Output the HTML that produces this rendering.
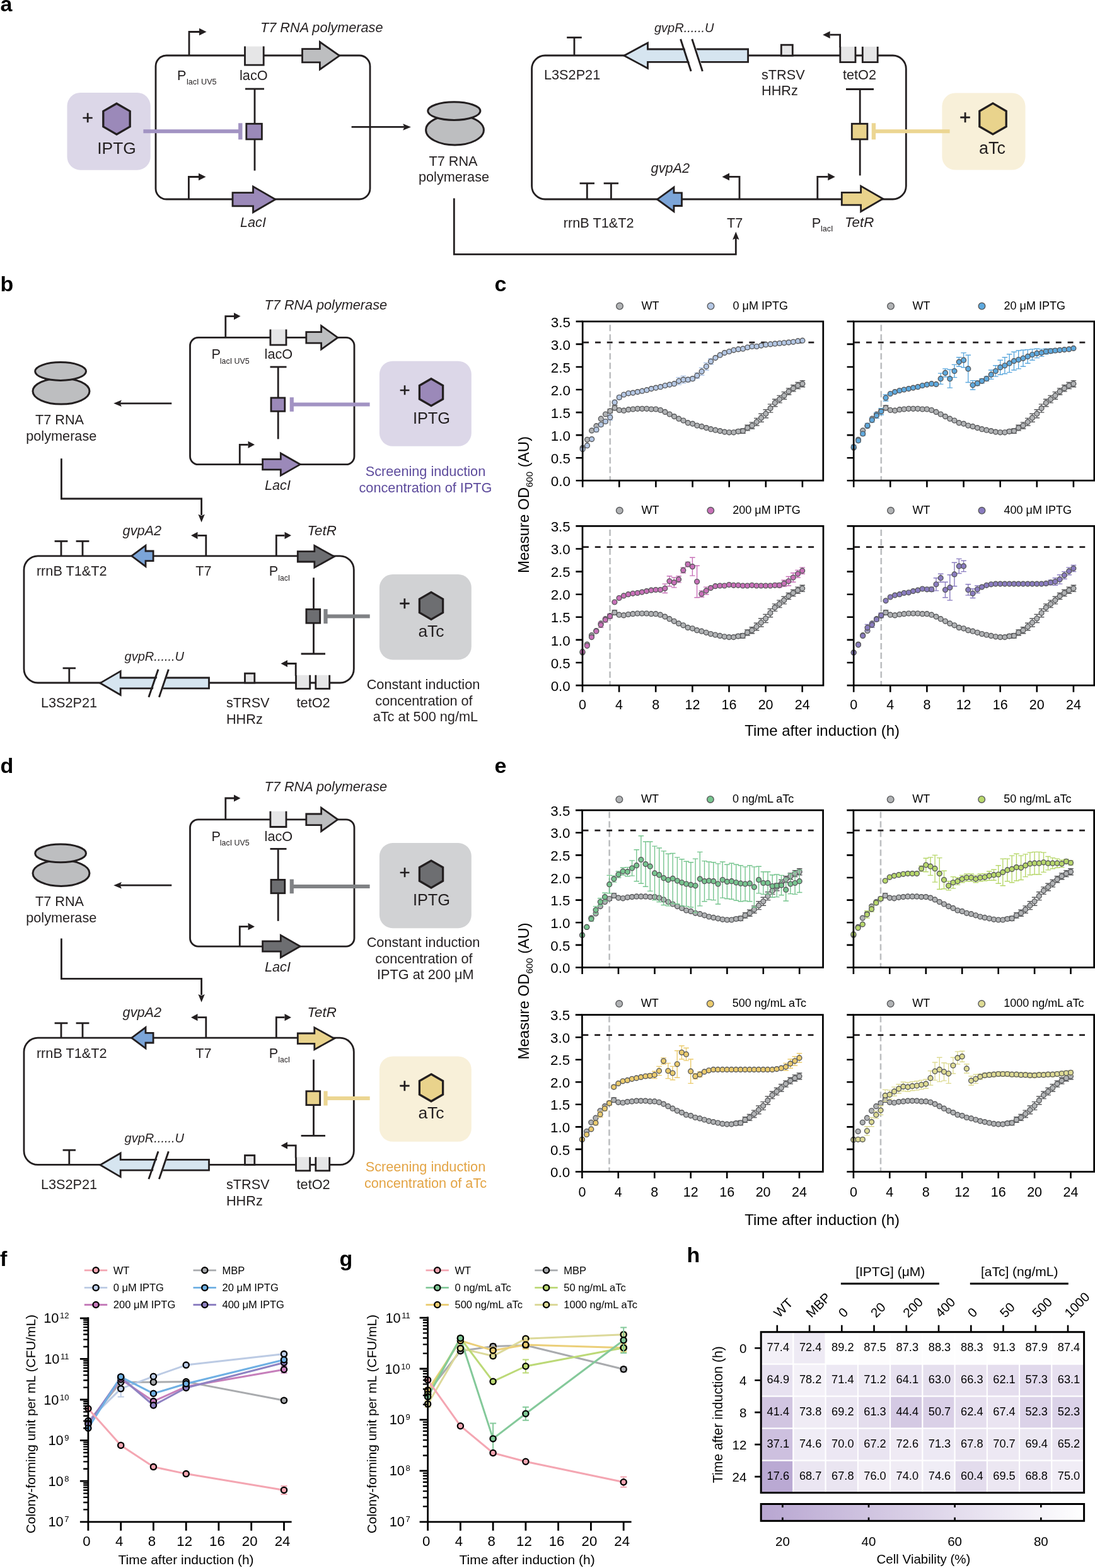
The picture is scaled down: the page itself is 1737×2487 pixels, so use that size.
<!DOCTYPE html>
<html><head><meta charset="utf-8"><title>Figure</title>
<style>
html,body{margin:0;padding:0;background:#fff;}
svg{display:block;}
text{font-family:'Liberation Sans',Arial,Helvetica,sans-serif;fill:#000;}
</style></head>
<body>
<svg width="1737" height="2487" viewBox="0 0 1737 2487">
<rect width="1737" height="2487" fill="#fff"/>
<text x="0.5" y="18.3" style="font-size:34px;font-weight:bold">a</text>
<text x="0.5" y="462" style="font-size:34px;font-weight:bold">b</text>
<text x="784.5" y="462" style="font-size:34px;font-weight:bold">c</text>
<text x="0.5" y="1226.4" style="font-size:34px;font-weight:bold">d</text>
<text x="784.5" y="1225.5" style="font-size:34px;font-weight:bold">e</text>
<text x="0.0" y="2008" style="font-size:34px;font-weight:bold">f</text>
<text x="538.5" y="2008" style="font-size:34px;font-weight:bold">g</text>
<text x="1089.5" y="2002" style="font-size:34px;font-weight:bold">h</text>
<rect x="247.0" y="88.0" width="340.0" height="228.0" rx="17" ry="17" fill="none" stroke="#231f20" stroke-width="2.8"/>
<polyline points="300.0,88.0 300.0,50.5 316.0,50.5" fill="none" stroke="#231f20" stroke-width="2.8" stroke-linejoin="miter"/>
<polygon points="316.0,44.7 327.5,50.5 316.0,56.3" fill="#231f20"/>
<rect x="388.5" y="73.6" width="29.7" height="29.5" fill="#e6e6e7"/>
<polyline points="388.5,73.6 388.5,103.1 418.2,103.1 418.2,73.6" fill="none" stroke="#231f20" stroke-width="2.8" stroke-linejoin="miter"/>
<polygon points="479.5,77.7 507.4,77.7 507.4,66.5 538.5,88.3 507.4,110.1 507.4,98.9 479.5,98.9" fill="#bdbec0" stroke="#231f20" stroke-width="2.8" stroke-linejoin="miter"/>
<text x="413.0" y="50.8" text-anchor="start" style="font-size:21.70px;fill:#231f20;font-style:italic">T7 RNA polymerase</text>
<text x="281.0" y="127.0" text-anchor="start" style="font-size:21.70px;fill:#231f20">P</text>
<text x="296.0" y="134.0" text-anchor="start" style="font-size:12.60px;fill:#231f20">lacI UV5</text>
<text x="380.0" y="127.0" text-anchor="start" style="font-size:21.70px;fill:#231f20">lacO</text>
<line x1="389.0" y1="141.0" x2="419.0" y2="141.0" stroke="#231f20" stroke-width="2.8"/>
<line x1="404.0" y1="141.0" x2="404.0" y2="270.6" stroke="#231f20" stroke-width="2.8"/>
<rect x="390.8" y="196.3" width="24.6" height="24.6" fill="#9b89b9" stroke="#231f20" stroke-width="2.8"/>
<polyline points="299.4,316.0 299.4,280.5 315.0,280.5" fill="none" stroke="#231f20" stroke-width="2.8" stroke-linejoin="miter"/>
<polygon points="315.0,274.7 326.5,280.5 315.0,286.3" fill="#231f20"/>
<polygon points="369.0,305.7 401.5,305.7 401.5,295.9 436.8,316.3 401.5,336.7 401.5,326.9 369.0,326.9" fill="#9b89b9" stroke="#231f20" stroke-width="2.8" stroke-linejoin="miter"/>
<text x="381.0" y="360.4" text-anchor="start" style="font-size:21.70px;fill:#231f20;font-style:italic">LacI</text>
<rect x="106.5" y="147.0" width="132.2" height="122.7" rx="21" ry="21" fill="#dcd7e8"/>
<polygon points="185.0,164.2 206.2,176.4 206.2,200.9 185.0,213.2 163.8,200.9 163.8,176.4" fill="#9b89b9" stroke="#231f20" stroke-width="3.3" stroke-linejoin="miter"/>
<text x="139.0" y="197.0" text-anchor="middle" style="font-size:30.36px;fill:#231f20" stroke="#231f20" stroke-width="0.45">+</text>
<text x="185.0" y="244.4" text-anchor="middle" style="font-size:26.40px;fill:#231f20">IPTG</text>
<line x1="227.4" y1="208.3" x2="381.3" y2="208.3" stroke="#a293c3" stroke-width="6"/>
<rect x="378.1" y="195.3" width="6.4" height="26.0" fill="#a293c3"/>
<line x1="557.6" y1="201.4" x2="641.4" y2="201.4" stroke="#231f20" stroke-width="2.8"/>
<polygon points="651.9,201.4 639.2,206.7 641.4,201.4 639.2,196.2" fill="#231f20"/>
<ellipse cx="721.5" cy="206.2" rx="45.9" ry="23.7" fill="#bdbec0" stroke="#231f20" stroke-width="3"/>
<ellipse cx="720.3" cy="176.1" rx="41.6" ry="14.3" fill="#bdbec0" stroke="#231f20" stroke-width="3"/>
<text x="719.0" y="263.0" text-anchor="middle" style="font-size:21.70px;fill:#231f20">T7 RNA</text>
<text x="720.0" y="288.4" text-anchor="middle" style="font-size:21.70px;fill:#231f20">polymerase</text>
<polyline points="720.3,314.6 720.3,403.3 1167.3,403.3 1167.3,376" fill="none" stroke="#231f20" stroke-width="2.8"/>
<polygon points="1167.3,367.5 1162.1,380.2 1167.3,378 1172.5,380.2" fill="#231f20"/>
<rect x="843.6" y="88.0" width="593.7" height="228.0" rx="21" ry="21" fill="none" stroke="#231f20" stroke-width="2.8"/>
<line x1="911.0" y1="88.0" x2="911.0" y2="59.5" stroke="#231f20" stroke-width="2.8"/>
<line x1="899.2" y1="59.5" x2="922.8" y2="59.5" stroke="#231f20" stroke-width="2.8"/>
<text x="863.0" y="126.0" text-anchor="start" style="font-size:21.70px;fill:#231f20">L3S2P21</text>
<polygon points="1186.6,78.0 1027.5,78.0 1027.5,68.0 990.0,88.2 1027.5,108.4 1027.5,98.4 1186.6,98.4" fill="#d6e5f0" stroke="#231f20" stroke-width="2.8" stroke-linejoin="miter"/>
<polygon points="1081.5,62 1099.9,62 1116.5,113 1098.1,113" fill="#ffffff"/>
<line x1="1079.6" y1="62.0" x2="1096.2" y2="113.0" stroke="#231f20" stroke-width="2.9"/>
<line x1="1097.8" y1="62.0" x2="1114.4" y2="113.0" stroke="#231f20" stroke-width="2.9"/>
<text x="1038.0" y="50.8" text-anchor="start" style="font-size:20.00px;fill:#231f20;font-style:italic">gvpR......U</text>
<rect x="1239.3" y="71.2" width="18" height="17" fill="#e6e6e7" stroke="#231f20" stroke-width="2.8"/>
<text x="1208.0" y="126.0" text-anchor="start" style="font-size:21.70px;fill:#231f20">sTRSV</text>
<text x="1208.0" y="151.3" text-anchor="start" style="font-size:21.70px;fill:#231f20">HHRz</text>
<rect x="1332.8" y="74.0" width="24.2" height="24.6" fill="#e6e6e7"/>
<polyline points="1332.8,74.0 1332.8,98.6 1357.0,98.6 1357.0,74.0" fill="none" stroke="#231f20" stroke-width="2.8" stroke-linejoin="miter"/>
<rect x="1368.3" y="74.0" width="23.9" height="24.6" fill="#e6e6e7"/>
<polyline points="1368.3,74.0 1368.3,98.6 1392.2,98.6 1392.2,74.0" fill="none" stroke="#231f20" stroke-width="2.8" stroke-linejoin="miter"/>
<polyline points="1332.6,75.0 1332.6,55.2 1316.7,55.2" fill="none" stroke="#231f20" stroke-width="2.8" stroke-linejoin="miter"/>
<polygon points="1316.7,49.4 1305.2,55.2 1316.7,61.0" fill="#231f20"/>
<text x="1337.0" y="125.7" text-anchor="start" style="font-size:21.70px;fill:#231f20">tetO2</text>
<line x1="1342.0" y1="141.5" x2="1386.0" y2="141.5" stroke="#231f20" stroke-width="2.8"/>
<line x1="1364.2" y1="141.5" x2="1364.2" y2="278.4" stroke="#231f20" stroke-width="2.8"/>
<rect x="1351.3" y="196.3" width="24.6" height="24.6" fill="#e9d38c" stroke="#231f20" stroke-width="2.8"/>
<rect x="1494.4" y="147.5" width="132.1" height="122.1" rx="21" ry="21" fill="#f8f0d9"/>
<polygon points="1575.0,163.9 1596.2,176.2 1596.2,200.7 1575.0,212.9 1553.8,200.7 1553.8,176.2" fill="#e9d38c" stroke="#231f20" stroke-width="3.3" stroke-linejoin="miter"/>
<text x="1531.0" y="197.0" text-anchor="middle" style="font-size:31.05px;fill:#231f20" stroke="#231f20" stroke-width="0.45">+</text>
<text x="1574.0" y="243.8" text-anchor="middle" style="font-size:27.00px;fill:#231f20">aTc</text>
<line x1="1506.6" y1="208.3" x2="1385.9" y2="208.3" stroke="#ecd692" stroke-width="6"/>
<rect x="1382.7" y="195.3" width="6.4" height="26.0" fill="#ecd692"/>
<line x1="931.3" y1="316.0" x2="931.3" y2="290.8" stroke="#231f20" stroke-width="2.8"/>
<line x1="919.6" y1="290.8" x2="943.0" y2="290.8" stroke="#231f20" stroke-width="2.8"/>
<line x1="969.4" y1="316.0" x2="969.4" y2="290.8" stroke="#231f20" stroke-width="2.8"/>
<line x1="957.7" y1="290.8" x2="981.1" y2="290.8" stroke="#231f20" stroke-width="2.8"/>
<polygon points="1081.5,305.9 1069.0,305.9 1069.0,297.0 1042.6,316.2 1069.0,335.4 1069.0,326.5 1081.5,326.5" fill="#7ca5d8" stroke="#231f20" stroke-width="2.8" stroke-linejoin="miter"/>
<text x="1032.6" y="273.5" text-anchor="start" style="font-size:21.70px;fill:#231f20;font-style:italic">gvpA2</text>
<polyline points="1173.0,316.0 1173.0,280.4 1157.0,280.4" fill="none" stroke="#231f20" stroke-width="2.8" stroke-linejoin="miter"/>
<polygon points="1157.0,274.6 1145.5,280.4 1157.0,286.2" fill="#231f20"/>
<polyline points="1296.8,316.0 1296.8,280.4 1313.3,280.4" fill="none" stroke="#231f20" stroke-width="2.8" stroke-linejoin="miter"/>
<polygon points="1313.3,274.6 1324.8,280.4 1313.3,286.2" fill="#231f20"/>
<polygon points="1335.3,305.4 1365.6,305.4 1365.6,295.1 1400.5,315.3 1365.6,335.5 1365.6,325.2 1335.3,325.2" fill="#e9d38c" stroke="#231f20" stroke-width="2.8" stroke-linejoin="miter"/>
<text x="1340.0" y="360.0" text-anchor="start" style="font-size:22.30px;fill:#231f20;font-style:italic">TetR</text>
<text x="893.8" y="360.5" text-anchor="start" style="font-size:21.70px;fill:#231f20">rrnB T1&amp;T2</text>
<text x="1153.0" y="360.5" text-anchor="start" style="font-size:21.70px;fill:#231f20">T7</text>
<text x="1287.7" y="360.5" text-anchor="start" style="font-size:21.70px;fill:#231f20">P</text>
<text x="1302.0" y="367.0" text-anchor="start" style="font-size:12.60px;fill:#231f20">lacI</text>
<rect x="301.5" y="535.4" width="260.5" height="201.3" rx="13" ry="13" fill="none" stroke="#231f20" stroke-width="2.8"/>
<polyline points="357.8,535.4 357.8,501.6 371.0,501.6" fill="none" stroke="#231f20" stroke-width="2.8" stroke-linejoin="miter"/>
<polygon points="371.0,496.0 381.5,501.6 371.0,507.2" fill="#231f20"/>
<rect x="428.9" y="522.4" width="25.1" height="24.7" fill="#e6e6e7"/>
<polyline points="428.9,522.4 428.9,547.1 454.0,547.1 454.0,522.4" fill="none" stroke="#231f20" stroke-width="2.8" stroke-linejoin="miter"/>
<polygon points="485.8,526.6 509.6,526.6 509.6,516.7 535.8,535.4 509.6,554.1 509.6,544.2 485.8,544.2" fill="#bdbec0" stroke="#231f20" stroke-width="2.8" stroke-linejoin="miter"/>
<text x="419.6" y="491.0" text-anchor="start" style="font-size:21.70px;fill:#231f20;font-style:italic">T7 RNA polymerase</text>
<text x="335.5" y="569.3" text-anchor="start" style="font-size:21.70px;fill:#231f20">P</text>
<text x="348.8" y="576.7" text-anchor="start" style="font-size:12.40px;fill:#231f20">lacI UV5</text>
<text x="419.6" y="569.3" text-anchor="start" style="font-size:21.70px;fill:#231f20">lacO</text>
<line x1="428.5" y1="582.0" x2="454.5" y2="582.0" stroke="#231f20" stroke-width="2.8"/>
<line x1="441.2" y1="582.0" x2="441.2" y2="696.4" stroke="#231f20" stroke-width="2.8"/>
<rect x="430.0" y="631.0" width="21.8" height="21.3" fill="#9b89b9" stroke="#231f20" stroke-width="2.8"/>
<line x1="586.6" y1="641.5" x2="462.8" y2="641.5" stroke="#a293c3" stroke-width="6"/>
<rect x="459.7" y="630.2" width="6.2" height="22.6" fill="#a293c3"/>
<polyline points="380.3,736.7 380.3,705.3 393.5,705.3" fill="none" stroke="#231f20" stroke-width="2.8" stroke-linejoin="miter"/>
<polygon points="393.5,699.7 404.0,705.3 393.5,710.9" fill="#231f20"/>
<polygon points="416.6,728.4 445.3,728.4 445.3,719.0 476.2,736.6 445.3,754.2 445.3,744.8 416.6,744.8" fill="#9b89b9" stroke="#231f20" stroke-width="2.8" stroke-linejoin="miter"/>
<text x="420.0" y="776.6" text-anchor="start" style="font-size:21.70px;fill:#231f20;font-style:italic">LacI</text>
<rect x="601.9" y="572.7" width="145.9" height="135.1" rx="21" ry="21" fill="#dcd7e8"/>
<polygon points="684.0,600.7 702.6,611.5 702.6,633.0 684.0,643.7 665.4,633.0 665.4,611.5" fill="#9b89b9" stroke="#231f20" stroke-width="3.3" stroke-linejoin="miter"/>
<text x="642.0" y="629.2" text-anchor="middle" style="font-size:29.21px;fill:#231f20" stroke="#231f20" stroke-width="0.45">+</text>
<text x="684.5" y="671.5" text-anchor="middle" style="font-size:25.40px;fill:#231f20">IPTG</text>
<line x1="272.3" y1="639.8" x2="190.7" y2="639.8" stroke="#231f20" stroke-width="2.8"/>
<polygon points="180.2,639.8 192.9,634.5 190.7,639.8 192.9,645.0" fill="#231f20"/>
<ellipse cx="97.0" cy="620.5" rx="45.0" ry="20.6" fill="#bdbec0" stroke="#231f20" stroke-width="3"/>
<ellipse cx="96.1" cy="589.0" rx="40.4" ry="14.4" fill="#bdbec0" stroke="#231f20" stroke-width="3"/>
<text x="94.5" y="672.8" text-anchor="middle" style="font-size:21.70px;fill:#231f20">T7 RNA</text>
<text x="97.3" y="699.0" text-anchor="middle" style="font-size:21.70px;fill:#231f20">polymerase</text>
<polyline points="97.4,727.2 97.4,791.0 319.6,791.0 319.6,817.0" fill="none" stroke="#231f20" stroke-width="2.8"/>
<polygon points="319.6,828.5 314.4,815.8 319.6,818.0 324.8,815.8" fill="#231f20"/>
<rect x="38.0" y="881.8" width="523.3" height="201.2" rx="22" ry="22" fill="none" stroke="#231f20" stroke-width="2.8"/>
<line x1="97.0" y1="881.8" x2="97.0" y2="858.4" stroke="#231f20" stroke-width="2.8"/>
<line x1="86.6" y1="858.4" x2="107.4" y2="858.4" stroke="#231f20" stroke-width="2.8"/>
<line x1="131.0" y1="881.8" x2="131.0" y2="858.4" stroke="#231f20" stroke-width="2.8"/>
<line x1="120.6" y1="858.4" x2="141.4" y2="858.4" stroke="#231f20" stroke-width="2.8"/>
<polygon points="243.1,874.0 231.0,874.0 231.0,865.2 208.8,881.8 231.0,898.4 231.0,889.6 243.1,889.6" fill="#7ca5d8" stroke="#231f20" stroke-width="2.8" stroke-linejoin="miter"/>
<text x="194.6" y="849.0" text-anchor="start" style="font-size:21.70px;fill:#231f20;font-style:italic">gvpA2</text>
<polyline points="326.8,881.8 326.8,849.3 313.5,849.3" fill="none" stroke="#231f20" stroke-width="2.8" stroke-linejoin="miter"/>
<polygon points="313.5,843.7 303.0,849.3 313.5,854.9" fill="#231f20"/>
<text x="57.9" y="913.4" text-anchor="start" style="font-size:21.70px;fill:#231f20">rrnB T1&amp;T2</text>
<text x="310.3" y="913.4" text-anchor="start" style="font-size:21.70px;fill:#231f20">T7</text>
<polyline points="438.3,881.8 438.3,849.3 451.5,849.3" fill="none" stroke="#231f20" stroke-width="2.8" stroke-linejoin="miter"/>
<polygon points="451.5,843.7 462.0,849.3 451.5,854.9" fill="#231f20"/>
<polygon points="472.3,874.6 498.8,874.6 498.8,865.4 530.2,882.8 498.8,900.2 498.8,891.0 472.3,891.0" fill="#6d6e71" stroke="#231f20" stroke-width="2.8" stroke-linejoin="miter"/>
<text x="487.5" y="849.0" text-anchor="start" style="font-size:22.30px;fill:#231f20;font-style:italic">TetR</text>
<text x="426.7" y="913.4" text-anchor="start" style="font-size:21.70px;fill:#231f20">P</text>
<text x="441.2" y="920.7" text-anchor="start" style="font-size:12.20px;fill:#231f20">lacI</text>
<line x1="497.5" y1="916.2" x2="497.5" y2="1037.0" stroke="#231f20" stroke-width="2.8"/>
<line x1="477.6" y1="1037.0" x2="516.0" y2="1037.0" stroke="#231f20" stroke-width="2.8"/>
<rect x="485.9" y="966.4" width="21.8" height="21.8" fill="#6d6e71" stroke="#231f20" stroke-width="2.8"/>
<line x1="586.7" y1="977.6" x2="516.5" y2="977.6" stroke="#808285" stroke-width="6"/>
<rect x="513.4" y="966.1" width="6.2" height="23.0" fill="#808285"/>
<rect x="601.9" y="911.0" width="145.9" height="135.4" rx="21" ry="21" fill="#d1d2d4"/>
<polygon points="684.0,939.4 702.6,950.1 702.6,971.6 684.0,982.4 665.4,971.6 665.4,950.1" fill="#6d6e71" stroke="#231f20" stroke-width="3.3" stroke-linejoin="miter"/>
<text x="642.0" y="968.2" text-anchor="middle" style="font-size:30.47px;fill:#231f20" stroke="#231f20" stroke-width="0.45">+</text>
<text x="684.0" y="1009.7" text-anchor="middle" style="font-size:26.50px;fill:#231f20">aTc</text>
<line x1="109.8" y1="1083.0" x2="109.8" y2="1059.8" stroke="#231f20" stroke-width="2.8"/>
<line x1="99.6" y1="1059.8" x2="120.0" y2="1059.8" stroke="#231f20" stroke-width="2.8"/>
<polygon points="331.5,1075.0 191.2,1075.0 191.2,1064.6 159.0,1083.4 191.2,1102.2 191.2,1091.8 331.5,1091.8" fill="#d6e5f0" stroke="#231f20" stroke-width="2.8" stroke-linejoin="miter"/>
<polygon points="253.4,1061.8 268.8,1061.8 253.7,1105.7 238.3,1105.7" fill="#ffffff"/>
<line x1="251.0" y1="1061.8" x2="235.9" y2="1105.7" stroke="#231f20" stroke-width="2.9"/>
<line x1="267.4" y1="1061.8" x2="252.4" y2="1105.7" stroke="#231f20" stroke-width="2.9"/>
<text x="197.6" y="1047.9" text-anchor="start" style="font-size:20.00px;fill:#231f20;font-style:italic">gvpR......U</text>
<text x="64.9" y="1121.7" text-anchor="start" style="font-size:21.70px;fill:#231f20">L3S2P21</text>
<rect x="388.5" y="1068.1" width="15.3" height="14.9" fill="#e6e6e7" stroke="#231f20" stroke-width="2.8"/>
<polyline points="469.2,1072.0 469.2,1052.5 456.0,1052.5" fill="none" stroke="#231f20" stroke-width="2.8" stroke-linejoin="miter"/>
<polygon points="456.0,1046.9 445.5,1052.5 456.0,1058.1" fill="#231f20"/>
<rect x="469.5" y="1070.8" width="22.2" height="21.6" fill="#e6e6e7"/>
<polyline points="469.5,1070.8 469.5,1092.4 491.7,1092.4 491.7,1070.8" fill="none" stroke="#231f20" stroke-width="2.8" stroke-linejoin="miter"/>
<rect x="500.8" y="1070.8" width="21.9" height="21.6" fill="#e6e6e7"/>
<polyline points="500.8,1070.8 500.8,1092.4 522.7,1092.4 522.7,1070.8" fill="none" stroke="#231f20" stroke-width="2.8" stroke-linejoin="miter"/>
<text x="358.9" y="1121.7" text-anchor="start" style="font-size:21.70px;fill:#231f20">sTRSV</text>
<text x="358.9" y="1147.6" text-anchor="start" style="font-size:21.70px;fill:#231f20">HHRz</text>
<text x="470.6" y="1121.7" text-anchor="start" style="font-size:21.70px;fill:#231f20">tetO2</text>
<text x="675.0" y="754.5" text-anchor="middle" style="font-size:21.70px;fill:#5d4b9c">Screening induction</text>
<text x="675.0" y="780.7" text-anchor="middle" style="font-size:21.70px;fill:#5d4b9c">concentration of IPTG</text>
<text x="671.5" y="1092.8" text-anchor="middle" style="font-size:21.70px;fill:#231f20">Constant induction</text>
<text x="672.5" y="1119.0" text-anchor="middle" style="font-size:21.70px;fill:#231f20">concentration of</text>
<text x="674.9" y="1144.4" text-anchor="middle" style="font-size:21.70px;fill:#231f20">aTc at 500 ng/mL</text>
<rect x="301.5" y="1299.8" width="260.5" height="201.3" rx="13" ry="13" fill="none" stroke="#231f20" stroke-width="2.8"/>
<polyline points="357.8,1299.8 357.8,1266.0 371.0,1266.0" fill="none" stroke="#231f20" stroke-width="2.8" stroke-linejoin="miter"/>
<polygon points="371.0,1260.4 381.5,1266.0 371.0,1271.6" fill="#231f20"/>
<rect x="428.9" y="1286.8" width="25.1" height="24.7" fill="#e6e6e7"/>
<polyline points="428.9,1286.8 428.9,1311.5 454.0,1311.5 454.0,1286.8" fill="none" stroke="#231f20" stroke-width="2.8" stroke-linejoin="miter"/>
<polygon points="485.8,1291.0 509.6,1291.0 509.6,1281.1 535.8,1299.8 509.6,1318.5 509.6,1308.6 485.8,1308.6" fill="#bdbec0" stroke="#231f20" stroke-width="2.8" stroke-linejoin="miter"/>
<text x="419.6" y="1255.4" text-anchor="start" style="font-size:21.70px;fill:#231f20;font-style:italic">T7 RNA polymerase</text>
<text x="335.5" y="1333.7" text-anchor="start" style="font-size:21.70px;fill:#231f20">P</text>
<text x="348.8" y="1341.1" text-anchor="start" style="font-size:12.40px;fill:#231f20">lacI UV5</text>
<text x="419.6" y="1333.7" text-anchor="start" style="font-size:21.70px;fill:#231f20">lacO</text>
<line x1="428.5" y1="1346.4" x2="454.5" y2="1346.4" stroke="#231f20" stroke-width="2.8"/>
<line x1="441.2" y1="1346.4" x2="441.2" y2="1460.8" stroke="#231f20" stroke-width="2.8"/>
<rect x="430.0" y="1395.4" width="21.8" height="21.3" fill="#6d6e71" stroke="#231f20" stroke-width="2.8"/>
<line x1="586.6" y1="1405.9" x2="462.8" y2="1405.9" stroke="#808285" stroke-width="6"/>
<rect x="459.7" y="1394.6" width="6.2" height="22.6" fill="#808285"/>
<polyline points="380.3,1501.1 380.3,1469.7 393.5,1469.7" fill="none" stroke="#231f20" stroke-width="2.8" stroke-linejoin="miter"/>
<polygon points="393.5,1464.1 404.0,1469.7 393.5,1475.3" fill="#231f20"/>
<polygon points="416.6,1492.8 445.3,1492.8 445.3,1483.4 476.2,1501.0 445.3,1518.6 445.3,1509.2 416.6,1509.2" fill="#6d6e71" stroke="#231f20" stroke-width="2.8" stroke-linejoin="miter"/>
<text x="420.0" y="1541.0" text-anchor="start" style="font-size:21.70px;fill:#231f20;font-style:italic">LacI</text>
<rect x="601.9" y="1337.1" width="145.9" height="135.1" rx="21" ry="21" fill="#d1d2d4"/>
<polygon points="684.0,1365.1 702.6,1375.8 702.6,1397.3 684.0,1408.1 665.4,1397.3 665.4,1375.8" fill="#6d6e71" stroke="#231f20" stroke-width="3.3" stroke-linejoin="miter"/>
<text x="642.0" y="1393.6" text-anchor="middle" style="font-size:29.21px;fill:#231f20" stroke="#231f20" stroke-width="0.45">+</text>
<text x="684.5" y="1435.9" text-anchor="middle" style="font-size:25.40px;fill:#231f20">IPTG</text>
<line x1="272.3" y1="1404.2" x2="190.7" y2="1404.2" stroke="#231f20" stroke-width="2.8"/>
<polygon points="180.2,1404.2 192.9,1398.9 190.7,1404.2 192.9,1409.4" fill="#231f20"/>
<ellipse cx="97.0" cy="1384.9" rx="45.0" ry="20.6" fill="#bdbec0" stroke="#231f20" stroke-width="3"/>
<ellipse cx="96.1" cy="1353.4" rx="40.4" ry="14.4" fill="#bdbec0" stroke="#231f20" stroke-width="3"/>
<text x="94.5" y="1437.2" text-anchor="middle" style="font-size:21.70px;fill:#231f20">T7 RNA</text>
<text x="97.3" y="1463.4" text-anchor="middle" style="font-size:21.70px;fill:#231f20">polymerase</text>
<polyline points="97.4,1488.5 97.4,1552.3 319.6,1552.3 319.6,1578.3" fill="none" stroke="#231f20" stroke-width="2.8"/>
<polygon points="319.6,1589.8 314.4,1577.1 319.6,1579.3 324.8,1577.1" fill="#231f20"/>
<rect x="38.0" y="1646.2" width="523.3" height="201.2" rx="22" ry="22" fill="none" stroke="#231f20" stroke-width="2.8"/>
<line x1="97.0" y1="1646.2" x2="97.0" y2="1622.8" stroke="#231f20" stroke-width="2.8"/>
<line x1="86.6" y1="1622.8" x2="107.4" y2="1622.8" stroke="#231f20" stroke-width="2.8"/>
<line x1="131.0" y1="1646.2" x2="131.0" y2="1622.8" stroke="#231f20" stroke-width="2.8"/>
<line x1="120.6" y1="1622.8" x2="141.4" y2="1622.8" stroke="#231f20" stroke-width="2.8"/>
<polygon points="243.1,1638.4 231.0,1638.4 231.0,1629.6 208.8,1646.2 231.0,1662.8 231.0,1654.0 243.1,1654.0" fill="#7ca5d8" stroke="#231f20" stroke-width="2.8" stroke-linejoin="miter"/>
<text x="194.6" y="1613.4" text-anchor="start" style="font-size:21.70px;fill:#231f20;font-style:italic">gvpA2</text>
<polyline points="326.8,1646.2 326.8,1613.7 313.5,1613.7" fill="none" stroke="#231f20" stroke-width="2.8" stroke-linejoin="miter"/>
<polygon points="313.5,1608.1 303.0,1613.7 313.5,1619.3" fill="#231f20"/>
<text x="57.9" y="1677.8" text-anchor="start" style="font-size:21.70px;fill:#231f20">rrnB T1&amp;T2</text>
<text x="310.3" y="1677.8" text-anchor="start" style="font-size:21.70px;fill:#231f20">T7</text>
<polyline points="438.3,1646.2 438.3,1613.7 451.5,1613.7" fill="none" stroke="#231f20" stroke-width="2.8" stroke-linejoin="miter"/>
<polygon points="451.5,1608.1 462.0,1613.7 451.5,1619.3" fill="#231f20"/>
<polygon points="472.3,1639.0 498.8,1639.0 498.8,1629.8 530.2,1647.2 498.8,1664.6 498.8,1655.4 472.3,1655.4" fill="#e9d38c" stroke="#231f20" stroke-width="2.8" stroke-linejoin="miter"/>
<text x="487.5" y="1613.4" text-anchor="start" style="font-size:22.30px;fill:#231f20;font-style:italic">TetR</text>
<text x="426.7" y="1677.8" text-anchor="start" style="font-size:21.70px;fill:#231f20">P</text>
<text x="441.2" y="1685.1" text-anchor="start" style="font-size:12.20px;fill:#231f20">lacI</text>
<line x1="497.5" y1="1680.6" x2="497.5" y2="1801.4" stroke="#231f20" stroke-width="2.8"/>
<line x1="477.6" y1="1801.4" x2="516.0" y2="1801.4" stroke="#231f20" stroke-width="2.8"/>
<rect x="485.9" y="1730.8" width="21.8" height="21.8" fill="#e9d38c" stroke="#231f20" stroke-width="2.8"/>
<line x1="586.7" y1="1742.0" x2="516.5" y2="1742.0" stroke="#ecd692" stroke-width="6"/>
<rect x="513.4" y="1730.5" width="6.2" height="23.0" fill="#ecd692"/>
<rect x="601.9" y="1675.4" width="145.9" height="135.4" rx="21" ry="21" fill="#f8f0d9"/>
<polygon points="684.0,1703.8 702.6,1714.5 702.6,1736.0 684.0,1746.8 665.4,1736.0 665.4,1714.5" fill="#e9d38c" stroke="#231f20" stroke-width="3.3" stroke-linejoin="miter"/>
<text x="642.0" y="1732.6" text-anchor="middle" style="font-size:30.47px;fill:#231f20" stroke="#231f20" stroke-width="0.45">+</text>
<text x="684.0" y="1774.1" text-anchor="middle" style="font-size:26.50px;fill:#231f20">aTc</text>
<line x1="109.8" y1="1847.4" x2="109.8" y2="1824.2" stroke="#231f20" stroke-width="2.8"/>
<line x1="99.6" y1="1824.2" x2="120.0" y2="1824.2" stroke="#231f20" stroke-width="2.8"/>
<polygon points="331.5,1839.4 191.2,1839.4 191.2,1829.0 159.0,1847.8 191.2,1866.6 191.2,1856.2 331.5,1856.2" fill="#d6e5f0" stroke="#231f20" stroke-width="2.8" stroke-linejoin="miter"/>
<polygon points="253.4,1826.2 268.8,1826.2 253.7,1870.1 238.3,1870.1" fill="#ffffff"/>
<line x1="251.0" y1="1826.2" x2="235.9" y2="1870.1" stroke="#231f20" stroke-width="2.9"/>
<line x1="267.4" y1="1826.2" x2="252.4" y2="1870.1" stroke="#231f20" stroke-width="2.9"/>
<text x="197.6" y="1812.3" text-anchor="start" style="font-size:20.00px;fill:#231f20;font-style:italic">gvpR......U</text>
<text x="64.9" y="1886.1" text-anchor="start" style="font-size:21.70px;fill:#231f20">L3S2P21</text>
<rect x="388.5" y="1832.5" width="15.3" height="14.9" fill="#e6e6e7" stroke="#231f20" stroke-width="2.8"/>
<polyline points="469.2,1836.4 469.2,1816.9 456.0,1816.9" fill="none" stroke="#231f20" stroke-width="2.8" stroke-linejoin="miter"/>
<polygon points="456.0,1811.3 445.5,1816.9 456.0,1822.5" fill="#231f20"/>
<rect x="469.5" y="1835.2" width="22.2" height="21.6" fill="#e6e6e7"/>
<polyline points="469.5,1835.2 469.5,1856.8 491.7,1856.8 491.7,1835.2" fill="none" stroke="#231f20" stroke-width="2.8" stroke-linejoin="miter"/>
<rect x="500.8" y="1835.2" width="21.9" height="21.6" fill="#e6e6e7"/>
<polyline points="500.8,1835.2 500.8,1856.8 522.7,1856.8 522.7,1835.2" fill="none" stroke="#231f20" stroke-width="2.8" stroke-linejoin="miter"/>
<text x="358.9" y="1886.1" text-anchor="start" style="font-size:21.70px;fill:#231f20">sTRSV</text>
<text x="358.9" y="1912.0" text-anchor="start" style="font-size:21.70px;fill:#231f20">HHRz</text>
<text x="470.6" y="1886.1" text-anchor="start" style="font-size:21.70px;fill:#231f20">tetO2</text>
<text x="671.5" y="1501.8" text-anchor="middle" style="font-size:21.70px;fill:#231f20">Constant induction</text>
<text x="672.5" y="1528.0" text-anchor="middle" style="font-size:21.70px;fill:#231f20">concentration of</text>
<text x="674.8" y="1553.4" text-anchor="middle" style="font-size:21.70px;fill:#231f20">IPTG at 200 μM</text>
<text x="675.0" y="1857.5" text-anchor="middle" style="font-size:21.70px;fill:#e3a445">Screening induction</text>
<text x="675.0" y="1883.7" text-anchor="middle" style="font-size:21.70px;fill:#e3a445">concentration of aTc</text>
<line x1="967.8" y1="762.2" x2="967.8" y2="509.9" stroke="#bcbec0" stroke-width="2.6" stroke-dasharray="10 5" stroke-dashoffset="3"/>
<line x1="925.2" y1="543.1" x2="1294.2" y2="543.1" stroke="#231f20" stroke-width="2.7" stroke-dasharray="8.9 9.9"/>
<path d="M967.8,654.8V649.0M963.5,654.8h8.6M963.5,649.0h8.6" stroke="#58595b" stroke-width="1.4" fill="none"/>
<path d="M975.1,650.5V643.3M970.8,650.5h8.6M970.8,643.3h8.6" stroke="#58595b" stroke-width="1.4" fill="none"/>
<path d="M1171.2,687.2V681.5M1166.9,687.2h8.6M1166.9,681.5h8.6" stroke="#58595b" stroke-width="1.4" fill="none"/>
<path d="M1178.5,687.2V680.0M1174.2,687.2h8.6M1174.2,680.0h8.6" stroke="#58595b" stroke-width="1.4" fill="none"/>
<path d="M1185.7,682.9V674.3M1181.4,682.9h8.6M1181.4,674.3h8.6" stroke="#58595b" stroke-width="1.4" fill="none"/>
<path d="M1193.0,680.0V669.9M1188.7,680.0h8.6M1188.7,669.9h8.6" stroke="#58595b" stroke-width="1.4" fill="none"/>
<path d="M1200.3,675.0V663.4M1196.0,675.0h8.6M1196.0,663.4h8.6" stroke="#58595b" stroke-width="1.4" fill="none"/>
<path d="M1207.5,669.2V656.2M1203.2,669.2h8.6M1203.2,656.2h8.6" stroke="#58595b" stroke-width="1.4" fill="none"/>
<path d="M1214.8,662.7V649.7M1210.5,662.7h8.6M1210.5,649.7h8.6" stroke="#58595b" stroke-width="1.4" fill="none"/>
<path d="M1222.1,654.1V641.1M1217.8,654.1h8.6M1217.8,641.1h8.6" stroke="#58595b" stroke-width="1.4" fill="none"/>
<path d="M1229.3,644.7V633.2M1225.0,644.7h8.6M1225.0,633.2h8.6" stroke="#58595b" stroke-width="1.4" fill="none"/>
<path d="M1236.6,638.9V627.4M1232.3,638.9h8.6M1232.3,627.4h8.6" stroke="#58595b" stroke-width="1.4" fill="none"/>
<path d="M1243.9,633.2V621.6M1239.6,633.2h8.6M1239.6,621.6h8.6" stroke="#58595b" stroke-width="1.4" fill="none"/>
<path d="M1251.1,626.0V615.9M1246.8,626.0h8.6M1246.8,615.9h8.6" stroke="#58595b" stroke-width="1.4" fill="none"/>
<path d="M1258.4,620.9V610.8M1254.1,620.9h8.6M1254.1,610.8h8.6" stroke="#58595b" stroke-width="1.4" fill="none"/>
<path d="M1265.7,616.6V606.5M1261.4,616.6h8.6M1261.4,606.5h8.6" stroke="#58595b" stroke-width="1.4" fill="none"/>
<path d="M1272.9,613.7V603.6M1268.6,613.7h8.6M1268.6,603.6h8.6" stroke="#58595b" stroke-width="1.4" fill="none"/>
<circle cx="924.2" cy="710.3" r="3.9" fill="#b1b3b5" stroke="#58595b" stroke-width="1.4"/>
<circle cx="931.5" cy="697.3" r="3.9" fill="#b1b3b5" stroke="#58595b" stroke-width="1.4"/>
<circle cx="938.7" cy="682.9" r="3.9" fill="#b1b3b5" stroke="#58595b" stroke-width="1.4"/>
<circle cx="946.0" cy="675.7" r="3.9" fill="#b1b3b5" stroke="#58595b" stroke-width="1.4"/>
<circle cx="953.3" cy="664.2" r="3.9" fill="#b1b3b5" stroke="#58595b" stroke-width="1.4"/>
<circle cx="960.5" cy="657.0" r="3.9" fill="#b1b3b5" stroke="#58595b" stroke-width="1.4"/>
<circle cx="967.8" cy="651.9" r="3.9" fill="#b1b3b5" stroke="#58595b" stroke-width="1.4"/>
<circle cx="975.1" cy="646.9" r="3.9" fill="#b1b3b5" stroke="#58595b" stroke-width="1.4"/>
<circle cx="982.3" cy="650.5" r="3.9" fill="#b1b3b5" stroke="#58595b" stroke-width="1.4"/>
<circle cx="989.6" cy="651.2" r="3.9" fill="#b1b3b5" stroke="#58595b" stroke-width="1.4"/>
<circle cx="996.9" cy="649.7" r="3.9" fill="#b1b3b5" stroke="#58595b" stroke-width="1.4"/>
<circle cx="1004.1" cy="649.0" r="3.9" fill="#b1b3b5" stroke="#58595b" stroke-width="1.4"/>
<circle cx="1011.4" cy="648.3" r="3.9" fill="#b1b3b5" stroke="#58595b" stroke-width="1.4"/>
<circle cx="1018.6" cy="648.3" r="3.9" fill="#b1b3b5" stroke="#58595b" stroke-width="1.4"/>
<circle cx="1025.9" cy="648.3" r="3.9" fill="#b1b3b5" stroke="#58595b" stroke-width="1.4"/>
<circle cx="1033.2" cy="649.0" r="3.9" fill="#b1b3b5" stroke="#58595b" stroke-width="1.4"/>
<circle cx="1040.4" cy="649.0" r="3.9" fill="#b1b3b5" stroke="#58595b" stroke-width="1.4"/>
<circle cx="1047.7" cy="650.5" r="3.9" fill="#b1b3b5" stroke="#58595b" stroke-width="1.4"/>
<circle cx="1055.0" cy="653.4" r="3.9" fill="#b1b3b5" stroke="#58595b" stroke-width="1.4"/>
<circle cx="1062.2" cy="657.0" r="3.9" fill="#b1b3b5" stroke="#58595b" stroke-width="1.4"/>
<circle cx="1069.5" cy="660.6" r="3.9" fill="#b1b3b5" stroke="#58595b" stroke-width="1.4"/>
<circle cx="1076.8" cy="664.2" r="3.9" fill="#b1b3b5" stroke="#58595b" stroke-width="1.4"/>
<circle cx="1084.0" cy="667.0" r="3.9" fill="#b1b3b5" stroke="#58595b" stroke-width="1.4"/>
<circle cx="1091.3" cy="670.7" r="3.9" fill="#b1b3b5" stroke="#58595b" stroke-width="1.4"/>
<circle cx="1098.6" cy="672.1" r="3.9" fill="#b1b3b5" stroke="#58595b" stroke-width="1.4"/>
<circle cx="1105.8" cy="675.0" r="3.9" fill="#b1b3b5" stroke="#58595b" stroke-width="1.4"/>
<circle cx="1113.1" cy="676.4" r="3.9" fill="#b1b3b5" stroke="#58595b" stroke-width="1.4"/>
<circle cx="1120.4" cy="678.6" r="3.9" fill="#b1b3b5" stroke="#58595b" stroke-width="1.4"/>
<circle cx="1127.6" cy="680.7" r="3.9" fill="#b1b3b5" stroke="#58595b" stroke-width="1.4"/>
<circle cx="1134.9" cy="682.2" r="3.9" fill="#b1b3b5" stroke="#58595b" stroke-width="1.4"/>
<circle cx="1142.2" cy="683.6" r="3.9" fill="#b1b3b5" stroke="#58595b" stroke-width="1.4"/>
<circle cx="1149.4" cy="685.1" r="3.9" fill="#b1b3b5" stroke="#58595b" stroke-width="1.4"/>
<circle cx="1156.7" cy="685.8" r="3.9" fill="#b1b3b5" stroke="#58595b" stroke-width="1.4"/>
<circle cx="1163.9" cy="685.8" r="3.9" fill="#b1b3b5" stroke="#58595b" stroke-width="1.4"/>
<circle cx="1171.2" cy="684.3" r="3.9" fill="#b1b3b5" stroke="#58595b" stroke-width="1.4"/>
<circle cx="1178.5" cy="683.6" r="3.9" fill="#b1b3b5" stroke="#58595b" stroke-width="1.4"/>
<circle cx="1185.7" cy="678.6" r="3.9" fill="#b1b3b5" stroke="#58595b" stroke-width="1.4"/>
<circle cx="1193.0" cy="675.0" r="3.9" fill="#b1b3b5" stroke="#58595b" stroke-width="1.4"/>
<circle cx="1200.3" cy="669.2" r="3.9" fill="#b1b3b5" stroke="#58595b" stroke-width="1.4"/>
<circle cx="1207.5" cy="662.7" r="3.9" fill="#b1b3b5" stroke="#58595b" stroke-width="1.4"/>
<circle cx="1214.8" cy="656.2" r="3.9" fill="#b1b3b5" stroke="#58595b" stroke-width="1.4"/>
<circle cx="1222.1" cy="647.6" r="3.9" fill="#b1b3b5" stroke="#58595b" stroke-width="1.4"/>
<circle cx="1229.3" cy="638.9" r="3.9" fill="#b1b3b5" stroke="#58595b" stroke-width="1.4"/>
<circle cx="1236.6" cy="633.2" r="3.9" fill="#b1b3b5" stroke="#58595b" stroke-width="1.4"/>
<circle cx="1243.9" cy="627.4" r="3.9" fill="#b1b3b5" stroke="#58595b" stroke-width="1.4"/>
<circle cx="1251.1" cy="620.9" r="3.9" fill="#b1b3b5" stroke="#58595b" stroke-width="1.4"/>
<circle cx="1258.4" cy="615.9" r="3.9" fill="#b1b3b5" stroke="#58595b" stroke-width="1.4"/>
<circle cx="1265.7" cy="611.5" r="3.9" fill="#b1b3b5" stroke="#58595b" stroke-width="1.4"/>
<circle cx="1272.9" cy="608.7" r="3.9" fill="#b1b3b5" stroke="#58595b" stroke-width="1.4"/>
<path d="M946.0,685.1V677.9M941.7,685.1h8.6M941.7,677.9h8.6" stroke="#a9c0e3" stroke-width="1.4" fill="none"/>
<path d="M953.3,676.4V670.7M949.0,676.4h8.6M949.0,670.7h8.6" stroke="#a9c0e3" stroke-width="1.4" fill="none"/>
<path d="M960.5,671.4V665.6M956.2,671.4h8.6M956.2,665.6h8.6" stroke="#a9c0e3" stroke-width="1.4" fill="none"/>
<path d="M967.8,666.3V657.7M963.5,666.3h8.6M963.5,657.7h8.6" stroke="#a9c0e3" stroke-width="1.4" fill="none"/>
<path d="M975.1,641.1V635.3M970.8,641.1h8.6M970.8,635.3h8.6" stroke="#a9c0e3" stroke-width="1.4" fill="none"/>
<path d="M982.3,633.2V627.4M978.0,633.2h8.6M978.0,627.4h8.6" stroke="#a9c0e3" stroke-width="1.4" fill="none"/>
<path d="M1076.8,610.1V598.6M1072.5,610.1h8.6M1072.5,598.6h8.6" stroke="#a9c0e3" stroke-width="1.4" fill="none"/>
<path d="M1084.0,607.9V596.4M1079.7,607.9h8.6M1079.7,596.4h8.6" stroke="#a9c0e3" stroke-width="1.4" fill="none"/>
<path d="M1091.3,605.8V598.6M1087.0,605.8h8.6M1087.0,598.6h8.6" stroke="#a9c0e3" stroke-width="1.4" fill="none"/>
<path d="M1098.6,603.6V597.8M1094.3,603.6h8.6M1094.3,597.8h8.6" stroke="#a9c0e3" stroke-width="1.4" fill="none"/>
<path d="M1105.8,600.0V591.4M1101.5,600.0h8.6M1101.5,591.4h8.6" stroke="#a9c0e3" stroke-width="1.4" fill="none"/>
<path d="M1113.1,595.0V583.4M1108.8,595.0h8.6M1108.8,583.4h8.6" stroke="#a9c0e3" stroke-width="1.4" fill="none"/>
<path d="M1120.4,587.0V575.5M1116.1,587.0h8.6M1116.1,575.5h8.6" stroke="#a9c0e3" stroke-width="1.4" fill="none"/>
<path d="M1127.6,577.7V569.0M1123.3,577.7h8.6M1123.3,569.0h8.6" stroke="#a9c0e3" stroke-width="1.4" fill="none"/>
<circle cx="924.2" cy="712.5" r="3.9" fill="#b5c8e5" stroke="#58595b" stroke-width="1.4"/>
<circle cx="931.5" cy="706.7" r="3.9" fill="#b5c8e5" stroke="#58595b" stroke-width="1.4"/>
<circle cx="938.7" cy="696.6" r="3.9" fill="#b5c8e5" stroke="#58595b" stroke-width="1.4"/>
<circle cx="946.0" cy="681.5" r="3.9" fill="#b5c8e5" stroke="#58595b" stroke-width="1.4"/>
<circle cx="953.3" cy="673.5" r="3.9" fill="#b5c8e5" stroke="#58595b" stroke-width="1.4"/>
<circle cx="960.5" cy="668.5" r="3.9" fill="#b5c8e5" stroke="#58595b" stroke-width="1.4"/>
<circle cx="967.8" cy="662.0" r="3.9" fill="#b5c8e5" stroke="#58595b" stroke-width="1.4"/>
<circle cx="975.1" cy="638.2" r="3.9" fill="#b5c8e5" stroke="#58595b" stroke-width="1.4"/>
<circle cx="982.3" cy="630.3" r="3.9" fill="#b5c8e5" stroke="#58595b" stroke-width="1.4"/>
<circle cx="989.6" cy="626.0" r="3.9" fill="#b5c8e5" stroke="#58595b" stroke-width="1.4"/>
<circle cx="996.9" cy="623.8" r="3.9" fill="#b5c8e5" stroke="#58595b" stroke-width="1.4"/>
<circle cx="1004.1" cy="623.1" r="3.9" fill="#b5c8e5" stroke="#58595b" stroke-width="1.4"/>
<circle cx="1011.4" cy="621.6" r="3.9" fill="#b5c8e5" stroke="#58595b" stroke-width="1.4"/>
<circle cx="1018.6" cy="620.2" r="3.9" fill="#b5c8e5" stroke="#58595b" stroke-width="1.4"/>
<circle cx="1025.9" cy="618.7" r="3.9" fill="#b5c8e5" stroke="#58595b" stroke-width="1.4"/>
<circle cx="1033.2" cy="616.6" r="3.9" fill="#b5c8e5" stroke="#58595b" stroke-width="1.4"/>
<circle cx="1040.4" cy="615.1" r="3.9" fill="#b5c8e5" stroke="#58595b" stroke-width="1.4"/>
<circle cx="1047.7" cy="613.7" r="3.9" fill="#b5c8e5" stroke="#58595b" stroke-width="1.4"/>
<circle cx="1055.0" cy="611.5" r="3.9" fill="#b5c8e5" stroke="#58595b" stroke-width="1.4"/>
<circle cx="1062.2" cy="610.1" r="3.9" fill="#b5c8e5" stroke="#58595b" stroke-width="1.4"/>
<circle cx="1069.5" cy="608.7" r="3.9" fill="#b5c8e5" stroke="#58595b" stroke-width="1.4"/>
<circle cx="1076.8" cy="604.3" r="3.9" fill="#b5c8e5" stroke="#58595b" stroke-width="1.4"/>
<circle cx="1084.0" cy="602.2" r="3.9" fill="#b5c8e5" stroke="#58595b" stroke-width="1.4"/>
<circle cx="1091.3" cy="602.2" r="3.9" fill="#b5c8e5" stroke="#58595b" stroke-width="1.4"/>
<circle cx="1098.6" cy="600.7" r="3.9" fill="#b5c8e5" stroke="#58595b" stroke-width="1.4"/>
<circle cx="1105.8" cy="595.7" r="3.9" fill="#b5c8e5" stroke="#58595b" stroke-width="1.4"/>
<circle cx="1113.1" cy="589.2" r="3.9" fill="#b5c8e5" stroke="#58595b" stroke-width="1.4"/>
<circle cx="1120.4" cy="581.3" r="3.9" fill="#b5c8e5" stroke="#58595b" stroke-width="1.4"/>
<circle cx="1127.6" cy="573.3" r="3.9" fill="#b5c8e5" stroke="#58595b" stroke-width="1.4"/>
<circle cx="1134.9" cy="567.6" r="3.9" fill="#b5c8e5" stroke="#58595b" stroke-width="1.4"/>
<circle cx="1142.2" cy="563.2" r="3.9" fill="#b5c8e5" stroke="#58595b" stroke-width="1.4"/>
<circle cx="1149.4" cy="559.6" r="3.9" fill="#b5c8e5" stroke="#58595b" stroke-width="1.4"/>
<circle cx="1156.7" cy="557.5" r="3.9" fill="#b5c8e5" stroke="#58595b" stroke-width="1.4"/>
<circle cx="1163.9" cy="555.3" r="3.9" fill="#b5c8e5" stroke="#58595b" stroke-width="1.4"/>
<circle cx="1171.2" cy="553.9" r="3.9" fill="#b5c8e5" stroke="#58595b" stroke-width="1.4"/>
<circle cx="1178.5" cy="553.2" r="3.9" fill="#b5c8e5" stroke="#58595b" stroke-width="1.4"/>
<circle cx="1185.7" cy="551.0" r="3.9" fill="#b5c8e5" stroke="#58595b" stroke-width="1.4"/>
<circle cx="1193.0" cy="549.5" r="3.9" fill="#b5c8e5" stroke="#58595b" stroke-width="1.4"/>
<circle cx="1200.3" cy="549.5" r="3.9" fill="#b5c8e5" stroke="#58595b" stroke-width="1.4"/>
<circle cx="1207.5" cy="548.1" r="3.9" fill="#b5c8e5" stroke="#58595b" stroke-width="1.4"/>
<circle cx="1214.8" cy="546.7" r="3.9" fill="#b5c8e5" stroke="#58595b" stroke-width="1.4"/>
<circle cx="1222.1" cy="545.9" r="3.9" fill="#b5c8e5" stroke="#58595b" stroke-width="1.4"/>
<circle cx="1229.3" cy="545.2" r="3.9" fill="#b5c8e5" stroke="#58595b" stroke-width="1.4"/>
<circle cx="1236.6" cy="544.5" r="3.9" fill="#b5c8e5" stroke="#58595b" stroke-width="1.4"/>
<circle cx="1243.9" cy="543.8" r="3.9" fill="#b5c8e5" stroke="#58595b" stroke-width="1.4"/>
<circle cx="1251.1" cy="543.1" r="3.9" fill="#b5c8e5" stroke="#58595b" stroke-width="1.4"/>
<circle cx="1258.4" cy="542.3" r="3.9" fill="#b5c8e5" stroke="#58595b" stroke-width="1.4"/>
<circle cx="1265.7" cy="540.9" r="3.9" fill="#b5c8e5" stroke="#58595b" stroke-width="1.4"/>
<circle cx="1272.9" cy="540.2" r="3.9" fill="#b5c8e5" stroke="#58595b" stroke-width="1.4"/>
<rect x="924.2" y="509.9" width="381.6" height="252.3" fill="none" stroke="#000" stroke-width="2.7"/>
<path d="M913.6,762.2H924.2M913.6,726.2H924.2M913.6,690.1H924.2M913.6,654.1H924.2M913.6,618.0H924.2M913.6,582.0H924.2M913.6,545.9H924.2M913.6,509.9H924.2M924.2,762.2V772.8M982.3,762.2V772.8M1040.4,762.2V772.8M1098.6,762.2V772.8M1156.7,762.2V772.8M1214.8,762.2V772.8M1272.9,762.2V772.8" stroke="#000" stroke-width="2.6" fill="none"/>
<text x="905.0" y="770.8" text-anchor="end" style="font-size:22.4px;fill:#000">0.0</text>
<text x="905.0" y="734.8" text-anchor="end" style="font-size:22.4px;fill:#000">0.5</text>
<text x="905.0" y="698.7" text-anchor="end" style="font-size:22.4px;fill:#000">1.0</text>
<text x="905.0" y="662.7" text-anchor="end" style="font-size:22.4px;fill:#000">1.5</text>
<text x="905.0" y="626.6" text-anchor="end" style="font-size:22.4px;fill:#000">2.0</text>
<text x="905.0" y="590.6" text-anchor="end" style="font-size:22.4px;fill:#000">2.5</text>
<text x="905.0" y="554.5" text-anchor="end" style="font-size:22.4px;fill:#000">3.0</text>
<text x="905.0" y="518.5" text-anchor="end" style="font-size:22.4px;fill:#000">3.5</text>
<circle cx="983.0" cy="485.6" r="5.3" fill="#b1b3b5" stroke="#58595b" stroke-width="1.4"/>
<text x="1017.6" y="490.6" text-anchor="start" style="font-size:18px;fill:#000">WT</text>
<circle cx="1127.5" cy="485.6" r="5.3" fill="#b5c8e5" stroke="#58595b" stroke-width="1.4"/>
<text x="1162.5" y="490.6" text-anchor="start" style="font-size:18px;fill:#000">0 μM IPTG</text>
<line x1="1397.8" y1="762.2" x2="1397.8" y2="509.9" stroke="#bcbec0" stroke-width="2.6" stroke-dasharray="10 5" stroke-dashoffset="3"/>
<line x1="1355.2" y1="543.1" x2="1724.2" y2="543.1" stroke="#231f20" stroke-width="2.7" stroke-dasharray="8.9 9.9"/>
<path d="M1397.8,654.8V649.0M1393.5,654.8h8.6M1393.5,649.0h8.6" stroke="#58595b" stroke-width="1.4" fill="none"/>
<path d="M1405.1,650.5V643.3M1400.8,650.5h8.6M1400.8,643.3h8.6" stroke="#58595b" stroke-width="1.4" fill="none"/>
<path d="M1601.2,687.2V681.5M1596.9,687.2h8.6M1596.9,681.5h8.6" stroke="#58595b" stroke-width="1.4" fill="none"/>
<path d="M1608.5,687.2V680.0M1604.2,687.2h8.6M1604.2,680.0h8.6" stroke="#58595b" stroke-width="1.4" fill="none"/>
<path d="M1615.7,682.9V674.3M1611.4,682.9h8.6M1611.4,674.3h8.6" stroke="#58595b" stroke-width="1.4" fill="none"/>
<path d="M1623.0,680.0V669.9M1618.7,680.0h8.6M1618.7,669.9h8.6" stroke="#58595b" stroke-width="1.4" fill="none"/>
<path d="M1630.3,675.0V663.4M1626.0,675.0h8.6M1626.0,663.4h8.6" stroke="#58595b" stroke-width="1.4" fill="none"/>
<path d="M1637.5,669.2V656.2M1633.2,669.2h8.6M1633.2,656.2h8.6" stroke="#58595b" stroke-width="1.4" fill="none"/>
<path d="M1644.8,662.7V649.7M1640.5,662.7h8.6M1640.5,649.7h8.6" stroke="#58595b" stroke-width="1.4" fill="none"/>
<path d="M1652.1,654.1V641.1M1647.8,654.1h8.6M1647.8,641.1h8.6" stroke="#58595b" stroke-width="1.4" fill="none"/>
<path d="M1659.3,644.7V633.2M1655.0,644.7h8.6M1655.0,633.2h8.6" stroke="#58595b" stroke-width="1.4" fill="none"/>
<path d="M1666.6,638.9V627.4M1662.3,638.9h8.6M1662.3,627.4h8.6" stroke="#58595b" stroke-width="1.4" fill="none"/>
<path d="M1673.9,633.2V621.6M1669.6,633.2h8.6M1669.6,621.6h8.6" stroke="#58595b" stroke-width="1.4" fill="none"/>
<path d="M1681.1,626.0V615.9M1676.8,626.0h8.6M1676.8,615.9h8.6" stroke="#58595b" stroke-width="1.4" fill="none"/>
<path d="M1688.4,620.9V610.8M1684.1,620.9h8.6M1684.1,610.8h8.6" stroke="#58595b" stroke-width="1.4" fill="none"/>
<path d="M1695.7,616.6V606.5M1691.4,616.6h8.6M1691.4,606.5h8.6" stroke="#58595b" stroke-width="1.4" fill="none"/>
<path d="M1702.9,613.7V603.6M1698.6,613.7h8.6M1698.6,603.6h8.6" stroke="#58595b" stroke-width="1.4" fill="none"/>
<circle cx="1354.2" cy="710.3" r="3.9" fill="#b1b3b5" stroke="#58595b" stroke-width="1.4"/>
<circle cx="1361.5" cy="697.3" r="3.9" fill="#b1b3b5" stroke="#58595b" stroke-width="1.4"/>
<circle cx="1368.7" cy="682.9" r="3.9" fill="#b1b3b5" stroke="#58595b" stroke-width="1.4"/>
<circle cx="1376.0" cy="675.7" r="3.9" fill="#b1b3b5" stroke="#58595b" stroke-width="1.4"/>
<circle cx="1383.3" cy="664.2" r="3.9" fill="#b1b3b5" stroke="#58595b" stroke-width="1.4"/>
<circle cx="1390.5" cy="657.0" r="3.9" fill="#b1b3b5" stroke="#58595b" stroke-width="1.4"/>
<circle cx="1397.8" cy="651.9" r="3.9" fill="#b1b3b5" stroke="#58595b" stroke-width="1.4"/>
<circle cx="1405.1" cy="646.9" r="3.9" fill="#b1b3b5" stroke="#58595b" stroke-width="1.4"/>
<circle cx="1412.3" cy="650.5" r="3.9" fill="#b1b3b5" stroke="#58595b" stroke-width="1.4"/>
<circle cx="1419.6" cy="651.2" r="3.9" fill="#b1b3b5" stroke="#58595b" stroke-width="1.4"/>
<circle cx="1426.9" cy="649.7" r="3.9" fill="#b1b3b5" stroke="#58595b" stroke-width="1.4"/>
<circle cx="1434.1" cy="649.0" r="3.9" fill="#b1b3b5" stroke="#58595b" stroke-width="1.4"/>
<circle cx="1441.4" cy="648.3" r="3.9" fill="#b1b3b5" stroke="#58595b" stroke-width="1.4"/>
<circle cx="1448.6" cy="648.3" r="3.9" fill="#b1b3b5" stroke="#58595b" stroke-width="1.4"/>
<circle cx="1455.9" cy="648.3" r="3.9" fill="#b1b3b5" stroke="#58595b" stroke-width="1.4"/>
<circle cx="1463.2" cy="649.0" r="3.9" fill="#b1b3b5" stroke="#58595b" stroke-width="1.4"/>
<circle cx="1470.4" cy="649.0" r="3.9" fill="#b1b3b5" stroke="#58595b" stroke-width="1.4"/>
<circle cx="1477.7" cy="650.5" r="3.9" fill="#b1b3b5" stroke="#58595b" stroke-width="1.4"/>
<circle cx="1485.0" cy="653.4" r="3.9" fill="#b1b3b5" stroke="#58595b" stroke-width="1.4"/>
<circle cx="1492.2" cy="657.0" r="3.9" fill="#b1b3b5" stroke="#58595b" stroke-width="1.4"/>
<circle cx="1499.5" cy="660.6" r="3.9" fill="#b1b3b5" stroke="#58595b" stroke-width="1.4"/>
<circle cx="1506.8" cy="664.2" r="3.9" fill="#b1b3b5" stroke="#58595b" stroke-width="1.4"/>
<circle cx="1514.0" cy="667.0" r="3.9" fill="#b1b3b5" stroke="#58595b" stroke-width="1.4"/>
<circle cx="1521.3" cy="670.7" r="3.9" fill="#b1b3b5" stroke="#58595b" stroke-width="1.4"/>
<circle cx="1528.6" cy="672.1" r="3.9" fill="#b1b3b5" stroke="#58595b" stroke-width="1.4"/>
<circle cx="1535.8" cy="675.0" r="3.9" fill="#b1b3b5" stroke="#58595b" stroke-width="1.4"/>
<circle cx="1543.1" cy="676.4" r="3.9" fill="#b1b3b5" stroke="#58595b" stroke-width="1.4"/>
<circle cx="1550.4" cy="678.6" r="3.9" fill="#b1b3b5" stroke="#58595b" stroke-width="1.4"/>
<circle cx="1557.6" cy="680.7" r="3.9" fill="#b1b3b5" stroke="#58595b" stroke-width="1.4"/>
<circle cx="1564.9" cy="682.2" r="3.9" fill="#b1b3b5" stroke="#58595b" stroke-width="1.4"/>
<circle cx="1572.2" cy="683.6" r="3.9" fill="#b1b3b5" stroke="#58595b" stroke-width="1.4"/>
<circle cx="1579.4" cy="685.1" r="3.9" fill="#b1b3b5" stroke="#58595b" stroke-width="1.4"/>
<circle cx="1586.7" cy="685.8" r="3.9" fill="#b1b3b5" stroke="#58595b" stroke-width="1.4"/>
<circle cx="1593.9" cy="685.8" r="3.9" fill="#b1b3b5" stroke="#58595b" stroke-width="1.4"/>
<circle cx="1601.2" cy="684.3" r="3.9" fill="#b1b3b5" stroke="#58595b" stroke-width="1.4"/>
<circle cx="1608.5" cy="683.6" r="3.9" fill="#b1b3b5" stroke="#58595b" stroke-width="1.4"/>
<circle cx="1615.7" cy="678.6" r="3.9" fill="#b1b3b5" stroke="#58595b" stroke-width="1.4"/>
<circle cx="1623.0" cy="675.0" r="3.9" fill="#b1b3b5" stroke="#58595b" stroke-width="1.4"/>
<circle cx="1630.3" cy="669.2" r="3.9" fill="#b1b3b5" stroke="#58595b" stroke-width="1.4"/>
<circle cx="1637.5" cy="662.7" r="3.9" fill="#b1b3b5" stroke="#58595b" stroke-width="1.4"/>
<circle cx="1644.8" cy="656.2" r="3.9" fill="#b1b3b5" stroke="#58595b" stroke-width="1.4"/>
<circle cx="1652.1" cy="647.6" r="3.9" fill="#b1b3b5" stroke="#58595b" stroke-width="1.4"/>
<circle cx="1659.3" cy="638.9" r="3.9" fill="#b1b3b5" stroke="#58595b" stroke-width="1.4"/>
<circle cx="1666.6" cy="633.2" r="3.9" fill="#b1b3b5" stroke="#58595b" stroke-width="1.4"/>
<circle cx="1673.9" cy="627.4" r="3.9" fill="#b1b3b5" stroke="#58595b" stroke-width="1.4"/>
<circle cx="1681.1" cy="620.9" r="3.9" fill="#b1b3b5" stroke="#58595b" stroke-width="1.4"/>
<circle cx="1688.4" cy="615.9" r="3.9" fill="#b1b3b5" stroke="#58595b" stroke-width="1.4"/>
<circle cx="1695.7" cy="611.5" r="3.9" fill="#b1b3b5" stroke="#58595b" stroke-width="1.4"/>
<circle cx="1702.9" cy="608.7" r="3.9" fill="#b1b3b5" stroke="#58595b" stroke-width="1.4"/>
<path d="M1354.2,711.7V706.0M1349.9,711.7h8.6M1349.9,706.0h8.6" stroke="#5ea9de" stroke-width="1.4" fill="none"/>
<path d="M1361.5,701.6V695.9M1357.2,701.6h8.6M1357.2,695.9h8.6" stroke="#5ea9de" stroke-width="1.4" fill="none"/>
<path d="M1368.7,690.8V685.1M1364.4,690.8h8.6M1364.4,685.1h8.6" stroke="#5ea9de" stroke-width="1.4" fill="none"/>
<path d="M1376.0,678.6V671.4M1371.7,678.6h8.6M1371.7,671.4h8.6" stroke="#5ea9de" stroke-width="1.4" fill="none"/>
<path d="M1383.3,669.9V662.7M1379.0,669.9h8.6M1379.0,662.7h8.6" stroke="#5ea9de" stroke-width="1.4" fill="none"/>
<path d="M1390.5,663.4V654.8M1386.2,663.4h8.6M1386.2,654.8h8.6" stroke="#5ea9de" stroke-width="1.4" fill="none"/>
<path d="M1397.8,657.7V647.6M1393.5,657.7h8.6M1393.5,647.6h8.6" stroke="#5ea9de" stroke-width="1.4" fill="none"/>
<path d="M1405.1,636.0V626.0M1400.8,636.0h8.6M1400.8,626.0h8.6" stroke="#5ea9de" stroke-width="1.4" fill="none"/>
<path d="M1492.2,609.4V592.1M1487.9,609.4h8.6M1487.9,592.1h8.6" stroke="#5ea9de" stroke-width="1.4" fill="none"/>
<path d="M1499.5,597.8V584.9M1495.2,597.8h8.6M1495.2,584.9h8.6" stroke="#5ea9de" stroke-width="1.4" fill="none"/>
<path d="M1506.8,615.1V586.3M1502.5,615.1h8.6M1502.5,586.3h8.6" stroke="#5ea9de" stroke-width="1.4" fill="none"/>
<path d="M1514.0,598.6V578.4M1509.7,598.6h8.6M1509.7,578.4h8.6" stroke="#5ea9de" stroke-width="1.4" fill="none"/>
<path d="M1521.3,581.3V566.8M1517.0,581.3h8.6M1517.0,566.8h8.6" stroke="#5ea9de" stroke-width="1.4" fill="none"/>
<path d="M1528.6,582.7V559.6M1524.3,582.7h8.6M1524.3,559.6h8.6" stroke="#5ea9de" stroke-width="1.4" fill="none"/>
<path d="M1535.8,606.5V563.2M1531.5,606.5h8.6M1531.5,563.2h8.6" stroke="#5ea9de" stroke-width="1.4" fill="none"/>
<path d="M1543.1,618.0V603.6M1538.8,618.0h8.6M1538.8,603.6h8.6" stroke="#5ea9de" stroke-width="1.4" fill="none"/>
<path d="M1550.4,611.5V604.3M1546.1,611.5h8.6M1546.1,604.3h8.6" stroke="#5ea9de" stroke-width="1.4" fill="none"/>
<path d="M1557.6,607.9V600.7M1553.3,607.9h8.6M1553.3,600.7h8.6" stroke="#5ea9de" stroke-width="1.4" fill="none"/>
<path d="M1564.9,604.3V597.1M1560.6,604.3h8.6M1560.6,597.1h8.6" stroke="#5ea9de" stroke-width="1.4" fill="none"/>
<path d="M1572.2,601.4V587.0M1567.9,601.4h8.6M1567.9,587.0h8.6" stroke="#5ea9de" stroke-width="1.4" fill="none"/>
<path d="M1579.4,597.1V579.8M1575.1,597.1h8.6M1575.1,579.8h8.6" stroke="#5ea9de" stroke-width="1.4" fill="none"/>
<path d="M1586.7,594.2V571.2M1582.4,594.2h8.6M1582.4,571.2h8.6" stroke="#5ea9de" stroke-width="1.4" fill="none"/>
<path d="M1593.9,592.8V566.8M1589.6,592.8h8.6M1589.6,566.8h8.6" stroke="#5ea9de" stroke-width="1.4" fill="none"/>
<path d="M1601.2,590.6V561.8M1596.9,590.6h8.6M1596.9,561.8h8.6" stroke="#5ea9de" stroke-width="1.4" fill="none"/>
<path d="M1608.5,587.0V558.2M1604.2,587.0h8.6M1604.2,558.2h8.6" stroke="#5ea9de" stroke-width="1.4" fill="none"/>
<path d="M1615.7,584.9V556.0M1611.4,584.9h8.6M1611.4,556.0h8.6" stroke="#5ea9de" stroke-width="1.4" fill="none"/>
<path d="M1623.0,581.3V555.3M1618.7,581.3h8.6M1618.7,555.3h8.6" stroke="#5ea9de" stroke-width="1.4" fill="none"/>
<path d="M1630.3,576.2V554.6M1626.0,576.2h8.6M1626.0,554.6h8.6" stroke="#5ea9de" stroke-width="1.4" fill="none"/>
<path d="M1637.5,571.2V553.9M1633.2,571.2h8.6M1633.2,553.9h8.6" stroke="#5ea9de" stroke-width="1.4" fill="none"/>
<path d="M1644.8,567.6V553.2M1640.5,567.6h8.6M1640.5,553.2h8.6" stroke="#5ea9de" stroke-width="1.4" fill="none"/>
<path d="M1652.1,565.4V553.9M1647.8,565.4h8.6M1647.8,553.9h8.6" stroke="#5ea9de" stroke-width="1.4" fill="none"/>
<path d="M1659.3,561.8V553.2M1655.0,561.8h8.6M1655.0,553.2h8.6" stroke="#5ea9de" stroke-width="1.4" fill="none"/>
<path d="M1666.6,560.4V553.2M1662.3,560.4h8.6M1662.3,553.2h8.6" stroke="#5ea9de" stroke-width="1.4" fill="none"/>
<path d="M1673.9,558.9V553.2M1669.6,558.9h8.6M1669.6,553.2h8.6" stroke="#5ea9de" stroke-width="1.4" fill="none"/>
<circle cx="1354.2" cy="708.9" r="3.9" fill="#5ea9de" stroke="#58595b" stroke-width="1.4"/>
<circle cx="1361.5" cy="698.8" r="3.9" fill="#5ea9de" stroke="#58595b" stroke-width="1.4"/>
<circle cx="1368.7" cy="688.0" r="3.9" fill="#5ea9de" stroke="#58595b" stroke-width="1.4"/>
<circle cx="1376.0" cy="675.0" r="3.9" fill="#5ea9de" stroke="#58595b" stroke-width="1.4"/>
<circle cx="1383.3" cy="666.3" r="3.9" fill="#5ea9de" stroke="#58595b" stroke-width="1.4"/>
<circle cx="1390.5" cy="659.1" r="3.9" fill="#5ea9de" stroke="#58595b" stroke-width="1.4"/>
<circle cx="1397.8" cy="652.6" r="3.9" fill="#5ea9de" stroke="#58595b" stroke-width="1.4"/>
<circle cx="1405.1" cy="631.0" r="3.9" fill="#5ea9de" stroke="#58595b" stroke-width="1.4"/>
<circle cx="1412.3" cy="624.5" r="3.9" fill="#5ea9de" stroke="#58595b" stroke-width="1.4"/>
<circle cx="1419.6" cy="621.6" r="3.9" fill="#5ea9de" stroke="#58595b" stroke-width="1.4"/>
<circle cx="1426.9" cy="619.5" r="3.9" fill="#5ea9de" stroke="#58595b" stroke-width="1.4"/>
<circle cx="1434.1" cy="618.0" r="3.9" fill="#5ea9de" stroke="#58595b" stroke-width="1.4"/>
<circle cx="1441.4" cy="616.6" r="3.9" fill="#5ea9de" stroke="#58595b" stroke-width="1.4"/>
<circle cx="1448.6" cy="615.1" r="3.9" fill="#5ea9de" stroke="#58595b" stroke-width="1.4"/>
<circle cx="1455.9" cy="613.7" r="3.9" fill="#5ea9de" stroke="#58595b" stroke-width="1.4"/>
<circle cx="1463.2" cy="611.5" r="3.9" fill="#5ea9de" stroke="#58595b" stroke-width="1.4"/>
<circle cx="1470.4" cy="610.1" r="3.9" fill="#5ea9de" stroke="#58595b" stroke-width="1.4"/>
<circle cx="1477.7" cy="608.7" r="3.9" fill="#5ea9de" stroke="#58595b" stroke-width="1.4"/>
<circle cx="1485.0" cy="609.4" r="3.9" fill="#5ea9de" stroke="#58595b" stroke-width="1.4"/>
<circle cx="1492.2" cy="600.7" r="3.9" fill="#5ea9de" stroke="#58595b" stroke-width="1.4"/>
<circle cx="1499.5" cy="591.4" r="3.9" fill="#5ea9de" stroke="#58595b" stroke-width="1.4"/>
<circle cx="1506.8" cy="600.7" r="3.9" fill="#5ea9de" stroke="#58595b" stroke-width="1.4"/>
<circle cx="1514.0" cy="588.5" r="3.9" fill="#5ea9de" stroke="#58595b" stroke-width="1.4"/>
<circle cx="1521.3" cy="574.1" r="3.9" fill="#5ea9de" stroke="#58595b" stroke-width="1.4"/>
<circle cx="1528.6" cy="571.2" r="3.9" fill="#5ea9de" stroke="#58595b" stroke-width="1.4"/>
<circle cx="1535.8" cy="584.9" r="3.9" fill="#5ea9de" stroke="#58595b" stroke-width="1.4"/>
<circle cx="1543.1" cy="610.8" r="3.9" fill="#5ea9de" stroke="#58595b" stroke-width="1.4"/>
<circle cx="1550.4" cy="607.9" r="3.9" fill="#5ea9de" stroke="#58595b" stroke-width="1.4"/>
<circle cx="1557.6" cy="604.3" r="3.9" fill="#5ea9de" stroke="#58595b" stroke-width="1.4"/>
<circle cx="1564.9" cy="600.7" r="3.9" fill="#5ea9de" stroke="#58595b" stroke-width="1.4"/>
<circle cx="1572.2" cy="594.2" r="3.9" fill="#5ea9de" stroke="#58595b" stroke-width="1.4"/>
<circle cx="1579.4" cy="588.5" r="3.9" fill="#5ea9de" stroke="#58595b" stroke-width="1.4"/>
<circle cx="1586.7" cy="582.7" r="3.9" fill="#5ea9de" stroke="#58595b" stroke-width="1.4"/>
<circle cx="1593.9" cy="579.8" r="3.9" fill="#5ea9de" stroke="#58595b" stroke-width="1.4"/>
<circle cx="1601.2" cy="576.2" r="3.9" fill="#5ea9de" stroke="#58595b" stroke-width="1.4"/>
<circle cx="1608.5" cy="572.6" r="3.9" fill="#5ea9de" stroke="#58595b" stroke-width="1.4"/>
<circle cx="1615.7" cy="570.5" r="3.9" fill="#5ea9de" stroke="#58595b" stroke-width="1.4"/>
<circle cx="1623.0" cy="568.3" r="3.9" fill="#5ea9de" stroke="#58595b" stroke-width="1.4"/>
<circle cx="1630.3" cy="565.4" r="3.9" fill="#5ea9de" stroke="#58595b" stroke-width="1.4"/>
<circle cx="1637.5" cy="562.5" r="3.9" fill="#5ea9de" stroke="#58595b" stroke-width="1.4"/>
<circle cx="1644.8" cy="560.4" r="3.9" fill="#5ea9de" stroke="#58595b" stroke-width="1.4"/>
<circle cx="1652.1" cy="559.6" r="3.9" fill="#5ea9de" stroke="#58595b" stroke-width="1.4"/>
<circle cx="1659.3" cy="557.5" r="3.9" fill="#5ea9de" stroke="#58595b" stroke-width="1.4"/>
<circle cx="1666.6" cy="556.8" r="3.9" fill="#5ea9de" stroke="#58595b" stroke-width="1.4"/>
<circle cx="1673.9" cy="556.0" r="3.9" fill="#5ea9de" stroke="#58595b" stroke-width="1.4"/>
<circle cx="1681.1" cy="555.3" r="3.9" fill="#5ea9de" stroke="#58595b" stroke-width="1.4"/>
<circle cx="1688.4" cy="554.6" r="3.9" fill="#5ea9de" stroke="#58595b" stroke-width="1.4"/>
<circle cx="1695.7" cy="553.9" r="3.9" fill="#5ea9de" stroke="#58595b" stroke-width="1.4"/>
<circle cx="1702.9" cy="552.4" r="3.9" fill="#5ea9de" stroke="#58595b" stroke-width="1.4"/>
<rect x="1354.2" y="509.9" width="381.6" height="252.3" fill="none" stroke="#000" stroke-width="2.7"/>
<path d="M1343.6,762.2H1354.2M1343.6,726.2H1354.2M1343.6,690.1H1354.2M1343.6,654.1H1354.2M1343.6,618.0H1354.2M1343.6,582.0H1354.2M1343.6,545.9H1354.2M1343.6,509.9H1354.2M1354.2,762.2V772.8M1412.3,762.2V772.8M1470.4,762.2V772.8M1528.6,762.2V772.8M1586.7,762.2V772.8M1644.8,762.2V772.8M1702.9,762.2V772.8" stroke="#000" stroke-width="2.6" fill="none"/>
<circle cx="1413.0" cy="485.6" r="5.3" fill="#b1b3b5" stroke="#58595b" stroke-width="1.4"/>
<text x="1447.6" y="490.6" text-anchor="start" style="font-size:18px;fill:#000">WT</text>
<circle cx="1557.5" cy="485.6" r="5.3" fill="#5ea9de" stroke="#58595b" stroke-width="1.4"/>
<text x="1592.5" y="490.6" text-anchor="start" style="font-size:18px;fill:#000">20 μM IPTG</text>
<line x1="967.6" y1="1087.1" x2="967.6" y2="834.4" stroke="#bcbec0" stroke-width="2.6" stroke-dasharray="10 5" stroke-dashoffset="3"/>
<line x1="925.0" y1="867.6" x2="1294.0" y2="867.6" stroke="#231f20" stroke-width="2.7" stroke-dasharray="8.9 9.9"/>
<path d="M967.6,979.5V973.7M963.3,979.5h8.6M963.3,973.7h8.6" stroke="#58595b" stroke-width="1.4" fill="none"/>
<path d="M974.9,975.2V968.0M970.6,975.2h8.6M970.6,968.0h8.6" stroke="#58595b" stroke-width="1.4" fill="none"/>
<path d="M1171.0,1012.0V1006.2M1166.7,1012.0h8.6M1166.7,1006.2h8.6" stroke="#58595b" stroke-width="1.4" fill="none"/>
<path d="M1178.3,1012.0V1004.8M1174.0,1012.0h8.6M1174.0,1004.8h8.6" stroke="#58595b" stroke-width="1.4" fill="none"/>
<path d="M1185.5,1007.7V999.0M1181.2,1007.7h8.6M1181.2,999.0h8.6" stroke="#58595b" stroke-width="1.4" fill="none"/>
<path d="M1192.8,1004.8V994.7M1188.5,1004.8h8.6M1188.5,994.7h8.6" stroke="#58595b" stroke-width="1.4" fill="none"/>
<path d="M1200.1,999.7V988.2M1195.8,999.7h8.6M1195.8,988.2h8.6" stroke="#58595b" stroke-width="1.4" fill="none"/>
<path d="M1207.3,994.0V981.0M1203.0,994.0h8.6M1203.0,981.0h8.6" stroke="#58595b" stroke-width="1.4" fill="none"/>
<path d="M1214.6,987.5V974.5M1210.3,987.5h8.6M1210.3,974.5h8.6" stroke="#58595b" stroke-width="1.4" fill="none"/>
<path d="M1221.9,978.8V965.8M1217.6,978.8h8.6M1217.6,965.8h8.6" stroke="#58595b" stroke-width="1.4" fill="none"/>
<path d="M1229.1,969.4V957.9M1224.8,969.4h8.6M1224.8,957.9h8.6" stroke="#58595b" stroke-width="1.4" fill="none"/>
<path d="M1236.4,963.6V952.1M1232.1,963.6h8.6M1232.1,952.1h8.6" stroke="#58595b" stroke-width="1.4" fill="none"/>
<path d="M1243.7,957.9V946.3M1239.4,957.9h8.6M1239.4,946.3h8.6" stroke="#58595b" stroke-width="1.4" fill="none"/>
<path d="M1250.9,950.6V940.5M1246.6,950.6h8.6M1246.6,940.5h8.6" stroke="#58595b" stroke-width="1.4" fill="none"/>
<path d="M1258.2,945.6V935.5M1253.9,945.6h8.6M1253.9,935.5h8.6" stroke="#58595b" stroke-width="1.4" fill="none"/>
<path d="M1265.5,941.3V931.1M1261.2,941.3h8.6M1261.2,931.1h8.6" stroke="#58595b" stroke-width="1.4" fill="none"/>
<path d="M1272.7,938.4V928.3M1268.4,938.4h8.6M1268.4,928.3h8.6" stroke="#58595b" stroke-width="1.4" fill="none"/>
<circle cx="924.0" cy="1035.1" r="3.9" fill="#b1b3b5" stroke="#58595b" stroke-width="1.4"/>
<circle cx="931.3" cy="1022.1" r="3.9" fill="#b1b3b5" stroke="#58595b" stroke-width="1.4"/>
<circle cx="938.5" cy="1007.7" r="3.9" fill="#b1b3b5" stroke="#58595b" stroke-width="1.4"/>
<circle cx="945.8" cy="1000.5" r="3.9" fill="#b1b3b5" stroke="#58595b" stroke-width="1.4"/>
<circle cx="953.1" cy="988.9" r="3.9" fill="#b1b3b5" stroke="#58595b" stroke-width="1.4"/>
<circle cx="960.3" cy="981.7" r="3.9" fill="#b1b3b5" stroke="#58595b" stroke-width="1.4"/>
<circle cx="967.6" cy="976.6" r="3.9" fill="#b1b3b5" stroke="#58595b" stroke-width="1.4"/>
<circle cx="974.9" cy="971.6" r="3.9" fill="#b1b3b5" stroke="#58595b" stroke-width="1.4"/>
<circle cx="982.1" cy="975.2" r="3.9" fill="#b1b3b5" stroke="#58595b" stroke-width="1.4"/>
<circle cx="989.4" cy="975.9" r="3.9" fill="#b1b3b5" stroke="#58595b" stroke-width="1.4"/>
<circle cx="996.6" cy="974.5" r="3.9" fill="#b1b3b5" stroke="#58595b" stroke-width="1.4"/>
<circle cx="1003.9" cy="973.7" r="3.9" fill="#b1b3b5" stroke="#58595b" stroke-width="1.4"/>
<circle cx="1011.2" cy="973.0" r="3.9" fill="#b1b3b5" stroke="#58595b" stroke-width="1.4"/>
<circle cx="1018.4" cy="973.0" r="3.9" fill="#b1b3b5" stroke="#58595b" stroke-width="1.4"/>
<circle cx="1025.7" cy="973.0" r="3.9" fill="#b1b3b5" stroke="#58595b" stroke-width="1.4"/>
<circle cx="1033.0" cy="973.7" r="3.9" fill="#b1b3b5" stroke="#58595b" stroke-width="1.4"/>
<circle cx="1040.2" cy="973.7" r="3.9" fill="#b1b3b5" stroke="#58595b" stroke-width="1.4"/>
<circle cx="1047.5" cy="975.2" r="3.9" fill="#b1b3b5" stroke="#58595b" stroke-width="1.4"/>
<circle cx="1054.8" cy="978.1" r="3.9" fill="#b1b3b5" stroke="#58595b" stroke-width="1.4"/>
<circle cx="1062.0" cy="981.7" r="3.9" fill="#b1b3b5" stroke="#58595b" stroke-width="1.4"/>
<circle cx="1069.3" cy="985.3" r="3.9" fill="#b1b3b5" stroke="#58595b" stroke-width="1.4"/>
<circle cx="1076.6" cy="988.9" r="3.9" fill="#b1b3b5" stroke="#58595b" stroke-width="1.4"/>
<circle cx="1083.8" cy="991.8" r="3.9" fill="#b1b3b5" stroke="#58595b" stroke-width="1.4"/>
<circle cx="1091.1" cy="995.4" r="3.9" fill="#b1b3b5" stroke="#58595b" stroke-width="1.4"/>
<circle cx="1098.4" cy="996.8" r="3.9" fill="#b1b3b5" stroke="#58595b" stroke-width="1.4"/>
<circle cx="1105.6" cy="999.7" r="3.9" fill="#b1b3b5" stroke="#58595b" stroke-width="1.4"/>
<circle cx="1112.9" cy="1001.2" r="3.9" fill="#b1b3b5" stroke="#58595b" stroke-width="1.4"/>
<circle cx="1120.2" cy="1003.3" r="3.9" fill="#b1b3b5" stroke="#58595b" stroke-width="1.4"/>
<circle cx="1127.4" cy="1005.5" r="3.9" fill="#b1b3b5" stroke="#58595b" stroke-width="1.4"/>
<circle cx="1134.7" cy="1007.0" r="3.9" fill="#b1b3b5" stroke="#58595b" stroke-width="1.4"/>
<circle cx="1142.0" cy="1008.4" r="3.9" fill="#b1b3b5" stroke="#58595b" stroke-width="1.4"/>
<circle cx="1149.2" cy="1009.8" r="3.9" fill="#b1b3b5" stroke="#58595b" stroke-width="1.4"/>
<circle cx="1156.5" cy="1010.6" r="3.9" fill="#b1b3b5" stroke="#58595b" stroke-width="1.4"/>
<circle cx="1163.7" cy="1010.6" r="3.9" fill="#b1b3b5" stroke="#58595b" stroke-width="1.4"/>
<circle cx="1171.0" cy="1009.1" r="3.9" fill="#b1b3b5" stroke="#58595b" stroke-width="1.4"/>
<circle cx="1178.3" cy="1008.4" r="3.9" fill="#b1b3b5" stroke="#58595b" stroke-width="1.4"/>
<circle cx="1185.5" cy="1003.3" r="3.9" fill="#b1b3b5" stroke="#58595b" stroke-width="1.4"/>
<circle cx="1192.8" cy="999.7" r="3.9" fill="#b1b3b5" stroke="#58595b" stroke-width="1.4"/>
<circle cx="1200.1" cy="994.0" r="3.9" fill="#b1b3b5" stroke="#58595b" stroke-width="1.4"/>
<circle cx="1207.3" cy="987.5" r="3.9" fill="#b1b3b5" stroke="#58595b" stroke-width="1.4"/>
<circle cx="1214.6" cy="981.0" r="3.9" fill="#b1b3b5" stroke="#58595b" stroke-width="1.4"/>
<circle cx="1221.9" cy="972.3" r="3.9" fill="#b1b3b5" stroke="#58595b" stroke-width="1.4"/>
<circle cx="1229.1" cy="963.6" r="3.9" fill="#b1b3b5" stroke="#58595b" stroke-width="1.4"/>
<circle cx="1236.4" cy="957.9" r="3.9" fill="#b1b3b5" stroke="#58595b" stroke-width="1.4"/>
<circle cx="1243.7" cy="952.1" r="3.9" fill="#b1b3b5" stroke="#58595b" stroke-width="1.4"/>
<circle cx="1250.9" cy="945.6" r="3.9" fill="#b1b3b5" stroke="#58595b" stroke-width="1.4"/>
<circle cx="1258.2" cy="940.5" r="3.9" fill="#b1b3b5" stroke="#58595b" stroke-width="1.4"/>
<circle cx="1265.5" cy="936.2" r="3.9" fill="#b1b3b5" stroke="#58595b" stroke-width="1.4"/>
<circle cx="1272.7" cy="933.3" r="3.9" fill="#b1b3b5" stroke="#58595b" stroke-width="1.4"/>
<path d="M953.1,995.4V986.7M948.8,995.4h8.6M948.8,986.7h8.6" stroke="#c870b8" stroke-width="1.4" fill="none"/>
<path d="M960.3,986.7V979.5M956.0,986.7h8.6M956.0,979.5h8.6" stroke="#c870b8" stroke-width="1.4" fill="none"/>
<path d="M967.6,981.0V973.7M963.3,981.0h8.6M963.3,973.7h8.6" stroke="#c870b8" stroke-width="1.4" fill="none"/>
<path d="M1054.8,940.5V926.1M1050.5,940.5h8.6M1050.5,926.1h8.6" stroke="#c870b8" stroke-width="1.4" fill="none"/>
<path d="M1062.0,929.7V913.8M1057.7,929.7h8.6M1057.7,913.8h8.6" stroke="#c870b8" stroke-width="1.4" fill="none"/>
<path d="M1069.3,931.9V916.0M1065.0,931.9h8.6M1065.0,916.0h8.6" stroke="#c870b8" stroke-width="1.4" fill="none"/>
<path d="M1076.6,923.9V913.8M1072.3,923.9h8.6M1072.3,913.8h8.6" stroke="#c870b8" stroke-width="1.4" fill="none"/>
<path d="M1083.8,908.8V900.1M1079.5,908.8h8.6M1079.5,900.1h8.6" stroke="#c870b8" stroke-width="1.4" fill="none"/>
<path d="M1091.1,898.7V891.4M1086.8,898.7h8.6M1086.8,891.4h8.6" stroke="#c870b8" stroke-width="1.4" fill="none"/>
<path d="M1098.4,913.1V884.2M1094.1,913.1h8.6M1094.1,884.2h8.6" stroke="#c870b8" stroke-width="1.4" fill="none"/>
<path d="M1105.6,947.8V897.2M1101.3,947.8h8.6M1101.3,897.2h8.6" stroke="#c870b8" stroke-width="1.4" fill="none"/>
<path d="M1112.9,947.0V936.9M1108.6,947.0h8.6M1108.6,936.9h8.6" stroke="#c870b8" stroke-width="1.4" fill="none"/>
<path d="M1120.2,942.7V931.1M1115.9,942.7h8.6M1115.9,931.1h8.6" stroke="#c870b8" stroke-width="1.4" fill="none"/>
<path d="M1236.4,931.9V924.6M1232.1,931.9h8.6M1232.1,924.6h8.6" stroke="#c870b8" stroke-width="1.4" fill="none"/>
<path d="M1243.7,930.4V920.3M1239.4,930.4h8.6M1239.4,920.3h8.6" stroke="#c870b8" stroke-width="1.4" fill="none"/>
<path d="M1250.9,929.0V914.5M1246.6,929.0h8.6M1246.6,914.5h8.6" stroke="#c870b8" stroke-width="1.4" fill="none"/>
<path d="M1258.2,923.2V908.8M1253.9,923.2h8.6M1253.9,908.8h8.6" stroke="#c870b8" stroke-width="1.4" fill="none"/>
<path d="M1265.5,916.0V904.4M1261.2,916.0h8.6M1261.2,904.4h8.6" stroke="#c870b8" stroke-width="1.4" fill="none"/>
<path d="M1272.7,910.2V900.1M1268.4,910.2h8.6M1268.4,900.1h8.6" stroke="#c870b8" stroke-width="1.4" fill="none"/>
<circle cx="924.0" cy="1033.7" r="3.9" fill="#c870b8" stroke="#58595b" stroke-width="1.4"/>
<circle cx="931.3" cy="1024.3" r="3.9" fill="#c870b8" stroke="#58595b" stroke-width="1.4"/>
<circle cx="938.5" cy="1010.6" r="3.9" fill="#c870b8" stroke="#58595b" stroke-width="1.4"/>
<circle cx="945.8" cy="1001.2" r="3.9" fill="#c870b8" stroke="#58595b" stroke-width="1.4"/>
<circle cx="953.1" cy="991.1" r="3.9" fill="#c870b8" stroke="#58595b" stroke-width="1.4"/>
<circle cx="960.3" cy="983.1" r="3.9" fill="#c870b8" stroke="#58595b" stroke-width="1.4"/>
<circle cx="967.6" cy="977.4" r="3.9" fill="#c870b8" stroke="#58595b" stroke-width="1.4"/>
<circle cx="974.9" cy="955.0" r="3.9" fill="#c870b8" stroke="#58595b" stroke-width="1.4"/>
<circle cx="982.1" cy="948.5" r="3.9" fill="#c870b8" stroke="#58595b" stroke-width="1.4"/>
<circle cx="989.4" cy="944.9" r="3.9" fill="#c870b8" stroke="#58595b" stroke-width="1.4"/>
<circle cx="996.6" cy="942.7" r="3.9" fill="#c870b8" stroke="#58595b" stroke-width="1.4"/>
<circle cx="1003.9" cy="941.3" r="3.9" fill="#c870b8" stroke="#58595b" stroke-width="1.4"/>
<circle cx="1011.2" cy="940.5" r="3.9" fill="#c870b8" stroke="#58595b" stroke-width="1.4"/>
<circle cx="1018.4" cy="939.1" r="3.9" fill="#c870b8" stroke="#58595b" stroke-width="1.4"/>
<circle cx="1025.7" cy="937.6" r="3.9" fill="#c870b8" stroke="#58595b" stroke-width="1.4"/>
<circle cx="1033.0" cy="936.2" r="3.9" fill="#c870b8" stroke="#58595b" stroke-width="1.4"/>
<circle cx="1040.2" cy="935.5" r="3.9" fill="#c870b8" stroke="#58595b" stroke-width="1.4"/>
<circle cx="1047.5" cy="935.5" r="3.9" fill="#c870b8" stroke="#58595b" stroke-width="1.4"/>
<circle cx="1054.8" cy="933.3" r="3.9" fill="#c870b8" stroke="#58595b" stroke-width="1.4"/>
<circle cx="1062.0" cy="921.8" r="3.9" fill="#c870b8" stroke="#58595b" stroke-width="1.4"/>
<circle cx="1069.3" cy="923.9" r="3.9" fill="#c870b8" stroke="#58595b" stroke-width="1.4"/>
<circle cx="1076.6" cy="918.9" r="3.9" fill="#c870b8" stroke="#58595b" stroke-width="1.4"/>
<circle cx="1083.8" cy="904.4" r="3.9" fill="#c870b8" stroke="#58595b" stroke-width="1.4"/>
<circle cx="1091.1" cy="895.0" r="3.9" fill="#c870b8" stroke="#58595b" stroke-width="1.4"/>
<circle cx="1098.4" cy="898.7" r="3.9" fill="#c870b8" stroke="#58595b" stroke-width="1.4"/>
<circle cx="1105.6" cy="922.5" r="3.9" fill="#c870b8" stroke="#58595b" stroke-width="1.4"/>
<circle cx="1112.9" cy="942.0" r="3.9" fill="#c870b8" stroke="#58595b" stroke-width="1.4"/>
<circle cx="1120.2" cy="936.9" r="3.9" fill="#c870b8" stroke="#58595b" stroke-width="1.4"/>
<circle cx="1127.4" cy="932.6" r="3.9" fill="#c870b8" stroke="#58595b" stroke-width="1.4"/>
<circle cx="1134.7" cy="929.7" r="3.9" fill="#c870b8" stroke="#58595b" stroke-width="1.4"/>
<circle cx="1142.0" cy="929.0" r="3.9" fill="#c870b8" stroke="#58595b" stroke-width="1.4"/>
<circle cx="1149.2" cy="929.0" r="3.9" fill="#c870b8" stroke="#58595b" stroke-width="1.4"/>
<circle cx="1156.5" cy="927.5" r="3.9" fill="#c870b8" stroke="#58595b" stroke-width="1.4"/>
<circle cx="1163.7" cy="928.3" r="3.9" fill="#c870b8" stroke="#58595b" stroke-width="1.4"/>
<circle cx="1171.0" cy="928.3" r="3.9" fill="#c870b8" stroke="#58595b" stroke-width="1.4"/>
<circle cx="1178.3" cy="929.0" r="3.9" fill="#c870b8" stroke="#58595b" stroke-width="1.4"/>
<circle cx="1185.5" cy="929.0" r="3.9" fill="#c870b8" stroke="#58595b" stroke-width="1.4"/>
<circle cx="1192.8" cy="928.3" r="3.9" fill="#c870b8" stroke="#58595b" stroke-width="1.4"/>
<circle cx="1200.1" cy="929.0" r="3.9" fill="#c870b8" stroke="#58595b" stroke-width="1.4"/>
<circle cx="1207.3" cy="929.0" r="3.9" fill="#c870b8" stroke="#58595b" stroke-width="1.4"/>
<circle cx="1214.6" cy="929.0" r="3.9" fill="#c870b8" stroke="#58595b" stroke-width="1.4"/>
<circle cx="1221.9" cy="929.0" r="3.9" fill="#c870b8" stroke="#58595b" stroke-width="1.4"/>
<circle cx="1229.1" cy="928.3" r="3.9" fill="#c870b8" stroke="#58595b" stroke-width="1.4"/>
<circle cx="1236.4" cy="928.3" r="3.9" fill="#c870b8" stroke="#58595b" stroke-width="1.4"/>
<circle cx="1243.7" cy="925.4" r="3.9" fill="#c870b8" stroke="#58595b" stroke-width="1.4"/>
<circle cx="1250.9" cy="921.8" r="3.9" fill="#c870b8" stroke="#58595b" stroke-width="1.4"/>
<circle cx="1258.2" cy="916.0" r="3.9" fill="#c870b8" stroke="#58595b" stroke-width="1.4"/>
<circle cx="1265.5" cy="910.2" r="3.9" fill="#c870b8" stroke="#58595b" stroke-width="1.4"/>
<circle cx="1272.7" cy="905.2" r="3.9" fill="#c870b8" stroke="#58595b" stroke-width="1.4"/>
<rect x="924.0" y="834.4" width="382.0" height="252.7" fill="none" stroke="#000" stroke-width="2.7"/>
<path d="M913.4,1087.1H924.0M913.4,1051.0H924.0M913.4,1014.9H924.0M913.4,978.8H924.0M913.4,942.7H924.0M913.4,906.6H924.0M913.4,870.5H924.0M913.4,834.4H924.0M924.0,1087.1V1097.7M982.1,1087.1V1097.7M1040.2,1087.1V1097.7M1098.4,1087.1V1097.7M1156.5,1087.1V1097.7M1214.6,1087.1V1097.7M1272.7,1087.1V1097.7" stroke="#000" stroke-width="2.6" fill="none"/>
<text x="904.8" y="1095.7" text-anchor="end" style="font-size:22.4px;fill:#000">0.0</text>
<text x="904.8" y="1059.6" text-anchor="end" style="font-size:22.4px;fill:#000">0.5</text>
<text x="904.8" y="1023.5" text-anchor="end" style="font-size:22.4px;fill:#000">1.0</text>
<text x="904.8" y="987.4" text-anchor="end" style="font-size:22.4px;fill:#000">1.5</text>
<text x="904.8" y="951.3" text-anchor="end" style="font-size:22.4px;fill:#000">2.0</text>
<text x="904.8" y="915.2" text-anchor="end" style="font-size:22.4px;fill:#000">2.5</text>
<text x="904.8" y="879.1" text-anchor="end" style="font-size:22.4px;fill:#000">3.0</text>
<text x="904.8" y="843.0" text-anchor="end" style="font-size:22.4px;fill:#000">3.5</text>
<text x="924.0" y="1125.4" text-anchor="middle" style="font-size:21.5px;fill:#000">0</text>
<text x="982.1" y="1125.4" text-anchor="middle" style="font-size:21.5px;fill:#000">4</text>
<text x="1040.2" y="1125.4" text-anchor="middle" style="font-size:21.5px;fill:#000">8</text>
<text x="1098.4" y="1125.4" text-anchor="middle" style="font-size:21.5px;fill:#000">12</text>
<text x="1156.5" y="1125.4" text-anchor="middle" style="font-size:21.5px;fill:#000">16</text>
<text x="1214.6" y="1125.4" text-anchor="middle" style="font-size:21.5px;fill:#000">20</text>
<text x="1272.7" y="1125.4" text-anchor="middle" style="font-size:21.5px;fill:#000">24</text>
<circle cx="982.8" cy="809.8" r="5.3" fill="#b1b3b5" stroke="#58595b" stroke-width="1.4"/>
<text x="1017.4" y="814.8" text-anchor="start" style="font-size:18px;fill:#000">WT</text>
<circle cx="1127.3" cy="809.8" r="5.3" fill="#c870b8" stroke="#58595b" stroke-width="1.4"/>
<text x="1162.3" y="814.8" text-anchor="start" style="font-size:18px;fill:#000">200 μM IPTG</text>
<line x1="1397.8" y1="1087.1" x2="1397.8" y2="834.4" stroke="#bcbec0" stroke-width="2.6" stroke-dasharray="10 5" stroke-dashoffset="3"/>
<line x1="1355.2" y1="867.6" x2="1724.2" y2="867.6" stroke="#231f20" stroke-width="2.7" stroke-dasharray="8.9 9.9"/>
<path d="M1397.8,979.5V973.7M1393.5,979.5h8.6M1393.5,973.7h8.6" stroke="#58595b" stroke-width="1.4" fill="none"/>
<path d="M1405.1,975.2V968.0M1400.8,975.2h8.6M1400.8,968.0h8.6" stroke="#58595b" stroke-width="1.4" fill="none"/>
<path d="M1601.2,1012.0V1006.2M1596.9,1012.0h8.6M1596.9,1006.2h8.6" stroke="#58595b" stroke-width="1.4" fill="none"/>
<path d="M1608.5,1012.0V1004.8M1604.2,1012.0h8.6M1604.2,1004.8h8.6" stroke="#58595b" stroke-width="1.4" fill="none"/>
<path d="M1615.7,1007.7V999.0M1611.4,1007.7h8.6M1611.4,999.0h8.6" stroke="#58595b" stroke-width="1.4" fill="none"/>
<path d="M1623.0,1004.8V994.7M1618.7,1004.8h8.6M1618.7,994.7h8.6" stroke="#58595b" stroke-width="1.4" fill="none"/>
<path d="M1630.3,999.7V988.2M1626.0,999.7h8.6M1626.0,988.2h8.6" stroke="#58595b" stroke-width="1.4" fill="none"/>
<path d="M1637.5,994.0V981.0M1633.2,994.0h8.6M1633.2,981.0h8.6" stroke="#58595b" stroke-width="1.4" fill="none"/>
<path d="M1644.8,987.5V974.5M1640.5,987.5h8.6M1640.5,974.5h8.6" stroke="#58595b" stroke-width="1.4" fill="none"/>
<path d="M1652.1,978.8V965.8M1647.8,978.8h8.6M1647.8,965.8h8.6" stroke="#58595b" stroke-width="1.4" fill="none"/>
<path d="M1659.3,969.4V957.9M1655.0,969.4h8.6M1655.0,957.9h8.6" stroke="#58595b" stroke-width="1.4" fill="none"/>
<path d="M1666.6,963.6V952.1M1662.3,963.6h8.6M1662.3,952.1h8.6" stroke="#58595b" stroke-width="1.4" fill="none"/>
<path d="M1673.9,957.9V946.3M1669.6,957.9h8.6M1669.6,946.3h8.6" stroke="#58595b" stroke-width="1.4" fill="none"/>
<path d="M1681.1,950.6V940.5M1676.8,950.6h8.6M1676.8,940.5h8.6" stroke="#58595b" stroke-width="1.4" fill="none"/>
<path d="M1688.4,945.6V935.5M1684.1,945.6h8.6M1684.1,935.5h8.6" stroke="#58595b" stroke-width="1.4" fill="none"/>
<path d="M1695.7,941.3V931.1M1691.4,941.3h8.6M1691.4,931.1h8.6" stroke="#58595b" stroke-width="1.4" fill="none"/>
<path d="M1702.9,938.4V928.3M1698.6,938.4h8.6M1698.6,928.3h8.6" stroke="#58595b" stroke-width="1.4" fill="none"/>
<circle cx="1354.2" cy="1035.1" r="3.9" fill="#b1b3b5" stroke="#58595b" stroke-width="1.4"/>
<circle cx="1361.5" cy="1022.1" r="3.9" fill="#b1b3b5" stroke="#58595b" stroke-width="1.4"/>
<circle cx="1368.7" cy="1007.7" r="3.9" fill="#b1b3b5" stroke="#58595b" stroke-width="1.4"/>
<circle cx="1376.0" cy="1000.5" r="3.9" fill="#b1b3b5" stroke="#58595b" stroke-width="1.4"/>
<circle cx="1383.3" cy="988.9" r="3.9" fill="#b1b3b5" stroke="#58595b" stroke-width="1.4"/>
<circle cx="1390.5" cy="981.7" r="3.9" fill="#b1b3b5" stroke="#58595b" stroke-width="1.4"/>
<circle cx="1397.8" cy="976.6" r="3.9" fill="#b1b3b5" stroke="#58595b" stroke-width="1.4"/>
<circle cx="1405.1" cy="971.6" r="3.9" fill="#b1b3b5" stroke="#58595b" stroke-width="1.4"/>
<circle cx="1412.3" cy="975.2" r="3.9" fill="#b1b3b5" stroke="#58595b" stroke-width="1.4"/>
<circle cx="1419.6" cy="975.9" r="3.9" fill="#b1b3b5" stroke="#58595b" stroke-width="1.4"/>
<circle cx="1426.9" cy="974.5" r="3.9" fill="#b1b3b5" stroke="#58595b" stroke-width="1.4"/>
<circle cx="1434.1" cy="973.7" r="3.9" fill="#b1b3b5" stroke="#58595b" stroke-width="1.4"/>
<circle cx="1441.4" cy="973.0" r="3.9" fill="#b1b3b5" stroke="#58595b" stroke-width="1.4"/>
<circle cx="1448.6" cy="973.0" r="3.9" fill="#b1b3b5" stroke="#58595b" stroke-width="1.4"/>
<circle cx="1455.9" cy="973.0" r="3.9" fill="#b1b3b5" stroke="#58595b" stroke-width="1.4"/>
<circle cx="1463.2" cy="973.7" r="3.9" fill="#b1b3b5" stroke="#58595b" stroke-width="1.4"/>
<circle cx="1470.4" cy="973.7" r="3.9" fill="#b1b3b5" stroke="#58595b" stroke-width="1.4"/>
<circle cx="1477.7" cy="975.2" r="3.9" fill="#b1b3b5" stroke="#58595b" stroke-width="1.4"/>
<circle cx="1485.0" cy="978.1" r="3.9" fill="#b1b3b5" stroke="#58595b" stroke-width="1.4"/>
<circle cx="1492.2" cy="981.7" r="3.9" fill="#b1b3b5" stroke="#58595b" stroke-width="1.4"/>
<circle cx="1499.5" cy="985.3" r="3.9" fill="#b1b3b5" stroke="#58595b" stroke-width="1.4"/>
<circle cx="1506.8" cy="988.9" r="3.9" fill="#b1b3b5" stroke="#58595b" stroke-width="1.4"/>
<circle cx="1514.0" cy="991.8" r="3.9" fill="#b1b3b5" stroke="#58595b" stroke-width="1.4"/>
<circle cx="1521.3" cy="995.4" r="3.9" fill="#b1b3b5" stroke="#58595b" stroke-width="1.4"/>
<circle cx="1528.6" cy="996.8" r="3.9" fill="#b1b3b5" stroke="#58595b" stroke-width="1.4"/>
<circle cx="1535.8" cy="999.7" r="3.9" fill="#b1b3b5" stroke="#58595b" stroke-width="1.4"/>
<circle cx="1543.1" cy="1001.2" r="3.9" fill="#b1b3b5" stroke="#58595b" stroke-width="1.4"/>
<circle cx="1550.4" cy="1003.3" r="3.9" fill="#b1b3b5" stroke="#58595b" stroke-width="1.4"/>
<circle cx="1557.6" cy="1005.5" r="3.9" fill="#b1b3b5" stroke="#58595b" stroke-width="1.4"/>
<circle cx="1564.9" cy="1007.0" r="3.9" fill="#b1b3b5" stroke="#58595b" stroke-width="1.4"/>
<circle cx="1572.2" cy="1008.4" r="3.9" fill="#b1b3b5" stroke="#58595b" stroke-width="1.4"/>
<circle cx="1579.4" cy="1009.8" r="3.9" fill="#b1b3b5" stroke="#58595b" stroke-width="1.4"/>
<circle cx="1586.7" cy="1010.6" r="3.9" fill="#b1b3b5" stroke="#58595b" stroke-width="1.4"/>
<circle cx="1593.9" cy="1010.6" r="3.9" fill="#b1b3b5" stroke="#58595b" stroke-width="1.4"/>
<circle cx="1601.2" cy="1009.1" r="3.9" fill="#b1b3b5" stroke="#58595b" stroke-width="1.4"/>
<circle cx="1608.5" cy="1008.4" r="3.9" fill="#b1b3b5" stroke="#58595b" stroke-width="1.4"/>
<circle cx="1615.7" cy="1003.3" r="3.9" fill="#b1b3b5" stroke="#58595b" stroke-width="1.4"/>
<circle cx="1623.0" cy="999.7" r="3.9" fill="#b1b3b5" stroke="#58595b" stroke-width="1.4"/>
<circle cx="1630.3" cy="994.0" r="3.9" fill="#b1b3b5" stroke="#58595b" stroke-width="1.4"/>
<circle cx="1637.5" cy="987.5" r="3.9" fill="#b1b3b5" stroke="#58595b" stroke-width="1.4"/>
<circle cx="1644.8" cy="981.0" r="3.9" fill="#b1b3b5" stroke="#58595b" stroke-width="1.4"/>
<circle cx="1652.1" cy="972.3" r="3.9" fill="#b1b3b5" stroke="#58595b" stroke-width="1.4"/>
<circle cx="1659.3" cy="963.6" r="3.9" fill="#b1b3b5" stroke="#58595b" stroke-width="1.4"/>
<circle cx="1666.6" cy="957.9" r="3.9" fill="#b1b3b5" stroke="#58595b" stroke-width="1.4"/>
<circle cx="1673.9" cy="952.1" r="3.9" fill="#b1b3b5" stroke="#58595b" stroke-width="1.4"/>
<circle cx="1681.1" cy="945.6" r="3.9" fill="#b1b3b5" stroke="#58595b" stroke-width="1.4"/>
<circle cx="1688.4" cy="940.5" r="3.9" fill="#b1b3b5" stroke="#58595b" stroke-width="1.4"/>
<circle cx="1695.7" cy="936.2" r="3.9" fill="#b1b3b5" stroke="#58595b" stroke-width="1.4"/>
<circle cx="1702.9" cy="933.3" r="3.9" fill="#b1b3b5" stroke="#58595b" stroke-width="1.4"/>
<path d="M1376.0,1000.5V990.4M1371.7,1000.5h8.6M1371.7,990.4h8.6" stroke="#8a7cc0" stroke-width="1.4" fill="none"/>
<path d="M1383.3,995.4V986.7M1379.0,995.4h8.6M1379.0,986.7h8.6" stroke="#8a7cc0" stroke-width="1.4" fill="none"/>
<path d="M1390.5,985.3V979.5M1386.2,985.3h8.6M1386.2,979.5h8.6" stroke="#8a7cc0" stroke-width="1.4" fill="none"/>
<path d="M1397.8,979.5V972.3M1393.5,979.5h8.6M1393.5,972.3h8.6" stroke="#8a7cc0" stroke-width="1.4" fill="none"/>
<path d="M1477.7,938.4V931.1M1473.4,938.4h8.6M1473.4,931.1h8.6" stroke="#8a7cc0" stroke-width="1.4" fill="none"/>
<path d="M1485.0,936.9V916.7M1480.7,936.9h8.6M1480.7,916.7h8.6" stroke="#8a7cc0" stroke-width="1.4" fill="none"/>
<path d="M1492.2,923.2V910.2M1487.9,923.2h8.6M1487.9,910.2h8.6" stroke="#8a7cc0" stroke-width="1.4" fill="none"/>
<path d="M1499.5,947.8V923.2M1495.2,947.8h8.6M1495.2,923.2h8.6" stroke="#8a7cc0" stroke-width="1.4" fill="none"/>
<path d="M1506.8,952.1V911.7M1502.5,952.1h8.6M1502.5,911.7h8.6" stroke="#8a7cc0" stroke-width="1.4" fill="none"/>
<path d="M1514.0,929.7V892.2M1509.7,929.7h8.6M1509.7,892.2h8.6" stroke="#8a7cc0" stroke-width="1.4" fill="none"/>
<path d="M1521.3,909.5V886.4M1517.0,909.5h8.6M1517.0,886.4h8.6" stroke="#8a7cc0" stroke-width="1.4" fill="none"/>
<path d="M1528.6,906.6V889.3M1524.3,906.6h8.6M1524.3,889.3h8.6" stroke="#8a7cc0" stroke-width="1.4" fill="none"/>
<path d="M1535.8,944.1V926.8M1531.5,944.1h8.6M1531.5,926.8h8.6" stroke="#8a7cc0" stroke-width="1.4" fill="none"/>
<path d="M1543.1,948.5V934.0M1538.8,948.5h8.6M1538.8,934.0h8.6" stroke="#8a7cc0" stroke-width="1.4" fill="none"/>
<path d="M1550.4,940.5V929.0M1546.1,940.5h8.6M1546.1,929.0h8.6" stroke="#8a7cc0" stroke-width="1.4" fill="none"/>
<path d="M1666.6,927.5V920.3M1662.3,927.5h8.6M1662.3,920.3h8.6" stroke="#8a7cc0" stroke-width="1.4" fill="none"/>
<path d="M1673.9,928.3V916.7M1669.6,928.3h8.6M1669.6,916.7h8.6" stroke="#8a7cc0" stroke-width="1.4" fill="none"/>
<path d="M1681.1,926.1V911.7M1676.8,926.1h8.6M1676.8,911.7h8.6" stroke="#8a7cc0" stroke-width="1.4" fill="none"/>
<path d="M1688.4,918.2V906.6M1684.1,918.2h8.6M1684.1,906.6h8.6" stroke="#8a7cc0" stroke-width="1.4" fill="none"/>
<path d="M1695.7,911.7V900.1M1691.4,911.7h8.6M1691.4,900.1h8.6" stroke="#8a7cc0" stroke-width="1.4" fill="none"/>
<path d="M1702.9,906.6V896.5M1698.6,906.6h8.6M1698.6,896.5h8.6" stroke="#8a7cc0" stroke-width="1.4" fill="none"/>
<circle cx="1354.2" cy="1035.1" r="3.9" fill="#8a7cc0" stroke="#58595b" stroke-width="1.4"/>
<circle cx="1361.5" cy="1022.8" r="3.9" fill="#8a7cc0" stroke="#58595b" stroke-width="1.4"/>
<circle cx="1368.7" cy="1008.4" r="3.9" fill="#8a7cc0" stroke="#58595b" stroke-width="1.4"/>
<circle cx="1376.0" cy="995.4" r="3.9" fill="#8a7cc0" stroke="#58595b" stroke-width="1.4"/>
<circle cx="1383.3" cy="991.1" r="3.9" fill="#8a7cc0" stroke="#58595b" stroke-width="1.4"/>
<circle cx="1390.5" cy="982.4" r="3.9" fill="#8a7cc0" stroke="#58595b" stroke-width="1.4"/>
<circle cx="1397.8" cy="975.9" r="3.9" fill="#8a7cc0" stroke="#58595b" stroke-width="1.4"/>
<circle cx="1405.1" cy="952.8" r="3.9" fill="#8a7cc0" stroke="#58595b" stroke-width="1.4"/>
<circle cx="1412.3" cy="947.0" r="3.9" fill="#8a7cc0" stroke="#58595b" stroke-width="1.4"/>
<circle cx="1419.6" cy="944.1" r="3.9" fill="#8a7cc0" stroke="#58595b" stroke-width="1.4"/>
<circle cx="1426.9" cy="942.7" r="3.9" fill="#8a7cc0" stroke="#58595b" stroke-width="1.4"/>
<circle cx="1434.1" cy="940.5" r="3.9" fill="#8a7cc0" stroke="#58595b" stroke-width="1.4"/>
<circle cx="1441.4" cy="939.8" r="3.9" fill="#8a7cc0" stroke="#58595b" stroke-width="1.4"/>
<circle cx="1448.6" cy="937.6" r="3.9" fill="#8a7cc0" stroke="#58595b" stroke-width="1.4"/>
<circle cx="1455.9" cy="936.2" r="3.9" fill="#8a7cc0" stroke="#58595b" stroke-width="1.4"/>
<circle cx="1463.2" cy="934.0" r="3.9" fill="#8a7cc0" stroke="#58595b" stroke-width="1.4"/>
<circle cx="1470.4" cy="934.8" r="3.9" fill="#8a7cc0" stroke="#58595b" stroke-width="1.4"/>
<circle cx="1477.7" cy="934.8" r="3.9" fill="#8a7cc0" stroke="#58595b" stroke-width="1.4"/>
<circle cx="1485.0" cy="926.8" r="3.9" fill="#8a7cc0" stroke="#58595b" stroke-width="1.4"/>
<circle cx="1492.2" cy="916.7" r="3.9" fill="#8a7cc0" stroke="#58595b" stroke-width="1.4"/>
<circle cx="1499.5" cy="935.5" r="3.9" fill="#8a7cc0" stroke="#58595b" stroke-width="1.4"/>
<circle cx="1506.8" cy="931.9" r="3.9" fill="#8a7cc0" stroke="#58595b" stroke-width="1.4"/>
<circle cx="1514.0" cy="910.9" r="3.9" fill="#8a7cc0" stroke="#58595b" stroke-width="1.4"/>
<circle cx="1521.3" cy="897.9" r="3.9" fill="#8a7cc0" stroke="#58595b" stroke-width="1.4"/>
<circle cx="1528.6" cy="897.9" r="3.9" fill="#8a7cc0" stroke="#58595b" stroke-width="1.4"/>
<circle cx="1535.8" cy="935.5" r="3.9" fill="#8a7cc0" stroke="#58595b" stroke-width="1.4"/>
<circle cx="1543.1" cy="941.3" r="3.9" fill="#8a7cc0" stroke="#58595b" stroke-width="1.4"/>
<circle cx="1550.4" cy="934.8" r="3.9" fill="#8a7cc0" stroke="#58595b" stroke-width="1.4"/>
<circle cx="1557.6" cy="931.1" r="3.9" fill="#8a7cc0" stroke="#58595b" stroke-width="1.4"/>
<circle cx="1564.9" cy="928.3" r="3.9" fill="#8a7cc0" stroke="#58595b" stroke-width="1.4"/>
<circle cx="1572.2" cy="926.8" r="3.9" fill="#8a7cc0" stroke="#58595b" stroke-width="1.4"/>
<circle cx="1579.4" cy="926.1" r="3.9" fill="#8a7cc0" stroke="#58595b" stroke-width="1.4"/>
<circle cx="1586.7" cy="926.1" r="3.9" fill="#8a7cc0" stroke="#58595b" stroke-width="1.4"/>
<circle cx="1593.9" cy="926.1" r="3.9" fill="#8a7cc0" stroke="#58595b" stroke-width="1.4"/>
<circle cx="1601.2" cy="926.1" r="3.9" fill="#8a7cc0" stroke="#58595b" stroke-width="1.4"/>
<circle cx="1608.5" cy="926.1" r="3.9" fill="#8a7cc0" stroke="#58595b" stroke-width="1.4"/>
<circle cx="1615.7" cy="926.1" r="3.9" fill="#8a7cc0" stroke="#58595b" stroke-width="1.4"/>
<circle cx="1623.0" cy="926.1" r="3.9" fill="#8a7cc0" stroke="#58595b" stroke-width="1.4"/>
<circle cx="1630.3" cy="926.1" r="3.9" fill="#8a7cc0" stroke="#58595b" stroke-width="1.4"/>
<circle cx="1637.5" cy="926.1" r="3.9" fill="#8a7cc0" stroke="#58595b" stroke-width="1.4"/>
<circle cx="1644.8" cy="926.1" r="3.9" fill="#8a7cc0" stroke="#58595b" stroke-width="1.4"/>
<circle cx="1652.1" cy="926.1" r="3.9" fill="#8a7cc0" stroke="#58595b" stroke-width="1.4"/>
<circle cx="1659.3" cy="925.4" r="3.9" fill="#8a7cc0" stroke="#58595b" stroke-width="1.4"/>
<circle cx="1666.6" cy="923.9" r="3.9" fill="#8a7cc0" stroke="#58595b" stroke-width="1.4"/>
<circle cx="1673.9" cy="922.5" r="3.9" fill="#8a7cc0" stroke="#58595b" stroke-width="1.4"/>
<circle cx="1681.1" cy="918.9" r="3.9" fill="#8a7cc0" stroke="#58595b" stroke-width="1.4"/>
<circle cx="1688.4" cy="912.4" r="3.9" fill="#8a7cc0" stroke="#58595b" stroke-width="1.4"/>
<circle cx="1695.7" cy="905.9" r="3.9" fill="#8a7cc0" stroke="#58595b" stroke-width="1.4"/>
<circle cx="1702.9" cy="901.5" r="3.9" fill="#8a7cc0" stroke="#58595b" stroke-width="1.4"/>
<rect x="1354.2" y="834.4" width="381.6" height="252.7" fill="none" stroke="#000" stroke-width="2.7"/>
<path d="M1343.6,1087.1H1354.2M1343.6,1051.0H1354.2M1343.6,1014.9H1354.2M1343.6,978.8H1354.2M1343.6,942.7H1354.2M1343.6,906.6H1354.2M1343.6,870.5H1354.2M1343.6,834.4H1354.2M1354.2,1087.1V1097.7M1412.3,1087.1V1097.7M1470.4,1087.1V1097.7M1528.6,1087.1V1097.7M1586.7,1087.1V1097.7M1644.8,1087.1V1097.7M1702.9,1087.1V1097.7" stroke="#000" stroke-width="2.6" fill="none"/>
<text x="1354.2" y="1125.4" text-anchor="middle" style="font-size:21.5px;fill:#000">0</text>
<text x="1412.3" y="1125.4" text-anchor="middle" style="font-size:21.5px;fill:#000">4</text>
<text x="1470.4" y="1125.4" text-anchor="middle" style="font-size:21.5px;fill:#000">8</text>
<text x="1528.6" y="1125.4" text-anchor="middle" style="font-size:21.5px;fill:#000">12</text>
<text x="1586.7" y="1125.4" text-anchor="middle" style="font-size:21.5px;fill:#000">16</text>
<text x="1644.8" y="1125.4" text-anchor="middle" style="font-size:21.5px;fill:#000">20</text>
<text x="1702.9" y="1125.4" text-anchor="middle" style="font-size:21.5px;fill:#000">24</text>
<circle cx="1413.0" cy="809.8" r="5.3" fill="#b1b3b5" stroke="#58595b" stroke-width="1.4"/>
<text x="1447.6" y="814.8" text-anchor="start" style="font-size:18px;fill:#000">WT</text>
<circle cx="1557.5" cy="809.8" r="5.3" fill="#8a7cc0" stroke="#58595b" stroke-width="1.4"/>
<text x="1592.5" y="814.8" text-anchor="start" style="font-size:18px;fill:#000">400 μM IPTG</text>
<text x="1304.1" y="1166.7" text-anchor="middle" style="font-size:24px;fill:#000">Time after induction (h)</text>
<text transform="translate(839.2,800.5) rotate(-90)" text-anchor="middle" style="font-size:24px">Measure OD<tspan dy="6" style="font-size:15px">600</tspan><tspan dy="-6"> (AU)</tspan></text>
<line x1="966.7" y1="1534.5" x2="966.7" y2="1285.1" stroke="#bcbec0" stroke-width="2.6" stroke-dasharray="10 5" stroke-dashoffset="3"/>
<line x1="924.6" y1="1317.2" x2="1293.6" y2="1317.2" stroke="#231f20" stroke-width="2.7" stroke-dasharray="8.9 9.9"/>
<path d="M966.7,1428.3V1422.6M962.4,1428.3h8.6M962.4,1422.6h8.6" stroke="#58595b" stroke-width="1.4" fill="none"/>
<path d="M973.9,1424.1V1416.9M969.6,1424.1h8.6M969.6,1416.9h8.6" stroke="#58595b" stroke-width="1.4" fill="none"/>
<path d="M1167.7,1460.4V1454.7M1163.4,1460.4h8.6M1163.4,1454.7h8.6" stroke="#58595b" stroke-width="1.4" fill="none"/>
<path d="M1174.9,1460.4V1453.3M1170.6,1460.4h8.6M1170.6,1453.3h8.6" stroke="#58595b" stroke-width="1.4" fill="none"/>
<path d="M1182.1,1456.1V1447.6M1177.8,1456.1h8.6M1177.8,1447.6h8.6" stroke="#58595b" stroke-width="1.4" fill="none"/>
<path d="M1189.3,1453.3V1443.3M1185.0,1453.3h8.6M1185.0,1443.3h8.6" stroke="#58595b" stroke-width="1.4" fill="none"/>
<path d="M1196.4,1448.3V1436.9M1192.1,1448.3h8.6M1192.1,1436.9h8.6" stroke="#58595b" stroke-width="1.4" fill="none"/>
<path d="M1203.6,1442.6V1429.8M1199.3,1442.6h8.6M1199.3,1429.8h8.6" stroke="#58595b" stroke-width="1.4" fill="none"/>
<path d="M1210.8,1436.2V1423.3M1206.5,1436.2h8.6M1206.5,1423.3h8.6" stroke="#58595b" stroke-width="1.4" fill="none"/>
<path d="M1218.0,1427.6V1414.8M1213.7,1427.6h8.6M1213.7,1414.8h8.6" stroke="#58595b" stroke-width="1.4" fill="none"/>
<path d="M1225.2,1418.4V1406.9M1220.9,1418.4h8.6M1220.9,1406.9h8.6" stroke="#58595b" stroke-width="1.4" fill="none"/>
<path d="M1232.3,1412.7V1401.2M1228.0,1412.7h8.6M1228.0,1401.2h8.6" stroke="#58595b" stroke-width="1.4" fill="none"/>
<path d="M1239.5,1406.9V1395.5M1235.2,1406.9h8.6M1235.2,1395.5h8.6" stroke="#58595b" stroke-width="1.4" fill="none"/>
<path d="M1246.7,1399.8V1389.8M1242.4,1399.8h8.6M1242.4,1389.8h8.6" stroke="#58595b" stroke-width="1.4" fill="none"/>
<path d="M1253.9,1394.8V1384.9M1249.6,1394.8h8.6M1249.6,1384.9h8.6" stroke="#58595b" stroke-width="1.4" fill="none"/>
<path d="M1261.1,1390.6V1380.6M1256.8,1390.6h8.6M1256.8,1380.6h8.6" stroke="#58595b" stroke-width="1.4" fill="none"/>
<path d="M1268.2,1387.7V1377.7M1263.9,1387.7h8.6M1263.9,1377.7h8.6" stroke="#58595b" stroke-width="1.4" fill="none"/>
<circle cx="923.6" cy="1483.2" r="3.9" fill="#b1b3b5" stroke="#58595b" stroke-width="1.4"/>
<circle cx="930.8" cy="1470.4" r="3.9" fill="#b1b3b5" stroke="#58595b" stroke-width="1.4"/>
<circle cx="938.0" cy="1456.1" r="3.9" fill="#b1b3b5" stroke="#58595b" stroke-width="1.4"/>
<circle cx="945.1" cy="1449.0" r="3.9" fill="#b1b3b5" stroke="#58595b" stroke-width="1.4"/>
<circle cx="952.3" cy="1437.6" r="3.9" fill="#b1b3b5" stroke="#58595b" stroke-width="1.4"/>
<circle cx="959.5" cy="1430.5" r="3.9" fill="#b1b3b5" stroke="#58595b" stroke-width="1.4"/>
<circle cx="966.7" cy="1425.5" r="3.9" fill="#b1b3b5" stroke="#58595b" stroke-width="1.4"/>
<circle cx="973.9" cy="1420.5" r="3.9" fill="#b1b3b5" stroke="#58595b" stroke-width="1.4"/>
<circle cx="981.0" cy="1424.1" r="3.9" fill="#b1b3b5" stroke="#58595b" stroke-width="1.4"/>
<circle cx="988.2" cy="1424.8" r="3.9" fill="#b1b3b5" stroke="#58595b" stroke-width="1.4"/>
<circle cx="995.4" cy="1423.3" r="3.9" fill="#b1b3b5" stroke="#58595b" stroke-width="1.4"/>
<circle cx="1002.6" cy="1422.6" r="3.9" fill="#b1b3b5" stroke="#58595b" stroke-width="1.4"/>
<circle cx="1009.8" cy="1421.9" r="3.9" fill="#b1b3b5" stroke="#58595b" stroke-width="1.4"/>
<circle cx="1016.9" cy="1421.9" r="3.9" fill="#b1b3b5" stroke="#58595b" stroke-width="1.4"/>
<circle cx="1024.1" cy="1421.9" r="3.9" fill="#b1b3b5" stroke="#58595b" stroke-width="1.4"/>
<circle cx="1031.3" cy="1422.6" r="3.9" fill="#b1b3b5" stroke="#58595b" stroke-width="1.4"/>
<circle cx="1038.5" cy="1422.6" r="3.9" fill="#b1b3b5" stroke="#58595b" stroke-width="1.4"/>
<circle cx="1045.7" cy="1424.1" r="3.9" fill="#b1b3b5" stroke="#58595b" stroke-width="1.4"/>
<circle cx="1052.8" cy="1426.9" r="3.9" fill="#b1b3b5" stroke="#58595b" stroke-width="1.4"/>
<circle cx="1060.0" cy="1430.5" r="3.9" fill="#b1b3b5" stroke="#58595b" stroke-width="1.4"/>
<circle cx="1067.2" cy="1434.0" r="3.9" fill="#b1b3b5" stroke="#58595b" stroke-width="1.4"/>
<circle cx="1074.4" cy="1437.6" r="3.9" fill="#b1b3b5" stroke="#58595b" stroke-width="1.4"/>
<circle cx="1081.6" cy="1440.4" r="3.9" fill="#b1b3b5" stroke="#58595b" stroke-width="1.4"/>
<circle cx="1088.7" cy="1444.0" r="3.9" fill="#b1b3b5" stroke="#58595b" stroke-width="1.4"/>
<circle cx="1095.9" cy="1445.4" r="3.9" fill="#b1b3b5" stroke="#58595b" stroke-width="1.4"/>
<circle cx="1103.1" cy="1448.3" r="3.9" fill="#b1b3b5" stroke="#58595b" stroke-width="1.4"/>
<circle cx="1110.3" cy="1449.7" r="3.9" fill="#b1b3b5" stroke="#58595b" stroke-width="1.4"/>
<circle cx="1117.5" cy="1451.8" r="3.9" fill="#b1b3b5" stroke="#58595b" stroke-width="1.4"/>
<circle cx="1124.6" cy="1454.0" r="3.9" fill="#b1b3b5" stroke="#58595b" stroke-width="1.4"/>
<circle cx="1131.8" cy="1455.4" r="3.9" fill="#b1b3b5" stroke="#58595b" stroke-width="1.4"/>
<circle cx="1139.0" cy="1456.8" r="3.9" fill="#b1b3b5" stroke="#58595b" stroke-width="1.4"/>
<circle cx="1146.2" cy="1458.3" r="3.9" fill="#b1b3b5" stroke="#58595b" stroke-width="1.4"/>
<circle cx="1153.4" cy="1459.0" r="3.9" fill="#b1b3b5" stroke="#58595b" stroke-width="1.4"/>
<circle cx="1160.5" cy="1459.0" r="3.9" fill="#b1b3b5" stroke="#58595b" stroke-width="1.4"/>
<circle cx="1167.7" cy="1457.5" r="3.9" fill="#b1b3b5" stroke="#58595b" stroke-width="1.4"/>
<circle cx="1174.9" cy="1456.8" r="3.9" fill="#b1b3b5" stroke="#58595b" stroke-width="1.4"/>
<circle cx="1182.1" cy="1451.8" r="3.9" fill="#b1b3b5" stroke="#58595b" stroke-width="1.4"/>
<circle cx="1189.3" cy="1448.3" r="3.9" fill="#b1b3b5" stroke="#58595b" stroke-width="1.4"/>
<circle cx="1196.4" cy="1442.6" r="3.9" fill="#b1b3b5" stroke="#58595b" stroke-width="1.4"/>
<circle cx="1203.6" cy="1436.2" r="3.9" fill="#b1b3b5" stroke="#58595b" stroke-width="1.4"/>
<circle cx="1210.8" cy="1429.8" r="3.9" fill="#b1b3b5" stroke="#58595b" stroke-width="1.4"/>
<circle cx="1218.0" cy="1421.2" r="3.9" fill="#b1b3b5" stroke="#58595b" stroke-width="1.4"/>
<circle cx="1225.2" cy="1412.7" r="3.9" fill="#b1b3b5" stroke="#58595b" stroke-width="1.4"/>
<circle cx="1232.3" cy="1406.9" r="3.9" fill="#b1b3b5" stroke="#58595b" stroke-width="1.4"/>
<circle cx="1239.5" cy="1401.2" r="3.9" fill="#b1b3b5" stroke="#58595b" stroke-width="1.4"/>
<circle cx="1246.7" cy="1394.8" r="3.9" fill="#b1b3b5" stroke="#58595b" stroke-width="1.4"/>
<circle cx="1253.9" cy="1389.8" r="3.9" fill="#b1b3b5" stroke="#58595b" stroke-width="1.4"/>
<circle cx="1261.1" cy="1385.6" r="3.9" fill="#b1b3b5" stroke="#58595b" stroke-width="1.4"/>
<circle cx="1268.2" cy="1382.7" r="3.9" fill="#b1b3b5" stroke="#58595b" stroke-width="1.4"/>
<path d="M938.0,1461.1V1454.0M933.7,1461.1h8.6M933.7,1454.0h8.6" stroke="#77c58f" stroke-width="1.4" fill="none"/>
<path d="M945.1,1449.0V1437.6M940.8,1449.0h8.6M940.8,1437.6h8.6" stroke="#77c58f" stroke-width="1.4" fill="none"/>
<path d="M952.3,1436.2V1424.8M948.0,1436.2h8.6M948.0,1424.8h8.6" stroke="#77c58f" stroke-width="1.4" fill="none"/>
<path d="M959.5,1429.0V1416.2M955.2,1429.0h8.6M955.2,1416.2h8.6" stroke="#77c58f" stroke-width="1.4" fill="none"/>
<path d="M966.7,1416.9V1388.4M962.4,1416.9h8.6M962.4,1388.4h8.6" stroke="#77c58f" stroke-width="1.4" fill="none"/>
<path d="M973.9,1399.1V1389.1M969.6,1399.1h8.6M969.6,1389.1h8.6" stroke="#77c58f" stroke-width="1.4" fill="none"/>
<path d="M981.0,1392.0V1382.0M976.7,1392.0h8.6M976.7,1382.0h8.6" stroke="#77c58f" stroke-width="1.4" fill="none"/>
<path d="M988.2,1387.7V1376.3M983.9,1387.7h8.6M983.9,1376.3h8.6" stroke="#77c58f" stroke-width="1.4" fill="none"/>
<path d="M995.4,1389.8V1375.6M991.1,1389.8h8.6M991.1,1375.6h8.6" stroke="#77c58f" stroke-width="1.4" fill="none"/>
<path d="M1002.6,1389.1V1364.9M998.3,1389.1h8.6M998.3,1364.9h8.6" stroke="#77c58f" stroke-width="1.4" fill="none"/>
<path d="M1009.8,1397.7V1347.8M1005.5,1397.7h8.6M1005.5,1347.8h8.6" stroke="#77c58f" stroke-width="1.4" fill="none"/>
<path d="M1016.9,1401.2V1325.7M1012.6,1401.2h8.6M1012.6,1325.7h8.6" stroke="#77c58f" stroke-width="1.4" fill="none"/>
<path d="M1024.1,1406.2V1335.0M1019.8,1406.2h8.6M1019.8,1335.0h8.6" stroke="#77c58f" stroke-width="1.4" fill="none"/>
<path d="M1031.3,1413.4V1335.0M1027.0,1413.4h8.6M1027.0,1335.0h8.6" stroke="#77c58f" stroke-width="1.4" fill="none"/>
<path d="M1038.5,1427.6V1342.1M1034.2,1427.6h8.6M1034.2,1342.1h8.6" stroke="#77c58f" stroke-width="1.4" fill="none"/>
<path d="M1045.7,1430.5V1345.0M1041.4,1430.5h8.6M1041.4,1345.0h8.6" stroke="#77c58f" stroke-width="1.4" fill="none"/>
<path d="M1052.8,1435.5V1349.9M1048.5,1435.5h8.6M1048.5,1349.9h8.6" stroke="#77c58f" stroke-width="1.4" fill="none"/>
<path d="M1060.0,1436.9V1354.2M1055.7,1436.9h8.6M1055.7,1354.2h8.6" stroke="#77c58f" stroke-width="1.4" fill="none"/>
<path d="M1067.2,1433.3V1353.5M1062.9,1433.3h8.6M1062.9,1353.5h8.6" stroke="#77c58f" stroke-width="1.4" fill="none"/>
<path d="M1074.4,1434.0V1359.9M1070.1,1434.0h8.6M1070.1,1359.9h8.6" stroke="#77c58f" stroke-width="1.4" fill="none"/>
<path d="M1081.6,1436.9V1362.8M1077.3,1436.9h8.6M1077.3,1362.8h8.6" stroke="#77c58f" stroke-width="1.4" fill="none"/>
<path d="M1088.7,1437.6V1366.3M1084.4,1437.6h8.6M1084.4,1366.3h8.6" stroke="#77c58f" stroke-width="1.4" fill="none"/>
<path d="M1095.9,1439.0V1367.8M1091.6,1439.0h8.6M1091.6,1367.8h8.6" stroke="#77c58f" stroke-width="1.4" fill="none"/>
<path d="M1103.1,1447.6V1362.1M1098.8,1447.6h8.6M1098.8,1362.1h8.6" stroke="#77c58f" stroke-width="1.4" fill="none"/>
<path d="M1110.3,1436.9V1351.4M1106.0,1436.9h8.6M1106.0,1351.4h8.6" stroke="#77c58f" stroke-width="1.4" fill="none"/>
<path d="M1117.5,1429.8V1365.6M1113.2,1429.8h8.6M1113.2,1365.6h8.6" stroke="#77c58f" stroke-width="1.4" fill="none"/>
<path d="M1124.6,1426.9V1367.0M1120.3,1426.9h8.6M1120.3,1367.0h8.6" stroke="#77c58f" stroke-width="1.4" fill="none"/>
<path d="M1131.8,1427.6V1367.8M1127.5,1427.6h8.6M1127.5,1367.8h8.6" stroke="#77c58f" stroke-width="1.4" fill="none"/>
<path d="M1139.0,1434.0V1369.9M1134.7,1434.0h8.6M1134.7,1369.9h8.6" stroke="#77c58f" stroke-width="1.4" fill="none"/>
<path d="M1146.2,1424.1V1367.0M1141.9,1424.1h8.6M1141.9,1367.0h8.6" stroke="#77c58f" stroke-width="1.4" fill="none"/>
<path d="M1153.4,1425.5V1371.3M1149.1,1425.5h8.6M1149.1,1371.3h8.6" stroke="#77c58f" stroke-width="1.4" fill="none"/>
<path d="M1160.5,1426.2V1369.2M1156.2,1426.2h8.6M1156.2,1369.2h8.6" stroke="#77c58f" stroke-width="1.4" fill="none"/>
<path d="M1167.7,1428.3V1371.3M1163.4,1428.3h8.6M1163.4,1371.3h8.6" stroke="#77c58f" stroke-width="1.4" fill="none"/>
<path d="M1174.9,1429.8V1372.7M1170.6,1429.8h8.6M1170.6,1372.7h8.6" stroke="#77c58f" stroke-width="1.4" fill="none"/>
<path d="M1182.1,1429.0V1374.9M1177.8,1429.0h8.6M1177.8,1374.9h8.6" stroke="#77c58f" stroke-width="1.4" fill="none"/>
<path d="M1189.3,1429.8V1372.7M1185.0,1429.8h8.6M1185.0,1372.7h8.6" stroke="#77c58f" stroke-width="1.4" fill="none"/>
<path d="M1196.4,1439.0V1374.9M1192.1,1439.0h8.6M1192.1,1374.9h8.6" stroke="#77c58f" stroke-width="1.4" fill="none"/>
<path d="M1203.6,1416.9V1374.2M1199.3,1416.9h8.6M1199.3,1374.2h8.6" stroke="#77c58f" stroke-width="1.4" fill="none"/>
<path d="M1210.8,1418.4V1382.7M1206.5,1418.4h8.6M1206.5,1382.7h8.6" stroke="#77c58f" stroke-width="1.4" fill="none"/>
<path d="M1218.0,1418.4V1382.7M1213.7,1418.4h8.6M1213.7,1382.7h8.6" stroke="#77c58f" stroke-width="1.4" fill="none"/>
<path d="M1225.2,1423.3V1387.7M1220.9,1423.3h8.6M1220.9,1387.7h8.6" stroke="#77c58f" stroke-width="1.4" fill="none"/>
<path d="M1232.3,1422.6V1387.0M1228.0,1422.6h8.6M1228.0,1387.0h8.6" stroke="#77c58f" stroke-width="1.4" fill="none"/>
<path d="M1239.5,1419.8V1388.4M1235.2,1419.8h8.6M1235.2,1388.4h8.6" stroke="#77c58f" stroke-width="1.4" fill="none"/>
<path d="M1246.7,1429.0V1393.4M1242.4,1429.0h8.6M1242.4,1393.4h8.6" stroke="#77c58f" stroke-width="1.4" fill="none"/>
<path d="M1253.9,1417.6V1386.3M1249.6,1417.6h8.6M1249.6,1386.3h8.6" stroke="#77c58f" stroke-width="1.4" fill="none"/>
<path d="M1261.1,1418.4V1382.7M1256.8,1418.4h8.6M1256.8,1382.7h8.6" stroke="#77c58f" stroke-width="1.4" fill="none"/>
<path d="M1268.2,1415.5V1379.9M1263.9,1415.5h8.6M1263.9,1379.9h8.6" stroke="#77c58f" stroke-width="1.4" fill="none"/>
<circle cx="923.6" cy="1483.2" r="3.9" fill="#77c58f" stroke="#58595b" stroke-width="1.4"/>
<circle cx="930.8" cy="1470.4" r="3.9" fill="#77c58f" stroke="#58595b" stroke-width="1.4"/>
<circle cx="938.0" cy="1457.5" r="3.9" fill="#77c58f" stroke="#58595b" stroke-width="1.4"/>
<circle cx="945.1" cy="1443.3" r="3.9" fill="#77c58f" stroke="#58595b" stroke-width="1.4"/>
<circle cx="952.3" cy="1430.5" r="3.9" fill="#77c58f" stroke="#58595b" stroke-width="1.4"/>
<circle cx="959.5" cy="1422.6" r="3.9" fill="#77c58f" stroke="#58595b" stroke-width="1.4"/>
<circle cx="966.7" cy="1402.7" r="3.9" fill="#77c58f" stroke="#58595b" stroke-width="1.4"/>
<circle cx="973.9" cy="1394.1" r="3.9" fill="#77c58f" stroke="#58595b" stroke-width="1.4"/>
<circle cx="981.0" cy="1387.0" r="3.9" fill="#77c58f" stroke="#58595b" stroke-width="1.4"/>
<circle cx="988.2" cy="1382.0" r="3.9" fill="#77c58f" stroke="#58595b" stroke-width="1.4"/>
<circle cx="995.4" cy="1382.7" r="3.9" fill="#77c58f" stroke="#58595b" stroke-width="1.4"/>
<circle cx="1002.6" cy="1377.0" r="3.9" fill="#77c58f" stroke="#58595b" stroke-width="1.4"/>
<circle cx="1009.8" cy="1372.7" r="3.9" fill="#77c58f" stroke="#58595b" stroke-width="1.4"/>
<circle cx="1016.9" cy="1363.5" r="3.9" fill="#77c58f" stroke="#58595b" stroke-width="1.4"/>
<circle cx="1024.1" cy="1370.6" r="3.9" fill="#77c58f" stroke="#58595b" stroke-width="1.4"/>
<circle cx="1031.3" cy="1374.2" r="3.9" fill="#77c58f" stroke="#58595b" stroke-width="1.4"/>
<circle cx="1038.5" cy="1384.9" r="3.9" fill="#77c58f" stroke="#58595b" stroke-width="1.4"/>
<circle cx="1045.7" cy="1387.7" r="3.9" fill="#77c58f" stroke="#58595b" stroke-width="1.4"/>
<circle cx="1052.8" cy="1392.7" r="3.9" fill="#77c58f" stroke="#58595b" stroke-width="1.4"/>
<circle cx="1060.0" cy="1395.5" r="3.9" fill="#77c58f" stroke="#58595b" stroke-width="1.4"/>
<circle cx="1067.2" cy="1393.4" r="3.9" fill="#77c58f" stroke="#58595b" stroke-width="1.4"/>
<circle cx="1074.4" cy="1397.0" r="3.9" fill="#77c58f" stroke="#58595b" stroke-width="1.4"/>
<circle cx="1081.6" cy="1399.8" r="3.9" fill="#77c58f" stroke="#58595b" stroke-width="1.4"/>
<circle cx="1088.7" cy="1402.0" r="3.9" fill="#77c58f" stroke="#58595b" stroke-width="1.4"/>
<circle cx="1095.9" cy="1403.4" r="3.9" fill="#77c58f" stroke="#58595b" stroke-width="1.4"/>
<circle cx="1103.1" cy="1404.8" r="3.9" fill="#77c58f" stroke="#58595b" stroke-width="1.4"/>
<circle cx="1110.3" cy="1394.1" r="3.9" fill="#77c58f" stroke="#58595b" stroke-width="1.4"/>
<circle cx="1117.5" cy="1397.7" r="3.9" fill="#77c58f" stroke="#58595b" stroke-width="1.4"/>
<circle cx="1124.6" cy="1397.0" r="3.9" fill="#77c58f" stroke="#58595b" stroke-width="1.4"/>
<circle cx="1131.8" cy="1397.7" r="3.9" fill="#77c58f" stroke="#58595b" stroke-width="1.4"/>
<circle cx="1139.0" cy="1402.0" r="3.9" fill="#77c58f" stroke="#58595b" stroke-width="1.4"/>
<circle cx="1146.2" cy="1395.5" r="3.9" fill="#77c58f" stroke="#58595b" stroke-width="1.4"/>
<circle cx="1153.4" cy="1398.4" r="3.9" fill="#77c58f" stroke="#58595b" stroke-width="1.4"/>
<circle cx="1160.5" cy="1397.7" r="3.9" fill="#77c58f" stroke="#58595b" stroke-width="1.4"/>
<circle cx="1167.7" cy="1399.8" r="3.9" fill="#77c58f" stroke="#58595b" stroke-width="1.4"/>
<circle cx="1174.9" cy="1401.2" r="3.9" fill="#77c58f" stroke="#58595b" stroke-width="1.4"/>
<circle cx="1182.1" cy="1402.0" r="3.9" fill="#77c58f" stroke="#58595b" stroke-width="1.4"/>
<circle cx="1189.3" cy="1401.2" r="3.9" fill="#77c58f" stroke="#58595b" stroke-width="1.4"/>
<circle cx="1196.4" cy="1406.9" r="3.9" fill="#77c58f" stroke="#58595b" stroke-width="1.4"/>
<circle cx="1203.6" cy="1395.5" r="3.9" fill="#77c58f" stroke="#58595b" stroke-width="1.4"/>
<circle cx="1210.8" cy="1400.5" r="3.9" fill="#77c58f" stroke="#58595b" stroke-width="1.4"/>
<circle cx="1218.0" cy="1400.5" r="3.9" fill="#77c58f" stroke="#58595b" stroke-width="1.4"/>
<circle cx="1225.2" cy="1405.5" r="3.9" fill="#77c58f" stroke="#58595b" stroke-width="1.4"/>
<circle cx="1232.3" cy="1404.8" r="3.9" fill="#77c58f" stroke="#58595b" stroke-width="1.4"/>
<circle cx="1239.5" cy="1404.1" r="3.9" fill="#77c58f" stroke="#58595b" stroke-width="1.4"/>
<circle cx="1246.7" cy="1411.2" r="3.9" fill="#77c58f" stroke="#58595b" stroke-width="1.4"/>
<circle cx="1253.9" cy="1402.0" r="3.9" fill="#77c58f" stroke="#58595b" stroke-width="1.4"/>
<circle cx="1261.1" cy="1400.5" r="3.9" fill="#77c58f" stroke="#58595b" stroke-width="1.4"/>
<circle cx="1268.2" cy="1397.7" r="3.9" fill="#77c58f" stroke="#58595b" stroke-width="1.4"/>
<rect x="923.6" y="1285.1" width="382.0" height="249.4" fill="none" stroke="#000" stroke-width="2.7"/>
<path d="M913.0,1534.5H923.6M913.0,1498.9H923.6M913.0,1463.2H923.6M913.0,1427.6H923.6M913.0,1392.0H923.6M913.0,1356.4H923.6M913.0,1320.7H923.6M913.0,1285.1H923.6M923.6,1534.5V1545.1M981.0,1534.5V1545.1M1038.5,1534.5V1545.1M1095.9,1534.5V1545.1M1153.4,1534.5V1545.1M1210.8,1534.5V1545.1M1268.2,1534.5V1545.1" stroke="#000" stroke-width="2.6" fill="none"/>
<text x="904.4" y="1543.1" text-anchor="end" style="font-size:22.4px;fill:#000">0.0</text>
<text x="904.4" y="1507.5" text-anchor="end" style="font-size:22.4px;fill:#000">0.5</text>
<text x="904.4" y="1471.8" text-anchor="end" style="font-size:22.4px;fill:#000">1.0</text>
<text x="904.4" y="1436.2" text-anchor="end" style="font-size:22.4px;fill:#000">1.5</text>
<text x="904.4" y="1400.6" text-anchor="end" style="font-size:22.4px;fill:#000">2.0</text>
<text x="904.4" y="1365.0" text-anchor="end" style="font-size:22.4px;fill:#000">2.5</text>
<text x="904.4" y="1329.3" text-anchor="end" style="font-size:22.4px;fill:#000">3.0</text>
<text x="904.4" y="1293.7" text-anchor="end" style="font-size:22.4px;fill:#000">3.5</text>
<circle cx="982.4" cy="1267.9" r="5.3" fill="#b1b3b5" stroke="#58595b" stroke-width="1.4"/>
<text x="1017.0" y="1272.9" text-anchor="start" style="font-size:18px;fill:#000">WT</text>
<circle cx="1126.9" cy="1267.9" r="5.3" fill="#77c58f" stroke="#58595b" stroke-width="1.4"/>
<text x="1161.9" y="1272.9" text-anchor="start" style="font-size:18px;fill:#000">0 ng/mL aTc</text>
<line x1="1397.0" y1="1534.5" x2="1397.0" y2="1285.1" stroke="#bcbec0" stroke-width="2.6" stroke-dasharray="10 5" stroke-dashoffset="3"/>
<line x1="1354.9" y1="1317.2" x2="1723.9" y2="1317.2" stroke="#231f20" stroke-width="2.7" stroke-dasharray="8.9 9.9"/>
<path d="M1397.0,1428.3V1422.6M1392.7,1428.3h8.6M1392.7,1422.6h8.6" stroke="#58595b" stroke-width="1.4" fill="none"/>
<path d="M1404.2,1424.1V1416.9M1399.9,1424.1h8.6M1399.9,1416.9h8.6" stroke="#58595b" stroke-width="1.4" fill="none"/>
<path d="M1598.0,1460.4V1454.7M1593.7,1460.4h8.6M1593.7,1454.7h8.6" stroke="#58595b" stroke-width="1.4" fill="none"/>
<path d="M1605.2,1460.4V1453.3M1600.9,1460.4h8.6M1600.9,1453.3h8.6" stroke="#58595b" stroke-width="1.4" fill="none"/>
<path d="M1612.4,1456.1V1447.6M1608.1,1456.1h8.6M1608.1,1447.6h8.6" stroke="#58595b" stroke-width="1.4" fill="none"/>
<path d="M1619.6,1453.3V1443.3M1615.3,1453.3h8.6M1615.3,1443.3h8.6" stroke="#58595b" stroke-width="1.4" fill="none"/>
<path d="M1626.7,1448.3V1436.9M1622.4,1448.3h8.6M1622.4,1436.9h8.6" stroke="#58595b" stroke-width="1.4" fill="none"/>
<path d="M1633.9,1442.6V1429.8M1629.6,1442.6h8.6M1629.6,1429.8h8.6" stroke="#58595b" stroke-width="1.4" fill="none"/>
<path d="M1641.1,1436.2V1423.3M1636.8,1436.2h8.6M1636.8,1423.3h8.6" stroke="#58595b" stroke-width="1.4" fill="none"/>
<path d="M1648.3,1427.6V1414.8M1644.0,1427.6h8.6M1644.0,1414.8h8.6" stroke="#58595b" stroke-width="1.4" fill="none"/>
<path d="M1655.5,1418.4V1406.9M1651.2,1418.4h8.6M1651.2,1406.9h8.6" stroke="#58595b" stroke-width="1.4" fill="none"/>
<path d="M1662.6,1412.7V1401.2M1658.3,1412.7h8.6M1658.3,1401.2h8.6" stroke="#58595b" stroke-width="1.4" fill="none"/>
<path d="M1669.8,1406.9V1395.5M1665.5,1406.9h8.6M1665.5,1395.5h8.6" stroke="#58595b" stroke-width="1.4" fill="none"/>
<path d="M1677.0,1399.8V1389.8M1672.7,1399.8h8.6M1672.7,1389.8h8.6" stroke="#58595b" stroke-width="1.4" fill="none"/>
<path d="M1684.2,1394.8V1384.9M1679.9,1394.8h8.6M1679.9,1384.9h8.6" stroke="#58595b" stroke-width="1.4" fill="none"/>
<path d="M1691.4,1390.6V1380.6M1687.1,1390.6h8.6M1687.1,1380.6h8.6" stroke="#58595b" stroke-width="1.4" fill="none"/>
<path d="M1698.5,1387.7V1377.7M1694.2,1387.7h8.6M1694.2,1377.7h8.6" stroke="#58595b" stroke-width="1.4" fill="none"/>
<circle cx="1353.9" cy="1483.2" r="3.9" fill="#b1b3b5" stroke="#58595b" stroke-width="1.4"/>
<circle cx="1361.1" cy="1470.4" r="3.9" fill="#b1b3b5" stroke="#58595b" stroke-width="1.4"/>
<circle cx="1368.3" cy="1456.1" r="3.9" fill="#b1b3b5" stroke="#58595b" stroke-width="1.4"/>
<circle cx="1375.4" cy="1449.0" r="3.9" fill="#b1b3b5" stroke="#58595b" stroke-width="1.4"/>
<circle cx="1382.6" cy="1437.6" r="3.9" fill="#b1b3b5" stroke="#58595b" stroke-width="1.4"/>
<circle cx="1389.8" cy="1430.5" r="3.9" fill="#b1b3b5" stroke="#58595b" stroke-width="1.4"/>
<circle cx="1397.0" cy="1425.5" r="3.9" fill="#b1b3b5" stroke="#58595b" stroke-width="1.4"/>
<circle cx="1404.2" cy="1420.5" r="3.9" fill="#b1b3b5" stroke="#58595b" stroke-width="1.4"/>
<circle cx="1411.3" cy="1424.1" r="3.9" fill="#b1b3b5" stroke="#58595b" stroke-width="1.4"/>
<circle cx="1418.5" cy="1424.8" r="3.9" fill="#b1b3b5" stroke="#58595b" stroke-width="1.4"/>
<circle cx="1425.7" cy="1423.3" r="3.9" fill="#b1b3b5" stroke="#58595b" stroke-width="1.4"/>
<circle cx="1432.9" cy="1422.6" r="3.9" fill="#b1b3b5" stroke="#58595b" stroke-width="1.4"/>
<circle cx="1440.1" cy="1421.9" r="3.9" fill="#b1b3b5" stroke="#58595b" stroke-width="1.4"/>
<circle cx="1447.2" cy="1421.9" r="3.9" fill="#b1b3b5" stroke="#58595b" stroke-width="1.4"/>
<circle cx="1454.4" cy="1421.9" r="3.9" fill="#b1b3b5" stroke="#58595b" stroke-width="1.4"/>
<circle cx="1461.6" cy="1422.6" r="3.9" fill="#b1b3b5" stroke="#58595b" stroke-width="1.4"/>
<circle cx="1468.8" cy="1422.6" r="3.9" fill="#b1b3b5" stroke="#58595b" stroke-width="1.4"/>
<circle cx="1476.0" cy="1424.1" r="3.9" fill="#b1b3b5" stroke="#58595b" stroke-width="1.4"/>
<circle cx="1483.1" cy="1426.9" r="3.9" fill="#b1b3b5" stroke="#58595b" stroke-width="1.4"/>
<circle cx="1490.3" cy="1430.5" r="3.9" fill="#b1b3b5" stroke="#58595b" stroke-width="1.4"/>
<circle cx="1497.5" cy="1434.0" r="3.9" fill="#b1b3b5" stroke="#58595b" stroke-width="1.4"/>
<circle cx="1504.7" cy="1437.6" r="3.9" fill="#b1b3b5" stroke="#58595b" stroke-width="1.4"/>
<circle cx="1511.9" cy="1440.4" r="3.9" fill="#b1b3b5" stroke="#58595b" stroke-width="1.4"/>
<circle cx="1519.0" cy="1444.0" r="3.9" fill="#b1b3b5" stroke="#58595b" stroke-width="1.4"/>
<circle cx="1526.2" cy="1445.4" r="3.9" fill="#b1b3b5" stroke="#58595b" stroke-width="1.4"/>
<circle cx="1533.4" cy="1448.3" r="3.9" fill="#b1b3b5" stroke="#58595b" stroke-width="1.4"/>
<circle cx="1540.6" cy="1449.7" r="3.9" fill="#b1b3b5" stroke="#58595b" stroke-width="1.4"/>
<circle cx="1547.8" cy="1451.8" r="3.9" fill="#b1b3b5" stroke="#58595b" stroke-width="1.4"/>
<circle cx="1554.9" cy="1454.0" r="3.9" fill="#b1b3b5" stroke="#58595b" stroke-width="1.4"/>
<circle cx="1562.1" cy="1455.4" r="3.9" fill="#b1b3b5" stroke="#58595b" stroke-width="1.4"/>
<circle cx="1569.3" cy="1456.8" r="3.9" fill="#b1b3b5" stroke="#58595b" stroke-width="1.4"/>
<circle cx="1576.5" cy="1458.3" r="3.9" fill="#b1b3b5" stroke="#58595b" stroke-width="1.4"/>
<circle cx="1583.7" cy="1459.0" r="3.9" fill="#b1b3b5" stroke="#58595b" stroke-width="1.4"/>
<circle cx="1590.8" cy="1459.0" r="3.9" fill="#b1b3b5" stroke="#58595b" stroke-width="1.4"/>
<circle cx="1598.0" cy="1457.5" r="3.9" fill="#b1b3b5" stroke="#58595b" stroke-width="1.4"/>
<circle cx="1605.2" cy="1456.8" r="3.9" fill="#b1b3b5" stroke="#58595b" stroke-width="1.4"/>
<circle cx="1612.4" cy="1451.8" r="3.9" fill="#b1b3b5" stroke="#58595b" stroke-width="1.4"/>
<circle cx="1619.6" cy="1448.3" r="3.9" fill="#b1b3b5" stroke="#58595b" stroke-width="1.4"/>
<circle cx="1626.7" cy="1442.6" r="3.9" fill="#b1b3b5" stroke="#58595b" stroke-width="1.4"/>
<circle cx="1633.9" cy="1436.2" r="3.9" fill="#b1b3b5" stroke="#58595b" stroke-width="1.4"/>
<circle cx="1641.1" cy="1429.8" r="3.9" fill="#b1b3b5" stroke="#58595b" stroke-width="1.4"/>
<circle cx="1648.3" cy="1421.2" r="3.9" fill="#b1b3b5" stroke="#58595b" stroke-width="1.4"/>
<circle cx="1655.5" cy="1412.7" r="3.9" fill="#b1b3b5" stroke="#58595b" stroke-width="1.4"/>
<circle cx="1662.6" cy="1406.9" r="3.9" fill="#b1b3b5" stroke="#58595b" stroke-width="1.4"/>
<circle cx="1669.8" cy="1401.2" r="3.9" fill="#b1b3b5" stroke="#58595b" stroke-width="1.4"/>
<circle cx="1677.0" cy="1394.8" r="3.9" fill="#b1b3b5" stroke="#58595b" stroke-width="1.4"/>
<circle cx="1684.2" cy="1389.8" r="3.9" fill="#b1b3b5" stroke="#58595b" stroke-width="1.4"/>
<circle cx="1691.4" cy="1385.6" r="3.9" fill="#b1b3b5" stroke="#58595b" stroke-width="1.4"/>
<circle cx="1698.5" cy="1382.7" r="3.9" fill="#b1b3b5" stroke="#58595b" stroke-width="1.4"/>
<path d="M1375.4,1456.1V1444.7M1371.1,1456.1h8.6M1371.1,1444.7h8.6" stroke="#b8d86c" stroke-width="1.4" fill="none"/>
<path d="M1382.6,1446.1V1437.6M1378.3,1446.1h8.6M1378.3,1437.6h8.6" stroke="#b8d86c" stroke-width="1.4" fill="none"/>
<path d="M1389.8,1434.7V1429.0M1385.5,1434.7h8.6M1385.5,1429.0h8.6" stroke="#b8d86c" stroke-width="1.4" fill="none"/>
<path d="M1461.6,1382.0V1373.5M1457.3,1382.0h8.6M1457.3,1373.5h8.6" stroke="#b8d86c" stroke-width="1.4" fill="none"/>
<path d="M1468.8,1382.7V1361.3M1464.5,1382.7h8.6M1464.5,1361.3h8.6" stroke="#b8d86c" stroke-width="1.4" fill="none"/>
<path d="M1476.0,1388.4V1359.9M1471.7,1388.4h8.6M1471.7,1359.9h8.6" stroke="#b8d86c" stroke-width="1.4" fill="none"/>
<path d="M1483.1,1399.1V1356.4M1478.8,1399.1h8.6M1478.8,1356.4h8.6" stroke="#b8d86c" stroke-width="1.4" fill="none"/>
<path d="M1490.3,1410.5V1360.6M1486.0,1410.5h8.6M1486.0,1360.6h8.6" stroke="#b8d86c" stroke-width="1.4" fill="none"/>
<path d="M1497.5,1409.8V1381.3M1493.2,1409.8h8.6M1493.2,1381.3h8.6" stroke="#b8d86c" stroke-width="1.4" fill="none"/>
<path d="M1504.7,1411.9V1397.7M1500.4,1411.9h8.6M1500.4,1397.7h8.6" stroke="#b8d86c" stroke-width="1.4" fill="none"/>
<path d="M1511.9,1409.1V1390.6M1507.6,1409.1h8.6M1507.6,1390.6h8.6" stroke="#b8d86c" stroke-width="1.4" fill="none"/>
<path d="M1519.0,1403.4V1392.0M1514.7,1403.4h8.6M1514.7,1392.0h8.6" stroke="#b8d86c" stroke-width="1.4" fill="none"/>
<path d="M1526.2,1399.8V1388.4M1521.9,1399.8h8.6M1521.9,1388.4h8.6" stroke="#b8d86c" stroke-width="1.4" fill="none"/>
<path d="M1533.4,1397.7V1386.3M1529.1,1397.7h8.6M1529.1,1386.3h8.6" stroke="#b8d86c" stroke-width="1.4" fill="none"/>
<path d="M1540.6,1397.7V1386.3M1536.3,1397.7h8.6M1536.3,1386.3h8.6" stroke="#b8d86c" stroke-width="1.4" fill="none"/>
<path d="M1547.8,1399.8V1388.4M1543.5,1399.8h8.6M1543.5,1388.4h8.6" stroke="#b8d86c" stroke-width="1.4" fill="none"/>
<path d="M1554.9,1397.7V1386.3M1550.6,1397.7h8.6M1550.6,1386.3h8.6" stroke="#b8d86c" stroke-width="1.4" fill="none"/>
<path d="M1562.1,1397.0V1385.6M1557.8,1397.0h8.6M1557.8,1385.6h8.6" stroke="#b8d86c" stroke-width="1.4" fill="none"/>
<path d="M1569.3,1396.3V1382.0M1565.0,1396.3h8.6M1565.0,1382.0h8.6" stroke="#b8d86c" stroke-width="1.4" fill="none"/>
<path d="M1576.5,1396.3V1379.2M1572.2,1396.3h8.6M1572.2,1379.2h8.6" stroke="#b8d86c" stroke-width="1.4" fill="none"/>
<path d="M1583.7,1401.2V1372.7M1579.4,1401.2h8.6M1579.4,1372.7h8.6" stroke="#b8d86c" stroke-width="1.4" fill="none"/>
<path d="M1590.8,1404.8V1362.1M1586.5,1404.8h8.6M1586.5,1362.1h8.6" stroke="#b8d86c" stroke-width="1.4" fill="none"/>
<path d="M1598.0,1397.7V1362.1M1593.7,1397.7h8.6M1593.7,1362.1h8.6" stroke="#b8d86c" stroke-width="1.4" fill="none"/>
<path d="M1605.2,1399.8V1357.1M1600.9,1399.8h8.6M1600.9,1357.1h8.6" stroke="#b8d86c" stroke-width="1.4" fill="none"/>
<path d="M1612.4,1397.0V1354.2M1608.1,1397.0h8.6M1608.1,1354.2h8.6" stroke="#b8d86c" stroke-width="1.4" fill="none"/>
<path d="M1619.6,1395.5V1357.1M1615.3,1395.5h8.6M1615.3,1357.1h8.6" stroke="#b8d86c" stroke-width="1.4" fill="none"/>
<path d="M1626.7,1390.6V1354.9M1622.4,1390.6h8.6M1622.4,1354.9h8.6" stroke="#b8d86c" stroke-width="1.4" fill="none"/>
<path d="M1633.9,1387.7V1352.1M1629.6,1387.7h8.6M1629.6,1352.1h8.6" stroke="#b8d86c" stroke-width="1.4" fill="none"/>
<path d="M1641.1,1387.0V1351.4M1636.8,1387.0h8.6M1636.8,1351.4h8.6" stroke="#b8d86c" stroke-width="1.4" fill="none"/>
<path d="M1648.3,1387.0V1351.4M1644.0,1387.0h8.6M1644.0,1351.4h8.6" stroke="#b8d86c" stroke-width="1.4" fill="none"/>
<path d="M1655.5,1383.4V1352.1M1651.2,1383.4h8.6M1651.2,1352.1h8.6" stroke="#b8d86c" stroke-width="1.4" fill="none"/>
<path d="M1662.6,1379.9V1358.5M1658.3,1379.9h8.6M1658.3,1358.5h8.6" stroke="#b8d86c" stroke-width="1.4" fill="none"/>
<path d="M1669.8,1377.7V1360.6M1665.5,1377.7h8.6M1665.5,1360.6h8.6" stroke="#b8d86c" stroke-width="1.4" fill="none"/>
<path d="M1677.0,1376.3V1362.1M1672.7,1376.3h8.6M1672.7,1362.1h8.6" stroke="#b8d86c" stroke-width="1.4" fill="none"/>
<path d="M1684.2,1375.6V1364.2M1679.9,1375.6h8.6M1679.9,1364.2h8.6" stroke="#b8d86c" stroke-width="1.4" fill="none"/>
<path d="M1691.4,1369.9V1362.8M1687.1,1369.9h8.6M1687.1,1362.8h8.6" stroke="#b8d86c" stroke-width="1.4" fill="none"/>
<path d="M1698.5,1372.0V1364.9M1694.2,1372.0h8.6M1694.2,1364.9h8.6" stroke="#b8d86c" stroke-width="1.4" fill="none"/>
<circle cx="1353.9" cy="1481.8" r="3.9" fill="#b8d86c" stroke="#58595b" stroke-width="1.4"/>
<circle cx="1361.1" cy="1471.8" r="3.9" fill="#b8d86c" stroke="#58595b" stroke-width="1.4"/>
<circle cx="1368.3" cy="1466.1" r="3.9" fill="#b8d86c" stroke="#58595b" stroke-width="1.4"/>
<circle cx="1375.4" cy="1450.4" r="3.9" fill="#b8d86c" stroke="#58595b" stroke-width="1.4"/>
<circle cx="1382.6" cy="1441.9" r="3.9" fill="#b8d86c" stroke="#58595b" stroke-width="1.4"/>
<circle cx="1389.8" cy="1431.9" r="3.9" fill="#b8d86c" stroke="#58595b" stroke-width="1.4"/>
<circle cx="1397.0" cy="1425.5" r="3.9" fill="#b8d86c" stroke="#58595b" stroke-width="1.4"/>
<circle cx="1404.2" cy="1397.0" r="3.9" fill="#b8d86c" stroke="#58595b" stroke-width="1.4"/>
<circle cx="1411.3" cy="1391.3" r="3.9" fill="#b8d86c" stroke="#58595b" stroke-width="1.4"/>
<circle cx="1418.5" cy="1389.1" r="3.9" fill="#b8d86c" stroke="#58595b" stroke-width="1.4"/>
<circle cx="1425.7" cy="1387.7" r="3.9" fill="#b8d86c" stroke="#58595b" stroke-width="1.4"/>
<circle cx="1432.9" cy="1386.3" r="3.9" fill="#b8d86c" stroke="#58595b" stroke-width="1.4"/>
<circle cx="1440.1" cy="1385.6" r="3.9" fill="#b8d86c" stroke="#58595b" stroke-width="1.4"/>
<circle cx="1447.2" cy="1385.6" r="3.9" fill="#b8d86c" stroke="#58595b" stroke-width="1.4"/>
<circle cx="1454.4" cy="1385.6" r="3.9" fill="#b8d86c" stroke="#58595b" stroke-width="1.4"/>
<circle cx="1461.6" cy="1377.7" r="3.9" fill="#b8d86c" stroke="#58595b" stroke-width="1.4"/>
<circle cx="1468.8" cy="1372.0" r="3.9" fill="#b8d86c" stroke="#58595b" stroke-width="1.4"/>
<circle cx="1476.0" cy="1374.2" r="3.9" fill="#b8d86c" stroke="#58595b" stroke-width="1.4"/>
<circle cx="1483.1" cy="1377.7" r="3.9" fill="#b8d86c" stroke="#58595b" stroke-width="1.4"/>
<circle cx="1490.3" cy="1385.6" r="3.9" fill="#b8d86c" stroke="#58595b" stroke-width="1.4"/>
<circle cx="1497.5" cy="1395.5" r="3.9" fill="#b8d86c" stroke="#58595b" stroke-width="1.4"/>
<circle cx="1504.7" cy="1404.8" r="3.9" fill="#b8d86c" stroke="#58595b" stroke-width="1.4"/>
<circle cx="1511.9" cy="1399.8" r="3.9" fill="#b8d86c" stroke="#58595b" stroke-width="1.4"/>
<circle cx="1519.0" cy="1397.7" r="3.9" fill="#b8d86c" stroke="#58595b" stroke-width="1.4"/>
<circle cx="1526.2" cy="1394.1" r="3.9" fill="#b8d86c" stroke="#58595b" stroke-width="1.4"/>
<circle cx="1533.4" cy="1392.0" r="3.9" fill="#b8d86c" stroke="#58595b" stroke-width="1.4"/>
<circle cx="1540.6" cy="1392.0" r="3.9" fill="#b8d86c" stroke="#58595b" stroke-width="1.4"/>
<circle cx="1547.8" cy="1394.1" r="3.9" fill="#b8d86c" stroke="#58595b" stroke-width="1.4"/>
<circle cx="1554.9" cy="1392.0" r="3.9" fill="#b8d86c" stroke="#58595b" stroke-width="1.4"/>
<circle cx="1562.1" cy="1391.3" r="3.9" fill="#b8d86c" stroke="#58595b" stroke-width="1.4"/>
<circle cx="1569.3" cy="1389.1" r="3.9" fill="#b8d86c" stroke="#58595b" stroke-width="1.4"/>
<circle cx="1576.5" cy="1387.7" r="3.9" fill="#b8d86c" stroke="#58595b" stroke-width="1.4"/>
<circle cx="1583.7" cy="1387.0" r="3.9" fill="#b8d86c" stroke="#58595b" stroke-width="1.4"/>
<circle cx="1590.8" cy="1383.4" r="3.9" fill="#b8d86c" stroke="#58595b" stroke-width="1.4"/>
<circle cx="1598.0" cy="1379.9" r="3.9" fill="#b8d86c" stroke="#58595b" stroke-width="1.4"/>
<circle cx="1605.2" cy="1378.4" r="3.9" fill="#b8d86c" stroke="#58595b" stroke-width="1.4"/>
<circle cx="1612.4" cy="1375.6" r="3.9" fill="#b8d86c" stroke="#58595b" stroke-width="1.4"/>
<circle cx="1619.6" cy="1376.3" r="3.9" fill="#b8d86c" stroke="#58595b" stroke-width="1.4"/>
<circle cx="1626.7" cy="1372.7" r="3.9" fill="#b8d86c" stroke="#58595b" stroke-width="1.4"/>
<circle cx="1633.9" cy="1369.9" r="3.9" fill="#b8d86c" stroke="#58595b" stroke-width="1.4"/>
<circle cx="1641.1" cy="1369.2" r="3.9" fill="#b8d86c" stroke="#58595b" stroke-width="1.4"/>
<circle cx="1648.3" cy="1369.2" r="3.9" fill="#b8d86c" stroke="#58595b" stroke-width="1.4"/>
<circle cx="1655.5" cy="1367.8" r="3.9" fill="#b8d86c" stroke="#58595b" stroke-width="1.4"/>
<circle cx="1662.6" cy="1369.2" r="3.9" fill="#b8d86c" stroke="#58595b" stroke-width="1.4"/>
<circle cx="1669.8" cy="1369.2" r="3.9" fill="#b8d86c" stroke="#58595b" stroke-width="1.4"/>
<circle cx="1677.0" cy="1369.2" r="3.9" fill="#b8d86c" stroke="#58595b" stroke-width="1.4"/>
<circle cx="1684.2" cy="1369.9" r="3.9" fill="#b8d86c" stroke="#58595b" stroke-width="1.4"/>
<circle cx="1691.4" cy="1366.3" r="3.9" fill="#b8d86c" stroke="#58595b" stroke-width="1.4"/>
<circle cx="1698.5" cy="1368.5" r="3.9" fill="#b8d86c" stroke="#58595b" stroke-width="1.4"/>
<rect x="1353.9" y="1285.1" width="381.7" height="249.4" fill="none" stroke="#000" stroke-width="2.7"/>
<path d="M1343.3,1534.5H1353.9M1343.3,1498.9H1353.9M1343.3,1463.2H1353.9M1343.3,1427.6H1353.9M1343.3,1392.0H1353.9M1343.3,1356.4H1353.9M1343.3,1320.7H1353.9M1343.3,1285.1H1353.9M1353.9,1534.5V1545.1M1411.3,1534.5V1545.1M1468.8,1534.5V1545.1M1526.2,1534.5V1545.1M1583.7,1534.5V1545.1M1641.1,1534.5V1545.1M1698.5,1534.5V1545.1" stroke="#000" stroke-width="2.6" fill="none"/>
<circle cx="1412.7" cy="1267.9" r="5.3" fill="#b1b3b5" stroke="#58595b" stroke-width="1.4"/>
<text x="1447.3" y="1272.9" text-anchor="start" style="font-size:18px;fill:#000">WT</text>
<circle cx="1557.2" cy="1267.9" r="5.3" fill="#b8d86c" stroke="#58595b" stroke-width="1.4"/>
<text x="1592.2" y="1272.9" text-anchor="start" style="font-size:18px;fill:#000">50 ng/mL aTc</text>
<line x1="966.5" y1="1858.5" x2="966.5" y2="1609.6" stroke="#bcbec0" stroke-width="2.6" stroke-dasharray="10 5" stroke-dashoffset="3"/>
<line x1="924.4" y1="1641.6" x2="1293.4" y2="1641.6" stroke="#231f20" stroke-width="2.7" stroke-dasharray="8.9 9.9"/>
<path d="M966.5,1752.5V1746.9M962.2,1752.5h8.6M962.2,1746.9h8.6" stroke="#58595b" stroke-width="1.4" fill="none"/>
<path d="M973.7,1748.3V1741.2M969.4,1748.3h8.6M969.4,1741.2h8.6" stroke="#58595b" stroke-width="1.4" fill="none"/>
<path d="M1167.5,1784.5V1778.9M1163.2,1784.5h8.6M1163.2,1778.9h8.6" stroke="#58595b" stroke-width="1.4" fill="none"/>
<path d="M1174.7,1784.5V1777.4M1170.4,1784.5h8.6M1170.4,1777.4h8.6" stroke="#58595b" stroke-width="1.4" fill="none"/>
<path d="M1181.9,1780.3V1771.7M1177.6,1780.3h8.6M1177.6,1771.7h8.6" stroke="#58595b" stroke-width="1.4" fill="none"/>
<path d="M1189.1,1777.4V1767.5M1184.8,1777.4h8.6M1184.8,1767.5h8.6" stroke="#58595b" stroke-width="1.4" fill="none"/>
<path d="M1196.2,1772.5V1761.1M1191.9,1772.5h8.6M1191.9,1761.1h8.6" stroke="#58595b" stroke-width="1.4" fill="none"/>
<path d="M1203.4,1766.8V1754.0M1199.1,1766.8h8.6M1199.1,1754.0h8.6" stroke="#58595b" stroke-width="1.4" fill="none"/>
<path d="M1210.6,1760.4V1747.6M1206.3,1760.4h8.6M1206.3,1747.6h8.6" stroke="#58595b" stroke-width="1.4" fill="none"/>
<path d="M1217.8,1751.8V1739.0M1213.5,1751.8h8.6M1213.5,1739.0h8.6" stroke="#58595b" stroke-width="1.4" fill="none"/>
<path d="M1225.0,1742.6V1731.2M1220.7,1742.6h8.6M1220.7,1731.2h8.6" stroke="#58595b" stroke-width="1.4" fill="none"/>
<path d="M1232.1,1736.9V1725.5M1227.8,1736.9h8.6M1227.8,1725.5h8.6" stroke="#58595b" stroke-width="1.4" fill="none"/>
<path d="M1239.3,1731.2V1719.8M1235.0,1731.2h8.6M1235.0,1719.8h8.6" stroke="#58595b" stroke-width="1.4" fill="none"/>
<path d="M1246.5,1724.1V1714.1M1242.2,1724.1h8.6M1242.2,1714.1h8.6" stroke="#58595b" stroke-width="1.4" fill="none"/>
<path d="M1253.7,1719.1V1709.2M1249.4,1719.1h8.6M1249.4,1709.2h8.6" stroke="#58595b" stroke-width="1.4" fill="none"/>
<path d="M1260.9,1714.8V1704.9M1256.6,1714.8h8.6M1256.6,1704.9h8.6" stroke="#58595b" stroke-width="1.4" fill="none"/>
<path d="M1268.0,1712.0V1702.0M1263.7,1712.0h8.6M1263.7,1702.0h8.6" stroke="#58595b" stroke-width="1.4" fill="none"/>
<circle cx="923.4" cy="1807.3" r="3.9" fill="#b1b3b5" stroke="#58595b" stroke-width="1.4"/>
<circle cx="930.6" cy="1794.5" r="3.9" fill="#b1b3b5" stroke="#58595b" stroke-width="1.4"/>
<circle cx="937.8" cy="1780.3" r="3.9" fill="#b1b3b5" stroke="#58595b" stroke-width="1.4"/>
<circle cx="944.9" cy="1773.2" r="3.9" fill="#b1b3b5" stroke="#58595b" stroke-width="1.4"/>
<circle cx="952.1" cy="1761.8" r="3.9" fill="#b1b3b5" stroke="#58595b" stroke-width="1.4"/>
<circle cx="959.3" cy="1754.7" r="3.9" fill="#b1b3b5" stroke="#58595b" stroke-width="1.4"/>
<circle cx="966.5" cy="1749.7" r="3.9" fill="#b1b3b5" stroke="#58595b" stroke-width="1.4"/>
<circle cx="973.7" cy="1744.7" r="3.9" fill="#b1b3b5" stroke="#58595b" stroke-width="1.4"/>
<circle cx="980.8" cy="1748.3" r="3.9" fill="#b1b3b5" stroke="#58595b" stroke-width="1.4"/>
<circle cx="988.0" cy="1749.0" r="3.9" fill="#b1b3b5" stroke="#58595b" stroke-width="1.4"/>
<circle cx="995.2" cy="1747.6" r="3.9" fill="#b1b3b5" stroke="#58595b" stroke-width="1.4"/>
<circle cx="1002.4" cy="1746.9" r="3.9" fill="#b1b3b5" stroke="#58595b" stroke-width="1.4"/>
<circle cx="1009.6" cy="1746.1" r="3.9" fill="#b1b3b5" stroke="#58595b" stroke-width="1.4"/>
<circle cx="1016.7" cy="1746.1" r="3.9" fill="#b1b3b5" stroke="#58595b" stroke-width="1.4"/>
<circle cx="1023.9" cy="1746.1" r="3.9" fill="#b1b3b5" stroke="#58595b" stroke-width="1.4"/>
<circle cx="1031.1" cy="1746.9" r="3.9" fill="#b1b3b5" stroke="#58595b" stroke-width="1.4"/>
<circle cx="1038.3" cy="1746.9" r="3.9" fill="#b1b3b5" stroke="#58595b" stroke-width="1.4"/>
<circle cx="1045.5" cy="1748.3" r="3.9" fill="#b1b3b5" stroke="#58595b" stroke-width="1.4"/>
<circle cx="1052.6" cy="1751.1" r="3.9" fill="#b1b3b5" stroke="#58595b" stroke-width="1.4"/>
<circle cx="1059.8" cy="1754.7" r="3.9" fill="#b1b3b5" stroke="#58595b" stroke-width="1.4"/>
<circle cx="1067.0" cy="1758.2" r="3.9" fill="#b1b3b5" stroke="#58595b" stroke-width="1.4"/>
<circle cx="1074.2" cy="1761.8" r="3.9" fill="#b1b3b5" stroke="#58595b" stroke-width="1.4"/>
<circle cx="1081.4" cy="1764.6" r="3.9" fill="#b1b3b5" stroke="#58595b" stroke-width="1.4"/>
<circle cx="1088.5" cy="1768.2" r="3.9" fill="#b1b3b5" stroke="#58595b" stroke-width="1.4"/>
<circle cx="1095.7" cy="1769.6" r="3.9" fill="#b1b3b5" stroke="#58595b" stroke-width="1.4"/>
<circle cx="1102.9" cy="1772.5" r="3.9" fill="#b1b3b5" stroke="#58595b" stroke-width="1.4"/>
<circle cx="1110.1" cy="1773.9" r="3.9" fill="#b1b3b5" stroke="#58595b" stroke-width="1.4"/>
<circle cx="1117.3" cy="1776.0" r="3.9" fill="#b1b3b5" stroke="#58595b" stroke-width="1.4"/>
<circle cx="1124.4" cy="1778.1" r="3.9" fill="#b1b3b5" stroke="#58595b" stroke-width="1.4"/>
<circle cx="1131.6" cy="1779.6" r="3.9" fill="#b1b3b5" stroke="#58595b" stroke-width="1.4"/>
<circle cx="1138.8" cy="1781.0" r="3.9" fill="#b1b3b5" stroke="#58595b" stroke-width="1.4"/>
<circle cx="1146.0" cy="1782.4" r="3.9" fill="#b1b3b5" stroke="#58595b" stroke-width="1.4"/>
<circle cx="1153.2" cy="1783.1" r="3.9" fill="#b1b3b5" stroke="#58595b" stroke-width="1.4"/>
<circle cx="1160.3" cy="1783.1" r="3.9" fill="#b1b3b5" stroke="#58595b" stroke-width="1.4"/>
<circle cx="1167.5" cy="1781.7" r="3.9" fill="#b1b3b5" stroke="#58595b" stroke-width="1.4"/>
<circle cx="1174.7" cy="1781.0" r="3.9" fill="#b1b3b5" stroke="#58595b" stroke-width="1.4"/>
<circle cx="1181.9" cy="1776.0" r="3.9" fill="#b1b3b5" stroke="#58595b" stroke-width="1.4"/>
<circle cx="1189.1" cy="1772.5" r="3.9" fill="#b1b3b5" stroke="#58595b" stroke-width="1.4"/>
<circle cx="1196.2" cy="1766.8" r="3.9" fill="#b1b3b5" stroke="#58595b" stroke-width="1.4"/>
<circle cx="1203.4" cy="1760.4" r="3.9" fill="#b1b3b5" stroke="#58595b" stroke-width="1.4"/>
<circle cx="1210.6" cy="1754.0" r="3.9" fill="#b1b3b5" stroke="#58595b" stroke-width="1.4"/>
<circle cx="1217.8" cy="1745.4" r="3.9" fill="#b1b3b5" stroke="#58595b" stroke-width="1.4"/>
<circle cx="1225.0" cy="1736.9" r="3.9" fill="#b1b3b5" stroke="#58595b" stroke-width="1.4"/>
<circle cx="1232.1" cy="1731.2" r="3.9" fill="#b1b3b5" stroke="#58595b" stroke-width="1.4"/>
<circle cx="1239.3" cy="1725.5" r="3.9" fill="#b1b3b5" stroke="#58595b" stroke-width="1.4"/>
<circle cx="1246.5" cy="1719.1" r="3.9" fill="#b1b3b5" stroke="#58595b" stroke-width="1.4"/>
<circle cx="1253.7" cy="1714.1" r="3.9" fill="#b1b3b5" stroke="#58595b" stroke-width="1.4"/>
<circle cx="1260.9" cy="1709.9" r="3.9" fill="#b1b3b5" stroke="#58595b" stroke-width="1.4"/>
<circle cx="1268.0" cy="1707.0" r="3.9" fill="#b1b3b5" stroke="#58595b" stroke-width="1.4"/>
<path d="M944.9,1784.5V1777.4M940.6,1784.5h8.6M940.6,1777.4h8.6" stroke="#ebcb6d" stroke-width="1.4" fill="none"/>
<path d="M952.1,1771.7V1763.2M947.8,1771.7h8.6M947.8,1763.2h8.6" stroke="#ebcb6d" stroke-width="1.4" fill="none"/>
<path d="M959.3,1761.8V1754.7M955.0,1761.8h8.6M955.0,1754.7h8.6" stroke="#ebcb6d" stroke-width="1.4" fill="none"/>
<path d="M966.5,1753.3V1746.1M962.2,1753.3h8.6M962.2,1746.1h8.6" stroke="#ebcb6d" stroke-width="1.4" fill="none"/>
<path d="M973.7,1726.9V1721.2M969.4,1726.9h8.6M969.4,1721.2h8.6" stroke="#ebcb6d" stroke-width="1.4" fill="none"/>
<path d="M1031.1,1709.9V1702.8M1026.8,1709.9h8.6M1026.8,1702.8h8.6" stroke="#ebcb6d" stroke-width="1.4" fill="none"/>
<path d="M1038.3,1710.6V1699.2M1034.0,1710.6h8.6M1034.0,1699.2h8.6" stroke="#ebcb6d" stroke-width="1.4" fill="none"/>
<path d="M1045.5,1705.6V1691.4M1041.2,1705.6h8.6M1041.2,1691.4h8.6" stroke="#ebcb6d" stroke-width="1.4" fill="none"/>
<path d="M1052.6,1687.8V1677.9M1048.3,1687.8h8.6M1048.3,1677.9h8.6" stroke="#ebcb6d" stroke-width="1.4" fill="none"/>
<path d="M1059.8,1710.6V1686.4M1055.5,1710.6h8.6M1055.5,1686.4h8.6" stroke="#ebcb6d" stroke-width="1.4" fill="none"/>
<path d="M1067.0,1712.7V1691.4M1062.7,1712.7h8.6M1062.7,1691.4h8.6" stroke="#ebcb6d" stroke-width="1.4" fill="none"/>
<path d="M1074.2,1709.2V1666.5M1069.9,1709.2h8.6M1069.9,1666.5h8.6" stroke="#ebcb6d" stroke-width="1.4" fill="none"/>
<path d="M1081.4,1680.0V1658.7M1077.1,1680.0h8.6M1077.1,1658.7h8.6" stroke="#ebcb6d" stroke-width="1.4" fill="none"/>
<path d="M1088.5,1682.1V1662.2M1084.2,1682.1h8.6M1084.2,1662.2h8.6" stroke="#ebcb6d" stroke-width="1.4" fill="none"/>
<path d="M1095.7,1718.4V1680.0M1091.4,1718.4h8.6M1091.4,1680.0h8.6" stroke="#ebcb6d" stroke-width="1.4" fill="none"/>
<path d="M1102.9,1711.3V1702.8M1098.6,1711.3h8.6M1098.6,1702.8h8.6" stroke="#ebcb6d" stroke-width="1.4" fill="none"/>
<path d="M1110.1,1708.4V1699.9M1105.8,1708.4h8.6M1105.8,1699.9h8.6" stroke="#ebcb6d" stroke-width="1.4" fill="none"/>
<path d="M1246.5,1697.8V1686.4M1242.2,1697.8h8.6M1242.2,1686.4h8.6" stroke="#ebcb6d" stroke-width="1.4" fill="none"/>
<path d="M1253.7,1694.2V1680.0M1249.4,1694.2h8.6M1249.4,1680.0h8.6" stroke="#ebcb6d" stroke-width="1.4" fill="none"/>
<path d="M1260.9,1690.0V1675.7M1256.6,1690.0h8.6M1256.6,1675.7h8.6" stroke="#ebcb6d" stroke-width="1.4" fill="none"/>
<path d="M1268.0,1685.0V1670.8M1263.7,1685.0h8.6M1263.7,1670.8h8.6" stroke="#ebcb6d" stroke-width="1.4" fill="none"/>
<circle cx="923.4" cy="1807.3" r="3.9" fill="#ebcb6d" stroke="#58595b" stroke-width="1.4"/>
<circle cx="930.6" cy="1799.5" r="3.9" fill="#ebcb6d" stroke="#58595b" stroke-width="1.4"/>
<circle cx="937.8" cy="1790.9" r="3.9" fill="#ebcb6d" stroke="#58595b" stroke-width="1.4"/>
<circle cx="944.9" cy="1781.0" r="3.9" fill="#ebcb6d" stroke="#58595b" stroke-width="1.4"/>
<circle cx="952.1" cy="1767.5" r="3.9" fill="#ebcb6d" stroke="#58595b" stroke-width="1.4"/>
<circle cx="959.3" cy="1758.2" r="3.9" fill="#ebcb6d" stroke="#58595b" stroke-width="1.4"/>
<circle cx="966.5" cy="1749.7" r="3.9" fill="#ebcb6d" stroke="#58595b" stroke-width="1.4"/>
<circle cx="973.7" cy="1724.1" r="3.9" fill="#ebcb6d" stroke="#58595b" stroke-width="1.4"/>
<circle cx="980.8" cy="1718.4" r="3.9" fill="#ebcb6d" stroke="#58595b" stroke-width="1.4"/>
<circle cx="988.0" cy="1714.8" r="3.9" fill="#ebcb6d" stroke="#58595b" stroke-width="1.4"/>
<circle cx="995.2" cy="1713.4" r="3.9" fill="#ebcb6d" stroke="#58595b" stroke-width="1.4"/>
<circle cx="1002.4" cy="1711.3" r="3.9" fill="#ebcb6d" stroke="#58595b" stroke-width="1.4"/>
<circle cx="1009.6" cy="1709.9" r="3.9" fill="#ebcb6d" stroke="#58595b" stroke-width="1.4"/>
<circle cx="1016.7" cy="1708.4" r="3.9" fill="#ebcb6d" stroke="#58595b" stroke-width="1.4"/>
<circle cx="1023.9" cy="1707.0" r="3.9" fill="#ebcb6d" stroke="#58595b" stroke-width="1.4"/>
<circle cx="1031.1" cy="1706.3" r="3.9" fill="#ebcb6d" stroke="#58595b" stroke-width="1.4"/>
<circle cx="1038.3" cy="1704.9" r="3.9" fill="#ebcb6d" stroke="#58595b" stroke-width="1.4"/>
<circle cx="1045.5" cy="1698.5" r="3.9" fill="#ebcb6d" stroke="#58595b" stroke-width="1.4"/>
<circle cx="1052.6" cy="1682.8" r="3.9" fill="#ebcb6d" stroke="#58595b" stroke-width="1.4"/>
<circle cx="1059.8" cy="1698.5" r="3.9" fill="#ebcb6d" stroke="#58595b" stroke-width="1.4"/>
<circle cx="1067.0" cy="1702.0" r="3.9" fill="#ebcb6d" stroke="#58595b" stroke-width="1.4"/>
<circle cx="1074.2" cy="1687.8" r="3.9" fill="#ebcb6d" stroke="#58595b" stroke-width="1.4"/>
<circle cx="1081.4" cy="1669.3" r="3.9" fill="#ebcb6d" stroke="#58595b" stroke-width="1.4"/>
<circle cx="1088.5" cy="1672.2" r="3.9" fill="#ebcb6d" stroke="#58595b" stroke-width="1.4"/>
<circle cx="1095.7" cy="1699.2" r="3.9" fill="#ebcb6d" stroke="#58595b" stroke-width="1.4"/>
<circle cx="1102.9" cy="1707.0" r="3.9" fill="#ebcb6d" stroke="#58595b" stroke-width="1.4"/>
<circle cx="1110.1" cy="1704.2" r="3.9" fill="#ebcb6d" stroke="#58595b" stroke-width="1.4"/>
<circle cx="1117.3" cy="1699.9" r="3.9" fill="#ebcb6d" stroke="#58595b" stroke-width="1.4"/>
<circle cx="1124.4" cy="1697.8" r="3.9" fill="#ebcb6d" stroke="#58595b" stroke-width="1.4"/>
<circle cx="1131.6" cy="1696.4" r="3.9" fill="#ebcb6d" stroke="#58595b" stroke-width="1.4"/>
<circle cx="1138.8" cy="1696.4" r="3.9" fill="#ebcb6d" stroke="#58595b" stroke-width="1.4"/>
<circle cx="1146.0" cy="1696.4" r="3.9" fill="#ebcb6d" stroke="#58595b" stroke-width="1.4"/>
<circle cx="1153.2" cy="1696.4" r="3.9" fill="#ebcb6d" stroke="#58595b" stroke-width="1.4"/>
<circle cx="1160.3" cy="1696.4" r="3.9" fill="#ebcb6d" stroke="#58595b" stroke-width="1.4"/>
<circle cx="1167.5" cy="1696.4" r="3.9" fill="#ebcb6d" stroke="#58595b" stroke-width="1.4"/>
<circle cx="1174.7" cy="1696.4" r="3.9" fill="#ebcb6d" stroke="#58595b" stroke-width="1.4"/>
<circle cx="1181.9" cy="1696.4" r="3.9" fill="#ebcb6d" stroke="#58595b" stroke-width="1.4"/>
<circle cx="1189.1" cy="1696.4" r="3.9" fill="#ebcb6d" stroke="#58595b" stroke-width="1.4"/>
<circle cx="1196.2" cy="1696.4" r="3.9" fill="#ebcb6d" stroke="#58595b" stroke-width="1.4"/>
<circle cx="1203.4" cy="1696.4" r="3.9" fill="#ebcb6d" stroke="#58595b" stroke-width="1.4"/>
<circle cx="1210.6" cy="1696.4" r="3.9" fill="#ebcb6d" stroke="#58595b" stroke-width="1.4"/>
<circle cx="1217.8" cy="1696.4" r="3.9" fill="#ebcb6d" stroke="#58595b" stroke-width="1.4"/>
<circle cx="1225.0" cy="1696.4" r="3.9" fill="#ebcb6d" stroke="#58595b" stroke-width="1.4"/>
<circle cx="1232.1" cy="1695.6" r="3.9" fill="#ebcb6d" stroke="#58595b" stroke-width="1.4"/>
<circle cx="1239.3" cy="1694.2" r="3.9" fill="#ebcb6d" stroke="#58595b" stroke-width="1.4"/>
<circle cx="1246.5" cy="1692.1" r="3.9" fill="#ebcb6d" stroke="#58595b" stroke-width="1.4"/>
<circle cx="1253.7" cy="1687.1" r="3.9" fill="#ebcb6d" stroke="#58595b" stroke-width="1.4"/>
<circle cx="1260.9" cy="1682.8" r="3.9" fill="#ebcb6d" stroke="#58595b" stroke-width="1.4"/>
<circle cx="1268.0" cy="1677.9" r="3.9" fill="#ebcb6d" stroke="#58595b" stroke-width="1.4"/>
<rect x="923.4" y="1609.6" width="382.0" height="248.9" fill="none" stroke="#000" stroke-width="2.7"/>
<path d="M912.8,1858.5H923.4M912.8,1822.9H923.4M912.8,1787.4H923.4M912.8,1751.8H923.4M912.8,1716.3H923.4M912.8,1680.7H923.4M912.8,1645.2H923.4M912.8,1609.6H923.4M923.4,1858.5V1869.1M980.8,1858.5V1869.1M1038.3,1858.5V1869.1M1095.7,1858.5V1869.1M1153.2,1858.5V1869.1M1210.6,1858.5V1869.1M1268.0,1858.5V1869.1" stroke="#000" stroke-width="2.6" fill="none"/>
<text x="904.2" y="1867.1" text-anchor="end" style="font-size:22.4px;fill:#000">0.0</text>
<text x="904.2" y="1831.5" text-anchor="end" style="font-size:22.4px;fill:#000">0.5</text>
<text x="904.2" y="1796.0" text-anchor="end" style="font-size:22.4px;fill:#000">1.0</text>
<text x="904.2" y="1760.4" text-anchor="end" style="font-size:22.4px;fill:#000">1.5</text>
<text x="904.2" y="1724.9" text-anchor="end" style="font-size:22.4px;fill:#000">2.0</text>
<text x="904.2" y="1689.3" text-anchor="end" style="font-size:22.4px;fill:#000">2.5</text>
<text x="904.2" y="1653.8" text-anchor="end" style="font-size:22.4px;fill:#000">3.0</text>
<text x="904.2" y="1618.2" text-anchor="end" style="font-size:22.4px;fill:#000">3.5</text>
<text x="923.4" y="1898.2" text-anchor="middle" style="font-size:21.5px;fill:#000">0</text>
<text x="980.8" y="1898.2" text-anchor="middle" style="font-size:21.5px;fill:#000">4</text>
<text x="1038.3" y="1898.2" text-anchor="middle" style="font-size:21.5px;fill:#000">8</text>
<text x="1095.7" y="1898.2" text-anchor="middle" style="font-size:21.5px;fill:#000">12</text>
<text x="1153.2" y="1898.2" text-anchor="middle" style="font-size:21.5px;fill:#000">16</text>
<text x="1210.6" y="1898.2" text-anchor="middle" style="font-size:21.5px;fill:#000">20</text>
<text x="1268.0" y="1898.2" text-anchor="middle" style="font-size:21.5px;fill:#000">24</text>
<circle cx="982.2" cy="1592.1" r="5.3" fill="#b1b3b5" stroke="#58595b" stroke-width="1.4"/>
<text x="1016.8" y="1597.1" text-anchor="start" style="font-size:18px;fill:#000">WT</text>
<circle cx="1126.7" cy="1592.1" r="5.3" fill="#ebcb6d" stroke="#58595b" stroke-width="1.4"/>
<text x="1161.7" y="1597.1" text-anchor="start" style="font-size:18px;fill:#000">500 ng/mL aTc</text>
<line x1="1397.0" y1="1858.5" x2="1397.0" y2="1609.6" stroke="#bcbec0" stroke-width="2.6" stroke-dasharray="10 5" stroke-dashoffset="3"/>
<line x1="1354.9" y1="1641.6" x2="1723.9" y2="1641.6" stroke="#231f20" stroke-width="2.7" stroke-dasharray="8.9 9.9"/>
<path d="M1397.0,1752.5V1746.9M1392.7,1752.5h8.6M1392.7,1746.9h8.6" stroke="#58595b" stroke-width="1.4" fill="none"/>
<path d="M1404.2,1748.3V1741.2M1399.9,1748.3h8.6M1399.9,1741.2h8.6" stroke="#58595b" stroke-width="1.4" fill="none"/>
<path d="M1598.0,1784.5V1778.9M1593.7,1784.5h8.6M1593.7,1778.9h8.6" stroke="#58595b" stroke-width="1.4" fill="none"/>
<path d="M1605.2,1784.5V1777.4M1600.9,1784.5h8.6M1600.9,1777.4h8.6" stroke="#58595b" stroke-width="1.4" fill="none"/>
<path d="M1612.4,1780.3V1771.7M1608.1,1780.3h8.6M1608.1,1771.7h8.6" stroke="#58595b" stroke-width="1.4" fill="none"/>
<path d="M1619.6,1777.4V1767.5M1615.3,1777.4h8.6M1615.3,1767.5h8.6" stroke="#58595b" stroke-width="1.4" fill="none"/>
<path d="M1626.7,1772.5V1761.1M1622.4,1772.5h8.6M1622.4,1761.1h8.6" stroke="#58595b" stroke-width="1.4" fill="none"/>
<path d="M1633.9,1766.8V1754.0M1629.6,1766.8h8.6M1629.6,1754.0h8.6" stroke="#58595b" stroke-width="1.4" fill="none"/>
<path d="M1641.1,1760.4V1747.6M1636.8,1760.4h8.6M1636.8,1747.6h8.6" stroke="#58595b" stroke-width="1.4" fill="none"/>
<path d="M1648.3,1751.8V1739.0M1644.0,1751.8h8.6M1644.0,1739.0h8.6" stroke="#58595b" stroke-width="1.4" fill="none"/>
<path d="M1655.5,1742.6V1731.2M1651.2,1742.6h8.6M1651.2,1731.2h8.6" stroke="#58595b" stroke-width="1.4" fill="none"/>
<path d="M1662.6,1736.9V1725.5M1658.3,1736.9h8.6M1658.3,1725.5h8.6" stroke="#58595b" stroke-width="1.4" fill="none"/>
<path d="M1669.8,1731.2V1719.8M1665.5,1731.2h8.6M1665.5,1719.8h8.6" stroke="#58595b" stroke-width="1.4" fill="none"/>
<path d="M1677.0,1724.1V1714.1M1672.7,1724.1h8.6M1672.7,1714.1h8.6" stroke="#58595b" stroke-width="1.4" fill="none"/>
<path d="M1684.2,1719.1V1709.2M1679.9,1719.1h8.6M1679.9,1709.2h8.6" stroke="#58595b" stroke-width="1.4" fill="none"/>
<path d="M1691.4,1714.8V1704.9M1687.1,1714.8h8.6M1687.1,1704.9h8.6" stroke="#58595b" stroke-width="1.4" fill="none"/>
<path d="M1698.5,1712.0V1702.0M1694.2,1712.0h8.6M1694.2,1702.0h8.6" stroke="#58595b" stroke-width="1.4" fill="none"/>
<circle cx="1353.9" cy="1807.3" r="3.9" fill="#b1b3b5" stroke="#58595b" stroke-width="1.4"/>
<circle cx="1361.1" cy="1794.5" r="3.9" fill="#b1b3b5" stroke="#58595b" stroke-width="1.4"/>
<circle cx="1368.3" cy="1780.3" r="3.9" fill="#b1b3b5" stroke="#58595b" stroke-width="1.4"/>
<circle cx="1375.4" cy="1773.2" r="3.9" fill="#b1b3b5" stroke="#58595b" stroke-width="1.4"/>
<circle cx="1382.6" cy="1761.8" r="3.9" fill="#b1b3b5" stroke="#58595b" stroke-width="1.4"/>
<circle cx="1389.8" cy="1754.7" r="3.9" fill="#b1b3b5" stroke="#58595b" stroke-width="1.4"/>
<circle cx="1397.0" cy="1749.7" r="3.9" fill="#b1b3b5" stroke="#58595b" stroke-width="1.4"/>
<circle cx="1404.2" cy="1744.7" r="3.9" fill="#b1b3b5" stroke="#58595b" stroke-width="1.4"/>
<circle cx="1411.3" cy="1748.3" r="3.9" fill="#b1b3b5" stroke="#58595b" stroke-width="1.4"/>
<circle cx="1418.5" cy="1749.0" r="3.9" fill="#b1b3b5" stroke="#58595b" stroke-width="1.4"/>
<circle cx="1425.7" cy="1747.6" r="3.9" fill="#b1b3b5" stroke="#58595b" stroke-width="1.4"/>
<circle cx="1432.9" cy="1746.9" r="3.9" fill="#b1b3b5" stroke="#58595b" stroke-width="1.4"/>
<circle cx="1440.1" cy="1746.1" r="3.9" fill="#b1b3b5" stroke="#58595b" stroke-width="1.4"/>
<circle cx="1447.2" cy="1746.1" r="3.9" fill="#b1b3b5" stroke="#58595b" stroke-width="1.4"/>
<circle cx="1454.4" cy="1746.1" r="3.9" fill="#b1b3b5" stroke="#58595b" stroke-width="1.4"/>
<circle cx="1461.6" cy="1746.9" r="3.9" fill="#b1b3b5" stroke="#58595b" stroke-width="1.4"/>
<circle cx="1468.8" cy="1746.9" r="3.9" fill="#b1b3b5" stroke="#58595b" stroke-width="1.4"/>
<circle cx="1476.0" cy="1748.3" r="3.9" fill="#b1b3b5" stroke="#58595b" stroke-width="1.4"/>
<circle cx="1483.1" cy="1751.1" r="3.9" fill="#b1b3b5" stroke="#58595b" stroke-width="1.4"/>
<circle cx="1490.3" cy="1754.7" r="3.9" fill="#b1b3b5" stroke="#58595b" stroke-width="1.4"/>
<circle cx="1497.5" cy="1758.2" r="3.9" fill="#b1b3b5" stroke="#58595b" stroke-width="1.4"/>
<circle cx="1504.7" cy="1761.8" r="3.9" fill="#b1b3b5" stroke="#58595b" stroke-width="1.4"/>
<circle cx="1511.9" cy="1764.6" r="3.9" fill="#b1b3b5" stroke="#58595b" stroke-width="1.4"/>
<circle cx="1519.0" cy="1768.2" r="3.9" fill="#b1b3b5" stroke="#58595b" stroke-width="1.4"/>
<circle cx="1526.2" cy="1769.6" r="3.9" fill="#b1b3b5" stroke="#58595b" stroke-width="1.4"/>
<circle cx="1533.4" cy="1772.5" r="3.9" fill="#b1b3b5" stroke="#58595b" stroke-width="1.4"/>
<circle cx="1540.6" cy="1773.9" r="3.9" fill="#b1b3b5" stroke="#58595b" stroke-width="1.4"/>
<circle cx="1547.8" cy="1776.0" r="3.9" fill="#b1b3b5" stroke="#58595b" stroke-width="1.4"/>
<circle cx="1554.9" cy="1778.1" r="3.9" fill="#b1b3b5" stroke="#58595b" stroke-width="1.4"/>
<circle cx="1562.1" cy="1779.6" r="3.9" fill="#b1b3b5" stroke="#58595b" stroke-width="1.4"/>
<circle cx="1569.3" cy="1781.0" r="3.9" fill="#b1b3b5" stroke="#58595b" stroke-width="1.4"/>
<circle cx="1576.5" cy="1782.4" r="3.9" fill="#b1b3b5" stroke="#58595b" stroke-width="1.4"/>
<circle cx="1583.7" cy="1783.1" r="3.9" fill="#b1b3b5" stroke="#58595b" stroke-width="1.4"/>
<circle cx="1590.8" cy="1783.1" r="3.9" fill="#b1b3b5" stroke="#58595b" stroke-width="1.4"/>
<circle cx="1598.0" cy="1781.7" r="3.9" fill="#b1b3b5" stroke="#58595b" stroke-width="1.4"/>
<circle cx="1605.2" cy="1781.0" r="3.9" fill="#b1b3b5" stroke="#58595b" stroke-width="1.4"/>
<circle cx="1612.4" cy="1776.0" r="3.9" fill="#b1b3b5" stroke="#58595b" stroke-width="1.4"/>
<circle cx="1619.6" cy="1772.5" r="3.9" fill="#b1b3b5" stroke="#58595b" stroke-width="1.4"/>
<circle cx="1626.7" cy="1766.8" r="3.9" fill="#b1b3b5" stroke="#58595b" stroke-width="1.4"/>
<circle cx="1633.9" cy="1760.4" r="3.9" fill="#b1b3b5" stroke="#58595b" stroke-width="1.4"/>
<circle cx="1641.1" cy="1754.0" r="3.9" fill="#b1b3b5" stroke="#58595b" stroke-width="1.4"/>
<circle cx="1648.3" cy="1745.4" r="3.9" fill="#b1b3b5" stroke="#58595b" stroke-width="1.4"/>
<circle cx="1655.5" cy="1736.9" r="3.9" fill="#b1b3b5" stroke="#58595b" stroke-width="1.4"/>
<circle cx="1662.6" cy="1731.2" r="3.9" fill="#b1b3b5" stroke="#58595b" stroke-width="1.4"/>
<circle cx="1669.8" cy="1725.5" r="3.9" fill="#b1b3b5" stroke="#58595b" stroke-width="1.4"/>
<circle cx="1677.0" cy="1719.1" r="3.9" fill="#b1b3b5" stroke="#58595b" stroke-width="1.4"/>
<circle cx="1684.2" cy="1714.1" r="3.9" fill="#b1b3b5" stroke="#58595b" stroke-width="1.4"/>
<circle cx="1691.4" cy="1709.9" r="3.9" fill="#b1b3b5" stroke="#58595b" stroke-width="1.4"/>
<circle cx="1698.5" cy="1707.0" r="3.9" fill="#b1b3b5" stroke="#58595b" stroke-width="1.4"/>
<path d="M1361.1,1810.1V1804.5M1356.8,1810.1h8.6M1356.8,1804.5h8.6" stroke="#dedb94" stroke-width="1.4" fill="none"/>
<path d="M1368.3,1810.1V1804.5M1364.0,1810.1h8.6M1364.0,1804.5h8.6" stroke="#dedb94" stroke-width="1.4" fill="none"/>
<path d="M1375.4,1800.9V1786.7M1371.1,1800.9h8.6M1371.1,1786.7h8.6" stroke="#dedb94" stroke-width="1.4" fill="none"/>
<path d="M1382.6,1786.7V1772.5M1378.3,1786.7h8.6M1378.3,1772.5h8.6" stroke="#dedb94" stroke-width="1.4" fill="none"/>
<path d="M1389.8,1773.9V1762.5M1385.5,1773.9h8.6M1385.5,1762.5h8.6" stroke="#dedb94" stroke-width="1.4" fill="none"/>
<path d="M1397.0,1768.2V1754.0M1392.7,1768.2h8.6M1392.7,1754.0h8.6" stroke="#dedb94" stroke-width="1.4" fill="none"/>
<path d="M1404.2,1746.9V1728.4M1399.9,1746.9h8.6M1399.9,1728.4h8.6" stroke="#dedb94" stroke-width="1.4" fill="none"/>
<path d="M1411.3,1743.3V1729.1M1407.0,1743.3h8.6M1407.0,1729.1h8.6" stroke="#dedb94" stroke-width="1.4" fill="none"/>
<path d="M1418.5,1738.3V1724.1M1414.2,1738.3h8.6M1414.2,1724.1h8.6" stroke="#dedb94" stroke-width="1.4" fill="none"/>
<path d="M1425.7,1734.0V1719.8M1421.4,1734.0h8.6M1421.4,1719.8h8.6" stroke="#dedb94" stroke-width="1.4" fill="none"/>
<path d="M1432.9,1730.5V1716.3M1428.6,1730.5h8.6M1428.6,1716.3h8.6" stroke="#dedb94" stroke-width="1.4" fill="none"/>
<path d="M1440.1,1731.2V1717.0M1435.8,1731.2h8.6M1435.8,1717.0h8.6" stroke="#dedb94" stroke-width="1.4" fill="none"/>
<path d="M1447.2,1729.8V1715.6M1442.9,1729.8h8.6M1442.9,1715.6h8.6" stroke="#dedb94" stroke-width="1.4" fill="none"/>
<path d="M1454.4,1729.1V1714.8M1450.1,1729.1h8.6M1450.1,1714.8h8.6" stroke="#dedb94" stroke-width="1.4" fill="none"/>
<path d="M1461.6,1727.6V1713.4M1457.3,1727.6h8.6M1457.3,1713.4h8.6" stroke="#dedb94" stroke-width="1.4" fill="none"/>
<path d="M1468.8,1726.2V1712.0M1464.5,1726.2h8.6M1464.5,1712.0h8.6" stroke="#dedb94" stroke-width="1.4" fill="none"/>
<path d="M1476.0,1721.2V1698.5M1471.7,1721.2h8.6M1471.7,1698.5h8.6" stroke="#dedb94" stroke-width="1.4" fill="none"/>
<path d="M1483.1,1713.4V1685.0M1478.8,1713.4h8.6M1478.8,1685.0h8.6" stroke="#dedb94" stroke-width="1.4" fill="none"/>
<path d="M1490.3,1715.6V1677.2M1486.0,1715.6h8.6M1486.0,1677.2h8.6" stroke="#dedb94" stroke-width="1.4" fill="none"/>
<path d="M1497.5,1714.1V1685.7M1493.2,1714.1h8.6M1493.2,1685.7h8.6" stroke="#dedb94" stroke-width="1.4" fill="none"/>
<path d="M1504.7,1718.4V1687.1M1500.4,1718.4h8.6M1500.4,1687.1h8.6" stroke="#dedb94" stroke-width="1.4" fill="none"/>
<path d="M1511.9,1702.8V1677.2M1507.6,1702.8h8.6M1507.6,1677.2h8.6" stroke="#dedb94" stroke-width="1.4" fill="none"/>
<path d="M1519.0,1687.8V1667.9M1514.7,1687.8h8.6M1514.7,1667.9h8.6" stroke="#dedb94" stroke-width="1.4" fill="none"/>
<path d="M1526.2,1684.3V1667.2M1521.9,1684.3h8.6M1521.9,1667.2h8.6" stroke="#dedb94" stroke-width="1.4" fill="none"/>
<path d="M1533.4,1702.0V1687.8M1529.1,1702.0h8.6M1529.1,1687.8h8.6" stroke="#dedb94" stroke-width="1.4" fill="none"/>
<path d="M1540.6,1721.2V1707.0M1536.3,1721.2h8.6M1536.3,1707.0h8.6" stroke="#dedb94" stroke-width="1.4" fill="none"/>
<path d="M1547.8,1718.4V1704.2M1543.5,1718.4h8.6M1543.5,1704.2h8.6" stroke="#dedb94" stroke-width="1.4" fill="none"/>
<path d="M1554.9,1712.0V1703.5M1550.6,1712.0h8.6M1550.6,1703.5h8.6" stroke="#dedb94" stroke-width="1.4" fill="none"/>
<path d="M1562.1,1709.2V1702.0M1557.8,1709.2h8.6M1557.8,1702.0h8.6" stroke="#dedb94" stroke-width="1.4" fill="none"/>
<path d="M1569.3,1708.4V1701.3M1565.0,1708.4h8.6M1565.0,1701.3h8.6" stroke="#dedb94" stroke-width="1.4" fill="none"/>
<path d="M1576.5,1707.7V1700.6M1572.2,1707.7h8.6M1572.2,1700.6h8.6" stroke="#dedb94" stroke-width="1.4" fill="none"/>
<path d="M1583.7,1707.0V1699.9M1579.4,1707.0h8.6M1579.4,1699.9h8.6" stroke="#dedb94" stroke-width="1.4" fill="none"/>
<path d="M1590.8,1707.0V1699.9M1586.5,1707.0h8.6M1586.5,1699.9h8.6" stroke="#dedb94" stroke-width="1.4" fill="none"/>
<path d="M1598.0,1707.0V1699.9M1593.7,1707.0h8.6M1593.7,1699.9h8.6" stroke="#dedb94" stroke-width="1.4" fill="none"/>
<path d="M1605.2,1707.7V1700.6M1600.9,1707.7h8.6M1600.9,1700.6h8.6" stroke="#dedb94" stroke-width="1.4" fill="none"/>
<path d="M1612.4,1707.7V1700.6M1608.1,1707.7h8.6M1608.1,1700.6h8.6" stroke="#dedb94" stroke-width="1.4" fill="none"/>
<path d="M1619.6,1708.4V1701.3M1615.3,1708.4h8.6M1615.3,1701.3h8.6" stroke="#dedb94" stroke-width="1.4" fill="none"/>
<path d="M1626.7,1708.4V1701.3M1622.4,1708.4h8.6M1622.4,1701.3h8.6" stroke="#dedb94" stroke-width="1.4" fill="none"/>
<path d="M1633.9,1709.2V1702.0M1629.6,1709.2h8.6M1629.6,1702.0h8.6" stroke="#dedb94" stroke-width="1.4" fill="none"/>
<path d="M1641.1,1709.2V1702.0M1636.8,1709.2h8.6M1636.8,1702.0h8.6" stroke="#dedb94" stroke-width="1.4" fill="none"/>
<path d="M1648.3,1708.4V1701.3M1644.0,1708.4h8.6M1644.0,1701.3h8.6" stroke="#dedb94" stroke-width="1.4" fill="none"/>
<path d="M1655.5,1708.4V1701.3M1651.2,1708.4h8.6M1651.2,1701.3h8.6" stroke="#dedb94" stroke-width="1.4" fill="none"/>
<path d="M1662.6,1707.7V1700.6M1658.3,1707.7h8.6M1658.3,1700.6h8.6" stroke="#dedb94" stroke-width="1.4" fill="none"/>
<path d="M1669.8,1707.7V1700.6M1665.5,1707.7h8.6M1665.5,1700.6h8.6" stroke="#dedb94" stroke-width="1.4" fill="none"/>
<path d="M1677.0,1707.0V1699.9M1672.7,1707.0h8.6M1672.7,1699.9h8.6" stroke="#dedb94" stroke-width="1.4" fill="none"/>
<path d="M1684.2,1706.3V1699.2M1679.9,1706.3h8.6M1679.9,1699.2h8.6" stroke="#dedb94" stroke-width="1.4" fill="none"/>
<path d="M1691.4,1705.6V1698.5M1687.1,1705.6h8.6M1687.1,1698.5h8.6" stroke="#dedb94" stroke-width="1.4" fill="none"/>
<path d="M1698.5,1704.9V1697.8M1694.2,1704.9h8.6M1694.2,1697.8h8.6" stroke="#dedb94" stroke-width="1.4" fill="none"/>
<circle cx="1353.9" cy="1808.0" r="3.9" fill="#dedb94" stroke="#58595b" stroke-width="1.4"/>
<circle cx="1361.1" cy="1807.3" r="3.9" fill="#dedb94" stroke="#58595b" stroke-width="1.4"/>
<circle cx="1368.3" cy="1807.3" r="3.9" fill="#dedb94" stroke="#58595b" stroke-width="1.4"/>
<circle cx="1375.4" cy="1793.8" r="3.9" fill="#dedb94" stroke="#58595b" stroke-width="1.4"/>
<circle cx="1382.6" cy="1779.6" r="3.9" fill="#dedb94" stroke="#58595b" stroke-width="1.4"/>
<circle cx="1389.8" cy="1768.2" r="3.9" fill="#dedb94" stroke="#58595b" stroke-width="1.4"/>
<circle cx="1397.0" cy="1761.1" r="3.9" fill="#dedb94" stroke="#58595b" stroke-width="1.4"/>
<circle cx="1404.2" cy="1737.6" r="3.9" fill="#dedb94" stroke="#58595b" stroke-width="1.4"/>
<circle cx="1411.3" cy="1736.2" r="3.9" fill="#dedb94" stroke="#58595b" stroke-width="1.4"/>
<circle cx="1418.5" cy="1731.2" r="3.9" fill="#dedb94" stroke="#58595b" stroke-width="1.4"/>
<circle cx="1425.7" cy="1726.9" r="3.9" fill="#dedb94" stroke="#58595b" stroke-width="1.4"/>
<circle cx="1432.9" cy="1723.4" r="3.9" fill="#dedb94" stroke="#58595b" stroke-width="1.4"/>
<circle cx="1440.1" cy="1724.1" r="3.9" fill="#dedb94" stroke="#58595b" stroke-width="1.4"/>
<circle cx="1447.2" cy="1722.7" r="3.9" fill="#dedb94" stroke="#58595b" stroke-width="1.4"/>
<circle cx="1454.4" cy="1722.0" r="3.9" fill="#dedb94" stroke="#58595b" stroke-width="1.4"/>
<circle cx="1461.6" cy="1720.5" r="3.9" fill="#dedb94" stroke="#58595b" stroke-width="1.4"/>
<circle cx="1468.8" cy="1719.1" r="3.9" fill="#dedb94" stroke="#58595b" stroke-width="1.4"/>
<circle cx="1476.0" cy="1709.9" r="3.9" fill="#dedb94" stroke="#58595b" stroke-width="1.4"/>
<circle cx="1483.1" cy="1699.2" r="3.9" fill="#dedb94" stroke="#58595b" stroke-width="1.4"/>
<circle cx="1490.3" cy="1696.4" r="3.9" fill="#dedb94" stroke="#58595b" stroke-width="1.4"/>
<circle cx="1497.5" cy="1699.9" r="3.9" fill="#dedb94" stroke="#58595b" stroke-width="1.4"/>
<circle cx="1504.7" cy="1702.8" r="3.9" fill="#dedb94" stroke="#58595b" stroke-width="1.4"/>
<circle cx="1511.9" cy="1690.0" r="3.9" fill="#dedb94" stroke="#58595b" stroke-width="1.4"/>
<circle cx="1519.0" cy="1677.9" r="3.9" fill="#dedb94" stroke="#58595b" stroke-width="1.4"/>
<circle cx="1526.2" cy="1675.7" r="3.9" fill="#dedb94" stroke="#58595b" stroke-width="1.4"/>
<circle cx="1533.4" cy="1694.9" r="3.9" fill="#dedb94" stroke="#58595b" stroke-width="1.4"/>
<circle cx="1540.6" cy="1714.1" r="3.9" fill="#dedb94" stroke="#58595b" stroke-width="1.4"/>
<circle cx="1547.8" cy="1711.3" r="3.9" fill="#dedb94" stroke="#58595b" stroke-width="1.4"/>
<circle cx="1554.9" cy="1707.7" r="3.9" fill="#dedb94" stroke="#58595b" stroke-width="1.4"/>
<circle cx="1562.1" cy="1705.6" r="3.9" fill="#dedb94" stroke="#58595b" stroke-width="1.4"/>
<circle cx="1569.3" cy="1704.9" r="3.9" fill="#dedb94" stroke="#58595b" stroke-width="1.4"/>
<circle cx="1576.5" cy="1704.2" r="3.9" fill="#dedb94" stroke="#58595b" stroke-width="1.4"/>
<circle cx="1583.7" cy="1703.5" r="3.9" fill="#dedb94" stroke="#58595b" stroke-width="1.4"/>
<circle cx="1590.8" cy="1703.5" r="3.9" fill="#dedb94" stroke="#58595b" stroke-width="1.4"/>
<circle cx="1598.0" cy="1703.5" r="3.9" fill="#dedb94" stroke="#58595b" stroke-width="1.4"/>
<circle cx="1605.2" cy="1704.2" r="3.9" fill="#dedb94" stroke="#58595b" stroke-width="1.4"/>
<circle cx="1612.4" cy="1704.2" r="3.9" fill="#dedb94" stroke="#58595b" stroke-width="1.4"/>
<circle cx="1619.6" cy="1704.9" r="3.9" fill="#dedb94" stroke="#58595b" stroke-width="1.4"/>
<circle cx="1626.7" cy="1704.9" r="3.9" fill="#dedb94" stroke="#58595b" stroke-width="1.4"/>
<circle cx="1633.9" cy="1705.6" r="3.9" fill="#dedb94" stroke="#58595b" stroke-width="1.4"/>
<circle cx="1641.1" cy="1705.6" r="3.9" fill="#dedb94" stroke="#58595b" stroke-width="1.4"/>
<circle cx="1648.3" cy="1704.9" r="3.9" fill="#dedb94" stroke="#58595b" stroke-width="1.4"/>
<circle cx="1655.5" cy="1704.9" r="3.9" fill="#dedb94" stroke="#58595b" stroke-width="1.4"/>
<circle cx="1662.6" cy="1704.2" r="3.9" fill="#dedb94" stroke="#58595b" stroke-width="1.4"/>
<circle cx="1669.8" cy="1704.2" r="3.9" fill="#dedb94" stroke="#58595b" stroke-width="1.4"/>
<circle cx="1677.0" cy="1703.5" r="3.9" fill="#dedb94" stroke="#58595b" stroke-width="1.4"/>
<circle cx="1684.2" cy="1702.8" r="3.9" fill="#dedb94" stroke="#58595b" stroke-width="1.4"/>
<circle cx="1691.4" cy="1702.0" r="3.9" fill="#dedb94" stroke="#58595b" stroke-width="1.4"/>
<circle cx="1698.5" cy="1701.3" r="3.9" fill="#dedb94" stroke="#58595b" stroke-width="1.4"/>
<rect x="1353.9" y="1609.6" width="381.7" height="248.9" fill="none" stroke="#000" stroke-width="2.7"/>
<path d="M1343.3,1858.5H1353.9M1343.3,1822.9H1353.9M1343.3,1787.4H1353.9M1343.3,1751.8H1353.9M1343.3,1716.3H1353.9M1343.3,1680.7H1353.9M1343.3,1645.2H1353.9M1343.3,1609.6H1353.9M1353.9,1858.5V1869.1M1411.3,1858.5V1869.1M1468.8,1858.5V1869.1M1526.2,1858.5V1869.1M1583.7,1858.5V1869.1M1641.1,1858.5V1869.1M1698.5,1858.5V1869.1" stroke="#000" stroke-width="2.6" fill="none"/>
<text x="1353.9" y="1898.2" text-anchor="middle" style="font-size:21.5px;fill:#000">0</text>
<text x="1411.3" y="1898.2" text-anchor="middle" style="font-size:21.5px;fill:#000">4</text>
<text x="1468.8" y="1898.2" text-anchor="middle" style="font-size:21.5px;fill:#000">8</text>
<text x="1526.2" y="1898.2" text-anchor="middle" style="font-size:21.5px;fill:#000">12</text>
<text x="1583.7" y="1898.2" text-anchor="middle" style="font-size:21.5px;fill:#000">16</text>
<text x="1641.1" y="1898.2" text-anchor="middle" style="font-size:21.5px;fill:#000">20</text>
<text x="1698.5" y="1898.2" text-anchor="middle" style="font-size:21.5px;fill:#000">24</text>
<circle cx="1412.7" cy="1592.1" r="5.3" fill="#b1b3b5" stroke="#58595b" stroke-width="1.4"/>
<text x="1447.3" y="1597.1" text-anchor="start" style="font-size:18px;fill:#000">WT</text>
<circle cx="1557.2" cy="1592.1" r="5.3" fill="#dedb94" stroke="#58595b" stroke-width="1.4"/>
<text x="1592.2" y="1597.1" text-anchor="start" style="font-size:18px;fill:#000">1000 ng/mL aTc</text>
<text x="1304.1" y="1943.0" text-anchor="middle" style="font-size:24px;fill:#000">Time after induction (h)</text>
<text transform="translate(839.2,1572) rotate(-90)" text-anchor="middle" style="font-size:24px">Measure OD<tspan dy="6" style="font-size:15px">600</tspan><tspan dy="-6"> (AU)</tspan></text>
<polyline points="139.9,2255.5 191.7,2192.2 243.4,2192.2 295.2,2191.6 450.5,2221.3" fill="none" stroke="#a9abae" stroke-width="3" stroke-linejoin="round"/>
<polyline points="139.9,2253.6 191.7,2202.6 243.4,2183.2 295.2,2165.1 450.5,2147.6" fill="none" stroke="#bccbe4" stroke-width="3" stroke-linejoin="round"/>
<polyline points="139.9,2257.5 191.7,2187.7 243.4,2222.6 295.2,2199.3 450.5,2172.2" fill="none" stroke="#c67fbb" stroke-width="3" stroke-linejoin="round"/>
<polyline points="139.9,2258.8 191.7,2184.5 243.4,2229.0 295.2,2201.3 450.5,2161.2" fill="none" stroke="#8f82c2" stroke-width="3" stroke-linejoin="round"/>
<polyline points="139.9,2265.2 191.7,2183.8 243.4,2210.3 295.2,2194.8 450.5,2156.7" fill="none" stroke="#6fb0e3" stroke-width="3" stroke-linejoin="round"/>
<polyline points="139.9,2234.2 191.7,2292.4 243.4,2326.6 295.2,2337.6 450.5,2363.4" fill="none" stroke="#f4a6b2" stroke-width="3" stroke-linejoin="round"/>
<path d="M191.7,2195.5V2189.0M186.7,2195.5h10M186.7,2189.0h10" stroke="#a9abae" stroke-width="2" fill="none"/>
<path d="M243.4,2195.5V2189.0M238.4,2195.5h10M238.4,2189.0h10" stroke="#a9abae" stroke-width="2" fill="none"/>
<path d="M295.2,2194.2V2189.0M290.2,2194.2h10M290.2,2189.0h10" stroke="#a9abae" stroke-width="2" fill="none"/>
<path d="M450.5,2224.5V2218.1M445.5,2224.5h10M445.5,2218.1h10" stroke="#a9abae" stroke-width="2" fill="none"/>
<circle cx="139.9" cy="2255.5" r="4.6" fill="#a7a9ac" stroke="#000" stroke-width="2.3"/>
<circle cx="191.7" cy="2192.2" r="4.6" fill="#a7a9ac" stroke="#000" stroke-width="2.3"/>
<circle cx="243.4" cy="2192.2" r="4.6" fill="#a7a9ac" stroke="#000" stroke-width="2.3"/>
<circle cx="295.2" cy="2191.6" r="4.6" fill="#a7a9ac" stroke="#000" stroke-width="2.3"/>
<circle cx="450.5" cy="2221.3" r="4.6" fill="#a7a9ac" stroke="#000" stroke-width="2.3"/>
<path d="M191.7,2215.5V2189.6M186.7,2215.5h10M186.7,2189.6h10" stroke="#bccbe4" stroke-width="2" fill="none"/>
<path d="M450.5,2150.9V2144.4M445.5,2150.9h10M445.5,2144.4h10" stroke="#bccbe4" stroke-width="2" fill="none"/>
<circle cx="139.9" cy="2253.6" r="4.6" fill="#c0d0ea" stroke="#000" stroke-width="2.3"/>
<circle cx="191.7" cy="2202.6" r="4.6" fill="#c0d0ea" stroke="#000" stroke-width="2.3"/>
<circle cx="243.4" cy="2183.2" r="4.6" fill="#c0d0ea" stroke="#000" stroke-width="2.3"/>
<circle cx="295.2" cy="2165.1" r="4.6" fill="#c0d0ea" stroke="#000" stroke-width="2.3"/>
<circle cx="450.5" cy="2147.6" r="4.6" fill="#c0d0ea" stroke="#000" stroke-width="2.3"/>
<path d="M191.7,2190.9V2184.5M186.7,2190.9h10M186.7,2184.5h10" stroke="#c67fbb" stroke-width="2" fill="none"/>
<path d="M243.4,2225.2V2220.0M238.4,2225.2h10M238.4,2220.0h10" stroke="#c67fbb" stroke-width="2" fill="none"/>
<path d="M450.5,2177.4V2167.0M445.5,2177.4h10M445.5,2167.0h10" stroke="#c67fbb" stroke-width="2" fill="none"/>
<circle cx="139.9" cy="2257.5" r="4.6" fill="#c87dbd" stroke="#000" stroke-width="2.3"/>
<circle cx="191.7" cy="2187.7" r="4.6" fill="#c87dbd" stroke="#000" stroke-width="2.3"/>
<circle cx="243.4" cy="2222.6" r="4.6" fill="#c87dbd" stroke="#000" stroke-width="2.3"/>
<circle cx="295.2" cy="2199.3" r="4.6" fill="#c87dbd" stroke="#000" stroke-width="2.3"/>
<circle cx="450.5" cy="2172.2" r="4.6" fill="#c87dbd" stroke="#000" stroke-width="2.3"/>
<path d="M191.7,2187.7V2181.2M186.7,2187.7h10M186.7,2181.2h10" stroke="#8f82c2" stroke-width="2" fill="none"/>
<path d="M450.5,2163.8V2158.6M445.5,2163.8h10M445.5,2158.6h10" stroke="#8f82c2" stroke-width="2" fill="none"/>
<circle cx="139.9" cy="2258.8" r="4.6" fill="#8f82c2" stroke="#000" stroke-width="2.3"/>
<circle cx="191.7" cy="2184.5" r="4.6" fill="#8f82c2" stroke="#000" stroke-width="2.3"/>
<circle cx="243.4" cy="2229.0" r="4.6" fill="#8f82c2" stroke="#000" stroke-width="2.3"/>
<circle cx="295.2" cy="2201.3" r="4.6" fill="#8f82c2" stroke="#000" stroke-width="2.3"/>
<circle cx="450.5" cy="2161.2" r="4.6" fill="#8f82c2" stroke="#000" stroke-width="2.3"/>
<path d="M191.7,2187.1V2180.6M186.7,2187.1h10M186.7,2180.6h10" stroke="#6fb0e3" stroke-width="2" fill="none"/>
<path d="M243.4,2212.9V2207.7M238.4,2212.9h10M238.4,2207.7h10" stroke="#6fb0e3" stroke-width="2" fill="none"/>
<path d="M295.2,2197.4V2192.2M290.2,2197.4h10M290.2,2192.2h10" stroke="#6fb0e3" stroke-width="2" fill="none"/>
<path d="M450.5,2159.3V2154.1M445.5,2159.3h10M445.5,2154.1h10" stroke="#6fb0e3" stroke-width="2" fill="none"/>
<circle cx="139.9" cy="2265.2" r="4.6" fill="#6fb0e3" stroke="#000" stroke-width="2.3"/>
<circle cx="191.7" cy="2183.8" r="4.6" fill="#6fb0e3" stroke="#000" stroke-width="2.3"/>
<circle cx="243.4" cy="2210.3" r="4.6" fill="#6fb0e3" stroke="#000" stroke-width="2.3"/>
<circle cx="295.2" cy="2194.8" r="4.6" fill="#6fb0e3" stroke="#000" stroke-width="2.3"/>
<circle cx="450.5" cy="2156.7" r="4.6" fill="#6fb0e3" stroke="#000" stroke-width="2.3"/>
<path d="M243.4,2329.2V2324.0M238.4,2329.2h10M238.4,2324.0h10" stroke="#f4a6b2" stroke-width="2" fill="none"/>
<path d="M450.5,2369.9V2357.0M445.5,2369.9h10M445.5,2357.0h10" stroke="#f4a6b2" stroke-width="2" fill="none"/>
<circle cx="139.9" cy="2234.2" r="4.6" fill="#f4a6b2" stroke="#000" stroke-width="2.3"/>
<circle cx="191.7" cy="2292.4" r="4.6" fill="#f4a6b2" stroke="#000" stroke-width="2.3"/>
<circle cx="243.4" cy="2326.6" r="4.6" fill="#f4a6b2" stroke="#000" stroke-width="2.3"/>
<circle cx="295.2" cy="2337.6" r="4.6" fill="#f4a6b2" stroke="#000" stroke-width="2.3"/>
<circle cx="450.5" cy="2363.4" r="4.6" fill="#f4a6b2" stroke="#000" stroke-width="2.3"/>
<path d="M139.9,2089.3V2413.8H462.6" stroke="#000" stroke-width="2.7" fill="none"/>
<path d="M126.9,2413.8H139.9M126.9,2349.2H139.9M126.9,2284.6H139.9M126.9,2220.0H139.9M126.9,2155.4H139.9M126.9,2090.8H139.9M139.9,2413.8V2427.8M191.7,2413.8V2427.8M243.4,2413.8V2427.8M295.2,2413.8V2427.8M346.9,2413.8V2427.8M398.7,2413.8V2427.8M450.5,2413.8V2427.8" stroke="#000" stroke-width="2.8" fill="none"/>
<path d="M132.2,2394.4H139.9M132.2,2383.0H139.9M132.2,2374.9H139.9M132.2,2368.6H139.9M132.2,2363.5H139.9M132.2,2359.2H139.9M132.2,2355.5H139.9M132.2,2352.2H139.9M132.2,2329.8H139.9M132.2,2318.4H139.9M132.2,2310.3H139.9M132.2,2304.0H139.9M132.2,2298.9H139.9M132.2,2294.6H139.9M132.2,2290.9H139.9M132.2,2287.6H139.9M132.2,2265.2H139.9M132.2,2253.8H139.9M132.2,2245.7H139.9M132.2,2239.4H139.9M132.2,2234.3H139.9M132.2,2230.0H139.9M132.2,2226.3H139.9M132.2,2223.0H139.9M132.2,2200.6H139.9M132.2,2189.2H139.9M132.2,2181.1H139.9M132.2,2174.8H139.9M132.2,2169.7H139.9M132.2,2165.4H139.9M132.2,2161.7H139.9M132.2,2158.4H139.9M132.2,2136.0H139.9M132.2,2124.6H139.9M132.2,2116.5H139.9M132.2,2110.2H139.9M132.2,2105.1H139.9M132.2,2100.8H139.9M132.2,2097.1H139.9M132.2,2093.8H139.9" stroke="#000" stroke-width="2.4" fill="none"/>
<text x="109.4" y="2421.3" text-anchor="end" style="font-size:21.8px">10<tspan dx="1.5" dy="-7" style="font-size:13px">7</tspan></text>
<text x="109.4" y="2356.7" text-anchor="end" style="font-size:21.8px">10<tspan dx="1.5" dy="-7" style="font-size:13px">8</tspan></text>
<text x="109.4" y="2292.1" text-anchor="end" style="font-size:21.8px">10<tspan dx="1.5" dy="-7" style="font-size:13px">9</tspan></text>
<text x="109.4" y="2227.5" text-anchor="end" style="font-size:21.8px">10<tspan dx="1.5" dy="-7" style="font-size:13px">10</tspan></text>
<text x="109.4" y="2162.9" text-anchor="end" style="font-size:21.8px">10<tspan dx="1.5" dy="-7" style="font-size:13px">11</tspan></text>
<text x="109.4" y="2098.3" text-anchor="end" style="font-size:21.8px">10<tspan dx="1.5" dy="-7" style="font-size:13px">12</tspan></text>
<text x="137.4" y="2452.3" text-anchor="middle" style="font-size:22.2px;fill:#000">0</text>
<text x="189.2" y="2452.3" text-anchor="middle" style="font-size:22.2px;fill:#000">4</text>
<text x="240.9" y="2452.3" text-anchor="middle" style="font-size:22.2px;fill:#000">8</text>
<text x="292.7" y="2452.3" text-anchor="middle" style="font-size:22.2px;fill:#000">12</text>
<text x="344.4" y="2452.3" text-anchor="middle" style="font-size:22.2px;fill:#000">16</text>
<text x="396.2" y="2452.3" text-anchor="middle" style="font-size:22.2px;fill:#000">20</text>
<text x="448.0" y="2452.3" text-anchor="middle" style="font-size:22.2px;fill:#000">24</text>
<text x="295.0" y="2481.2" text-anchor="middle" style="font-size:21px;fill:#000">Time after induction (h)</text>
<text transform="translate(55.9,2258.6) rotate(-90)" text-anchor="middle" style="font-size:20.8px">Colony-forming unit per mL (CFU/mL)</text>
<line x1="133.8" y1="2014.8" x2="170.2" y2="2014.8" stroke="#f4a6b2" stroke-width="2.8"/>
<circle cx="152.1" cy="2014.8" r="4.6" fill="#f4a6b2" stroke="#000" stroke-width="2.3"/>
<text x="179.8" y="2020.6" text-anchor="start" style="font-size:16.5px;fill:#000">WT</text>
<line x1="306.5" y1="2014.8" x2="342.9" y2="2014.8" stroke="#a9abae" stroke-width="2.8"/>
<circle cx="324.8" cy="2014.8" r="4.6" fill="#a7a9ac" stroke="#000" stroke-width="2.3"/>
<text x="352.5" y="2020.6" text-anchor="start" style="font-size:16.5px;fill:#000">MBP</text>
<line x1="133.8" y1="2042.4" x2="170.2" y2="2042.4" stroke="#bccbe4" stroke-width="2.8"/>
<circle cx="152.1" cy="2042.4" r="4.6" fill="#c0d0ea" stroke="#000" stroke-width="2.3"/>
<text x="179.8" y="2048.2" text-anchor="start" style="font-size:16.5px;fill:#000">0 μM IPTG</text>
<line x1="306.5" y1="2042.4" x2="342.9" y2="2042.4" stroke="#6fb0e3" stroke-width="2.8"/>
<circle cx="324.8" cy="2042.4" r="4.6" fill="#6fb0e3" stroke="#000" stroke-width="2.3"/>
<text x="352.5" y="2048.2" text-anchor="start" style="font-size:16.5px;fill:#000">20 μM IPTG</text>
<line x1="133.8" y1="2069.5" x2="170.2" y2="2069.5" stroke="#c67fbb" stroke-width="2.8"/>
<circle cx="152.1" cy="2069.5" r="4.6" fill="#c87dbd" stroke="#000" stroke-width="2.3"/>
<text x="179.8" y="2075.3" text-anchor="start" style="font-size:16.5px;fill:#000">200 μM IPTG</text>
<line x1="306.5" y1="2069.5" x2="342.9" y2="2069.5" stroke="#8f82c2" stroke-width="2.8"/>
<circle cx="324.8" cy="2069.5" r="4.6" fill="#8f82c2" stroke="#000" stroke-width="2.3"/>
<text x="352.5" y="2075.3" text-anchor="start" style="font-size:16.5px;fill:#000">400 μM IPTG</text>
<polyline points="678.6,2208.2 730.4,2142.7 782.1,2135.4 833.9,2133.8 989.2,2171.8" fill="none" stroke="#a9abae" stroke-width="3" stroke-linejoin="round"/>
<polyline points="678.6,2226.9 730.4,2138.6 782.1,2150.8 833.9,2123.3 989.2,2116.8" fill="none" stroke="#dcd99a" stroke-width="3" stroke-linejoin="round"/>
<polyline points="678.6,2205.0 730.4,2126.5 782.1,2141.9 833.9,2133.0 989.2,2137.8" fill="none" stroke="#ebcf79" stroke-width="3" stroke-linejoin="round"/>
<polyline points="678.6,2211.5 730.4,2122.5 782.1,2191.2 833.9,2167.0 989.2,2137.8" fill="none" stroke="#bcd977" stroke-width="3" stroke-linejoin="round"/>
<polyline points="678.6,2215.5 730.4,2122.5 782.1,2281.9 833.9,2242.2 989.2,2125.7" fill="none" stroke="#84c99a" stroke-width="3" stroke-linejoin="round"/>
<polyline points="678.6,2188.8 730.4,2261.7 782.1,2304.5 833.9,2318.3 989.2,2350.7" fill="none" stroke="#f4a6b2" stroke-width="3" stroke-linejoin="round"/>
<path d="M730.4,2145.9V2139.4M725.4,2145.9h10M725.4,2139.4h10" stroke="#a9abae" stroke-width="2" fill="none"/>
<path d="M782.1,2139.4V2131.4M777.1,2139.4h10M777.1,2131.4h10" stroke="#a9abae" stroke-width="2" fill="none"/>
<path d="M833.9,2137.8V2129.7M828.9,2137.8h10M828.9,2129.7h10" stroke="#a9abae" stroke-width="2" fill="none"/>
<path d="M989.2,2175.9V2167.8M984.2,2175.9h10M984.2,2167.8h10" stroke="#a9abae" stroke-width="2" fill="none"/>
<circle cx="678.6" cy="2208.2" r="4.6" fill="#a7a9ac" stroke="#000" stroke-width="2.3"/>
<circle cx="730.4" cy="2142.7" r="4.6" fill="#a7a9ac" stroke="#000" stroke-width="2.3"/>
<circle cx="782.1" cy="2135.4" r="4.6" fill="#a7a9ac" stroke="#000" stroke-width="2.3"/>
<circle cx="833.9" cy="2133.8" r="4.6" fill="#a7a9ac" stroke="#000" stroke-width="2.3"/>
<circle cx="989.2" cy="2171.8" r="4.6" fill="#a7a9ac" stroke="#000" stroke-width="2.3"/>
<path d="M678.6,2231.7V2222.0M673.6,2231.7h10M673.6,2222.0h10" stroke="#dcd99a" stroke-width="2" fill="none"/>
<path d="M730.4,2141.9V2135.4M725.4,2141.9h10M725.4,2135.4h10" stroke="#dcd99a" stroke-width="2" fill="none"/>
<path d="M782.1,2154.8V2146.7M777.1,2154.8h10M777.1,2146.7h10" stroke="#dcd99a" stroke-width="2" fill="none"/>
<path d="M833.9,2126.5V2120.0M828.9,2126.5h10M828.9,2120.0h10" stroke="#dcd99a" stroke-width="2" fill="none"/>
<path d="M989.2,2120.8V2112.7M984.2,2120.8h10M984.2,2112.7h10" stroke="#dcd99a" stroke-width="2" fill="none"/>
<circle cx="678.6" cy="2226.9" r="4.6" fill="#dedb98" stroke="#000" stroke-width="2.3"/>
<circle cx="730.4" cy="2138.6" r="4.6" fill="#dedb98" stroke="#000" stroke-width="2.3"/>
<circle cx="782.1" cy="2150.8" r="4.6" fill="#dedb98" stroke="#000" stroke-width="2.3"/>
<circle cx="833.9" cy="2123.3" r="4.6" fill="#dedb98" stroke="#000" stroke-width="2.3"/>
<circle cx="989.2" cy="2116.8" r="4.6" fill="#dedb98" stroke="#000" stroke-width="2.3"/>
<path d="M678.6,2209.0V2201.0M673.6,2209.0h10M673.6,2201.0h10" stroke="#ebcf79" stroke-width="2" fill="none"/>
<path d="M730.4,2129.7V2123.3M725.4,2129.7h10M725.4,2123.3h10" stroke="#ebcf79" stroke-width="2" fill="none"/>
<path d="M782.1,2146.7V2137.0M777.1,2146.7h10M777.1,2137.0h10" stroke="#ebcf79" stroke-width="2" fill="none"/>
<path d="M833.9,2139.4V2126.5M828.9,2139.4h10M828.9,2126.5h10" stroke="#ebcf79" stroke-width="2" fill="none"/>
<path d="M989.2,2144.3V2131.4M984.2,2144.3h10M984.2,2131.4h10" stroke="#ebcf79" stroke-width="2" fill="none"/>
<circle cx="678.6" cy="2205.0" r="4.6" fill="#ebcd73" stroke="#000" stroke-width="2.3"/>
<circle cx="730.4" cy="2126.5" r="4.6" fill="#ebcd73" stroke="#000" stroke-width="2.3"/>
<circle cx="782.1" cy="2141.9" r="4.6" fill="#ebcd73" stroke="#000" stroke-width="2.3"/>
<circle cx="833.9" cy="2133.0" r="4.6" fill="#ebcd73" stroke="#000" stroke-width="2.3"/>
<circle cx="989.2" cy="2137.8" r="4.6" fill="#ebcd73" stroke="#000" stroke-width="2.3"/>
<path d="M730.4,2125.7V2119.2M725.4,2125.7h10M725.4,2119.2h10" stroke="#bcd977" stroke-width="2" fill="none"/>
<path d="M782.1,2194.5V2188.0M777.1,2194.5h10M777.1,2188.0h10" stroke="#bcd977" stroke-width="2" fill="none"/>
<path d="M833.9,2177.5V2156.4M828.9,2177.5h10M828.9,2156.4h10" stroke="#bcd977" stroke-width="2" fill="none"/>
<path d="M989.2,2141.9V2133.8M984.2,2141.9h10M984.2,2133.8h10" stroke="#bcd977" stroke-width="2" fill="none"/>
<circle cx="678.6" cy="2211.5" r="4.6" fill="#bddb75" stroke="#000" stroke-width="2.3"/>
<circle cx="730.4" cy="2122.5" r="4.6" fill="#bddb75" stroke="#000" stroke-width="2.3"/>
<circle cx="782.1" cy="2191.2" r="4.6" fill="#bddb75" stroke="#000" stroke-width="2.3"/>
<circle cx="833.9" cy="2167.0" r="4.6" fill="#bddb75" stroke="#000" stroke-width="2.3"/>
<circle cx="989.2" cy="2137.8" r="4.6" fill="#bddb75" stroke="#000" stroke-width="2.3"/>
<path d="M782.1,2306.2V2257.6M777.1,2306.2h10M777.1,2257.6h10" stroke="#84c99a" stroke-width="2" fill="none"/>
<path d="M833.9,2252.7V2231.7M828.9,2252.7h10M828.9,2231.7h10" stroke="#84c99a" stroke-width="2" fill="none"/>
<path d="M989.2,2145.9V2105.5M984.2,2145.9h10M984.2,2105.5h10" stroke="#84c99a" stroke-width="2" fill="none"/>
<circle cx="678.6" cy="2215.5" r="4.6" fill="#80c896" stroke="#000" stroke-width="2.3"/>
<circle cx="730.4" cy="2122.5" r="4.6" fill="#80c896" stroke="#000" stroke-width="2.3"/>
<circle cx="782.1" cy="2281.9" r="4.6" fill="#80c896" stroke="#000" stroke-width="2.3"/>
<circle cx="833.9" cy="2242.2" r="4.6" fill="#80c896" stroke="#000" stroke-width="2.3"/>
<circle cx="989.2" cy="2125.7" r="4.6" fill="#80c896" stroke="#000" stroke-width="2.3"/>
<path d="M782.1,2307.8V2301.3M777.1,2307.8h10M777.1,2301.3h10" stroke="#f4a6b2" stroke-width="2" fill="none"/>
<path d="M989.2,2358.8V2342.6M984.2,2358.8h10M984.2,2342.6h10" stroke="#f4a6b2" stroke-width="2" fill="none"/>
<circle cx="678.6" cy="2188.8" r="4.6" fill="#f4a6b2" stroke="#000" stroke-width="2.3"/>
<circle cx="730.4" cy="2261.7" r="4.6" fill="#f4a6b2" stroke="#000" stroke-width="2.3"/>
<circle cx="782.1" cy="2304.5" r="4.6" fill="#f4a6b2" stroke="#000" stroke-width="2.3"/>
<circle cx="833.9" cy="2318.3" r="4.6" fill="#f4a6b2" stroke="#000" stroke-width="2.3"/>
<circle cx="989.2" cy="2350.7" r="4.6" fill="#f4a6b2" stroke="#000" stroke-width="2.3"/>
<path d="M678.6,2088.6V2413.8H1001.6" stroke="#000" stroke-width="2.7" fill="none"/>
<path d="M665.6,2413.8H678.6M665.6,2332.9H678.6M665.6,2251.9H678.6M665.6,2171.0H678.6M665.6,2090.1H678.6M678.6,2413.8V2427.8M730.4,2413.8V2427.8M782.1,2413.8V2427.8M833.9,2413.8V2427.8M885.6,2413.8V2427.8M937.4,2413.8V2427.8M989.2,2413.8V2427.8" stroke="#000" stroke-width="2.8" fill="none"/>
<path d="M670.9,2389.4H678.6M670.9,2375.2H678.6M670.9,2365.1H678.6M670.9,2357.2H678.6M670.9,2350.8H678.6M670.9,2345.4H678.6M670.9,2340.7H678.6M670.9,2336.6H678.6M670.9,2308.5H678.6M670.9,2294.3H678.6M670.9,2284.1H678.6M670.9,2276.3H678.6M670.9,2269.9H678.6M670.9,2264.5H678.6M670.9,2259.8H678.6M670.9,2255.6H678.6M670.9,2227.6H678.6M670.9,2213.3H678.6M670.9,2203.2H678.6M670.9,2195.4H678.6M670.9,2189.0H678.6M670.9,2183.5H678.6M670.9,2178.9H678.6M670.9,2174.7H678.6M670.9,2146.6H678.6M670.9,2132.4H678.6M670.9,2122.3H678.6M670.9,2114.4H678.6M670.9,2108.0H678.6M670.9,2102.6H678.6M670.9,2097.9H678.6M670.9,2093.8H678.6" stroke="#000" stroke-width="2.4" fill="none"/>
<text x="650.7" y="2421.3" text-anchor="end" style="font-size:21.8px">10<tspan dx="1.5" dy="-7" style="font-size:13px">7</tspan></text>
<text x="650.7" y="2340.4" text-anchor="end" style="font-size:21.8px">10<tspan dx="1.5" dy="-7" style="font-size:13px">8</tspan></text>
<text x="650.7" y="2259.4" text-anchor="end" style="font-size:21.8px">10<tspan dx="1.5" dy="-7" style="font-size:13px">9</tspan></text>
<text x="650.7" y="2178.5" text-anchor="end" style="font-size:21.8px">10<tspan dx="1.5" dy="-7" style="font-size:13px">10</tspan></text>
<text x="650.7" y="2097.6" text-anchor="end" style="font-size:21.8px">10<tspan dx="1.5" dy="-7" style="font-size:13px">11</tspan></text>
<text x="676.1" y="2452.3" text-anchor="middle" style="font-size:22.2px;fill:#000">0</text>
<text x="727.9" y="2452.3" text-anchor="middle" style="font-size:22.2px;fill:#000">4</text>
<text x="779.6" y="2452.3" text-anchor="middle" style="font-size:22.2px;fill:#000">8</text>
<text x="831.4" y="2452.3" text-anchor="middle" style="font-size:22.2px;fill:#000">12</text>
<text x="883.1" y="2452.3" text-anchor="middle" style="font-size:22.2px;fill:#000">16</text>
<text x="934.9" y="2452.3" text-anchor="middle" style="font-size:22.2px;fill:#000">20</text>
<text x="986.7" y="2452.3" text-anchor="middle" style="font-size:22.2px;fill:#000">24</text>
<text x="836.1" y="2481.2" text-anchor="middle" style="font-size:21px;fill:#000">Time after induction (h)</text>
<text transform="translate(597.2,2258.6) rotate(-90)" text-anchor="middle" style="font-size:20.8px">Colony-forming unit per mL (CFU/mL)</text>
<line x1="675.5" y1="2014.8" x2="711.9" y2="2014.8" stroke="#f4a6b2" stroke-width="2.8"/>
<circle cx="693.8" cy="2014.8" r="4.6" fill="#f4a6b2" stroke="#000" stroke-width="2.3"/>
<text x="721.5" y="2020.6" text-anchor="start" style="font-size:16.5px;fill:#000">WT</text>
<line x1="848.3" y1="2014.8" x2="884.7" y2="2014.8" stroke="#a9abae" stroke-width="2.8"/>
<circle cx="866.6" cy="2014.8" r="4.6" fill="#a7a9ac" stroke="#000" stroke-width="2.3"/>
<text x="894.3" y="2020.6" text-anchor="start" style="font-size:16.5px;fill:#000">MBP</text>
<line x1="675.5" y1="2042.4" x2="711.9" y2="2042.4" stroke="#84c99a" stroke-width="2.8"/>
<circle cx="693.8" cy="2042.4" r="4.6" fill="#80c896" stroke="#000" stroke-width="2.3"/>
<text x="721.5" y="2048.2" text-anchor="start" style="font-size:16.5px;fill:#000">0 ng/mL aTc</text>
<line x1="848.3" y1="2042.4" x2="884.7" y2="2042.4" stroke="#bcd977" stroke-width="2.8"/>
<circle cx="866.6" cy="2042.4" r="4.6" fill="#bddb75" stroke="#000" stroke-width="2.3"/>
<text x="894.3" y="2048.2" text-anchor="start" style="font-size:16.5px;fill:#000">50 ng/mL aTc</text>
<line x1="675.5" y1="2069.5" x2="711.9" y2="2069.5" stroke="#ebcf79" stroke-width="2.8"/>
<circle cx="693.8" cy="2069.5" r="4.6" fill="#ebcd73" stroke="#000" stroke-width="2.3"/>
<text x="721.5" y="2075.3" text-anchor="start" style="font-size:16.5px;fill:#000">500 ng/mL aTc</text>
<line x1="848.3" y1="2069.5" x2="884.7" y2="2069.5" stroke="#dcd99a" stroke-width="2.8"/>
<circle cx="866.6" cy="2069.5" r="4.6" fill="#dedb98" stroke="#000" stroke-width="2.3"/>
<text x="894.3" y="2075.3" text-anchor="start" style="font-size:16.5px;fill:#000">1000 ng/mL aTc</text>
<rect x="1207.20" y="2112.70" width="51.24" height="50.98" fill="#f3f0f7" stroke="#fff" stroke-width="2"/>
<text x="1234.3" y="2143.2" text-anchor="middle" style="font-size:18.2px;fill:#000">77.4</text>
<rect x="1258.44" y="2112.70" width="51.24" height="50.98" fill="#eeeaf4" stroke="#fff" stroke-width="2"/>
<text x="1285.6" y="2143.2" text-anchor="middle" style="font-size:18.2px;fill:#000">72.4</text>
<rect x="1309.68" y="2112.70" width="51.24" height="50.98" fill="#fefeff" stroke="#fff" stroke-width="2"/>
<text x="1336.8" y="2143.2" text-anchor="middle" style="font-size:18.2px;fill:#000">89.2</text>
<rect x="1360.92" y="2112.70" width="51.24" height="50.98" fill="#fdfcfd" stroke="#fff" stroke-width="2"/>
<text x="1388.0" y="2143.2" text-anchor="middle" style="font-size:18.2px;fill:#000">87.5</text>
<rect x="1412.16" y="2112.70" width="51.24" height="50.98" fill="#fcfcfd" stroke="#fff" stroke-width="2"/>
<text x="1439.3" y="2143.2" text-anchor="middle" style="font-size:18.2px;fill:#000">87.3</text>
<rect x="1463.40" y="2112.70" width="51.24" height="50.98" fill="#fdfdfe" stroke="#fff" stroke-width="2"/>
<text x="1490.5" y="2143.2" text-anchor="middle" style="font-size:18.2px;fill:#000">88.3</text>
<rect x="1514.64" y="2112.70" width="51.24" height="50.98" fill="#fdfdfe" stroke="#fff" stroke-width="2"/>
<text x="1541.8" y="2143.2" text-anchor="middle" style="font-size:18.2px;fill:#000">88.3</text>
<rect x="1565.88" y="2112.70" width="51.24" height="50.98" fill="#ffffff" stroke="#fff" stroke-width="2"/>
<text x="1593.0" y="2143.2" text-anchor="middle" style="font-size:18.2px;fill:#000">91.3</text>
<rect x="1617.12" y="2112.70" width="51.24" height="50.98" fill="#fdfdfe" stroke="#fff" stroke-width="2"/>
<text x="1644.2" y="2143.2" text-anchor="middle" style="font-size:18.2px;fill:#000">87.9</text>
<rect x="1668.36" y="2112.70" width="51.24" height="50.98" fill="#fdfcfd" stroke="#fff" stroke-width="2"/>
<text x="1695.5" y="2143.2" text-anchor="middle" style="font-size:18.2px;fill:#000">87.4</text>
<rect x="1207.20" y="2163.68" width="51.24" height="50.98" fill="#e7e1f0" stroke="#fff" stroke-width="2"/>
<text x="1234.3" y="2194.2" text-anchor="middle" style="font-size:18.2px;fill:#000">64.9</text>
<rect x="1258.44" y="2163.68" width="51.24" height="50.98" fill="#f4f1f8" stroke="#fff" stroke-width="2"/>
<text x="1285.6" y="2194.2" text-anchor="middle" style="font-size:18.2px;fill:#000">78.2</text>
<rect x="1309.68" y="2163.68" width="51.24" height="50.98" fill="#ede9f4" stroke="#fff" stroke-width="2"/>
<text x="1336.8" y="2194.2" text-anchor="middle" style="font-size:18.2px;fill:#000">71.4</text>
<rect x="1360.92" y="2163.68" width="51.24" height="50.98" fill="#ede9f3" stroke="#fff" stroke-width="2"/>
<text x="1388.0" y="2194.2" text-anchor="middle" style="font-size:18.2px;fill:#000">71.2</text>
<rect x="1412.16" y="2163.68" width="51.24" height="50.98" fill="#e6e0ef" stroke="#fff" stroke-width="2"/>
<text x="1439.3" y="2194.2" text-anchor="middle" style="font-size:18.2px;fill:#000">64.1</text>
<rect x="1463.40" y="2163.68" width="51.24" height="50.98" fill="#e5dfee" stroke="#fff" stroke-width="2"/>
<text x="1490.5" y="2194.2" text-anchor="middle" style="font-size:18.2px;fill:#000">63.0</text>
<rect x="1514.64" y="2163.68" width="51.24" height="50.98" fill="#e9e3f0" stroke="#fff" stroke-width="2"/>
<text x="1541.8" y="2194.2" text-anchor="middle" style="font-size:18.2px;fill:#000">66.3</text>
<rect x="1565.88" y="2163.68" width="51.24" height="50.98" fill="#e5deee" stroke="#fff" stroke-width="2"/>
<text x="1593.0" y="2194.2" text-anchor="middle" style="font-size:18.2px;fill:#000">62.1</text>
<rect x="1617.12" y="2163.68" width="51.24" height="50.98" fill="#e0d8eb" stroke="#fff" stroke-width="2"/>
<text x="1644.2" y="2194.2" text-anchor="middle" style="font-size:18.2px;fill:#000">57.3</text>
<rect x="1668.36" y="2163.68" width="51.24" height="50.98" fill="#e6dfef" stroke="#fff" stroke-width="2"/>
<text x="1695.5" y="2194.2" text-anchor="middle" style="font-size:18.2px;fill:#000">63.1</text>
<rect x="1207.20" y="2214.66" width="51.24" height="50.98" fill="#d1c5e1" stroke="#fff" stroke-width="2"/>
<text x="1234.3" y="2245.1" text-anchor="middle" style="font-size:18.2px;fill:#000">41.4</text>
<rect x="1258.44" y="2214.66" width="51.24" height="50.98" fill="#f0ecf5" stroke="#fff" stroke-width="2"/>
<text x="1285.6" y="2245.1" text-anchor="middle" style="font-size:18.2px;fill:#000">73.8</text>
<rect x="1309.68" y="2214.66" width="51.24" height="50.98" fill="#ebe6f2" stroke="#fff" stroke-width="2"/>
<text x="1336.8" y="2245.1" text-anchor="middle" style="font-size:18.2px;fill:#000">69.2</text>
<rect x="1360.92" y="2214.66" width="51.24" height="50.98" fill="#e4dded" stroke="#fff" stroke-width="2"/>
<text x="1388.0" y="2245.1" text-anchor="middle" style="font-size:18.2px;fill:#000">61.3</text>
<rect x="1412.16" y="2214.66" width="51.24" height="50.98" fill="#d4c9e3" stroke="#fff" stroke-width="2"/>
<text x="1439.3" y="2245.1" text-anchor="middle" style="font-size:18.2px;fill:#000">44.4</text>
<rect x="1463.40" y="2214.66" width="51.24" height="50.98" fill="#dad0e7" stroke="#fff" stroke-width="2"/>
<text x="1490.5" y="2245.1" text-anchor="middle" style="font-size:18.2px;fill:#000">50.7</text>
<rect x="1514.64" y="2214.66" width="51.24" height="50.98" fill="#e5deee" stroke="#fff" stroke-width="2"/>
<text x="1541.8" y="2245.1" text-anchor="middle" style="font-size:18.2px;fill:#000">62.4</text>
<rect x="1565.88" y="2214.66" width="51.24" height="50.98" fill="#eae4f1" stroke="#fff" stroke-width="2"/>
<text x="1593.0" y="2245.1" text-anchor="middle" style="font-size:18.2px;fill:#000">67.4</text>
<rect x="1617.12" y="2214.66" width="51.24" height="50.98" fill="#dbd2e8" stroke="#fff" stroke-width="2"/>
<text x="1644.2" y="2245.1" text-anchor="middle" style="font-size:18.2px;fill:#000">52.3</text>
<rect x="1668.36" y="2214.66" width="51.24" height="50.98" fill="#dbd2e8" stroke="#fff" stroke-width="2"/>
<text x="1695.5" y="2245.1" text-anchor="middle" style="font-size:18.2px;fill:#000">52.3</text>
<rect x="1207.20" y="2265.64" width="51.24" height="50.98" fill="#cdc0df" stroke="#fff" stroke-width="2"/>
<text x="1234.3" y="2296.1" text-anchor="middle" style="font-size:18.2px;fill:#000">37.1</text>
<rect x="1258.44" y="2265.64" width="51.24" height="50.98" fill="#f0edf6" stroke="#fff" stroke-width="2"/>
<text x="1285.6" y="2296.1" text-anchor="middle" style="font-size:18.2px;fill:#000">74.6</text>
<rect x="1309.68" y="2265.64" width="51.24" height="50.98" fill="#ece7f3" stroke="#fff" stroke-width="2"/>
<text x="1336.8" y="2296.1" text-anchor="middle" style="font-size:18.2px;fill:#000">70.0</text>
<rect x="1360.92" y="2265.64" width="51.24" height="50.98" fill="#e9e4f1" stroke="#fff" stroke-width="2"/>
<text x="1388.0" y="2296.1" text-anchor="middle" style="font-size:18.2px;fill:#000">67.2</text>
<rect x="1412.16" y="2265.64" width="51.24" height="50.98" fill="#efeaf4" stroke="#fff" stroke-width="2"/>
<text x="1439.3" y="2296.1" text-anchor="middle" style="font-size:18.2px;fill:#000">72.6</text>
<rect x="1463.40" y="2265.64" width="51.24" height="50.98" fill="#ede9f4" stroke="#fff" stroke-width="2"/>
<text x="1490.5" y="2296.1" text-anchor="middle" style="font-size:18.2px;fill:#000">71.3</text>
<rect x="1514.64" y="2265.64" width="51.24" height="50.98" fill="#eae5f1" stroke="#fff" stroke-width="2"/>
<text x="1541.8" y="2296.1" text-anchor="middle" style="font-size:18.2px;fill:#000">67.8</text>
<rect x="1565.88" y="2265.64" width="51.24" height="50.98" fill="#ede8f3" stroke="#fff" stroke-width="2"/>
<text x="1593.0" y="2296.1" text-anchor="middle" style="font-size:18.2px;fill:#000">70.7</text>
<rect x="1617.12" y="2265.64" width="51.24" height="50.98" fill="#ebe7f2" stroke="#fff" stroke-width="2"/>
<text x="1644.2" y="2296.1" text-anchor="middle" style="font-size:18.2px;fill:#000">69.4</text>
<rect x="1668.36" y="2265.64" width="51.24" height="50.98" fill="#e8e2f0" stroke="#fff" stroke-width="2"/>
<text x="1695.5" y="2296.1" text-anchor="middle" style="font-size:18.2px;fill:#000">65.2</text>
<rect x="1207.20" y="2316.62" width="51.24" height="50.98" fill="#baa9d3" stroke="#fff" stroke-width="2"/>
<text x="1234.3" y="2347.1" text-anchor="middle" style="font-size:18.2px;fill:#000">17.6</text>
<rect x="1258.44" y="2316.62" width="51.24" height="50.98" fill="#ebe6f2" stroke="#fff" stroke-width="2"/>
<text x="1285.6" y="2347.1" text-anchor="middle" style="font-size:18.2px;fill:#000">68.7</text>
<rect x="1309.68" y="2316.62" width="51.24" height="50.98" fill="#eae5f1" stroke="#fff" stroke-width="2"/>
<text x="1336.8" y="2347.1" text-anchor="middle" style="font-size:18.2px;fill:#000">67.8</text>
<rect x="1360.92" y="2316.62" width="51.24" height="50.98" fill="#f2eef6" stroke="#fff" stroke-width="2"/>
<text x="1388.0" y="2347.1" text-anchor="middle" style="font-size:18.2px;fill:#000">76.0</text>
<rect x="1412.16" y="2316.62" width="51.24" height="50.98" fill="#f0ecf5" stroke="#fff" stroke-width="2"/>
<text x="1439.3" y="2347.1" text-anchor="middle" style="font-size:18.2px;fill:#000">74.0</text>
<rect x="1463.40" y="2316.62" width="51.24" height="50.98" fill="#f0edf6" stroke="#fff" stroke-width="2"/>
<text x="1490.5" y="2347.1" text-anchor="middle" style="font-size:18.2px;fill:#000">74.6</text>
<rect x="1514.64" y="2316.62" width="51.24" height="50.98" fill="#e3dced" stroke="#fff" stroke-width="2"/>
<text x="1541.8" y="2347.1" text-anchor="middle" style="font-size:18.2px;fill:#000">60.4</text>
<rect x="1565.88" y="2316.62" width="51.24" height="50.98" fill="#ece7f2" stroke="#fff" stroke-width="2"/>
<text x="1593.0" y="2347.1" text-anchor="middle" style="font-size:18.2px;fill:#000">69.5</text>
<rect x="1617.12" y="2316.62" width="51.24" height="50.98" fill="#ebe6f2" stroke="#fff" stroke-width="2"/>
<text x="1644.2" y="2347.1" text-anchor="middle" style="font-size:18.2px;fill:#000">68.8</text>
<rect x="1668.36" y="2316.62" width="51.24" height="50.98" fill="#f1edf6" stroke="#fff" stroke-width="2"/>
<text x="1695.5" y="2347.1" text-anchor="middle" style="font-size:18.2px;fill:#000">75.0</text>
<rect x="1207.2" y="2112.7" width="512.4" height="254.9" fill="none" stroke="#000" stroke-width="3"/>
<path d="M1232.8,2112.7V2101.7M1284.1,2112.7V2101.7M1335.3,2112.7V2101.7M1386.5,2112.7V2101.7M1437.8,2112.7V2101.7M1489.0,2112.7V2101.7M1540.3,2112.7V2101.7M1591.5,2112.7V2101.7M1642.7,2112.7V2101.7M1694.0,2112.7V2101.7M1207.2,2138.2H1197.2M1207.2,2189.2H1197.2M1207.2,2240.1H1197.2M1207.2,2291.1H1197.2M1207.2,2342.1H1197.2" stroke="#000" stroke-width="2.6" fill="none"/>
<text x="1184.4" y="2146.0" text-anchor="end" style="font-size:20.5px;fill:#000">0</text>
<text x="1184.4" y="2197.0" text-anchor="end" style="font-size:20.5px;fill:#000">4</text>
<text x="1184.4" y="2247.9" text-anchor="end" style="font-size:20.5px;fill:#000">8</text>
<text x="1184.4" y="2298.9" text-anchor="end" style="font-size:20.5px;fill:#000">12</text>
<text x="1184.4" y="2349.9" text-anchor="end" style="font-size:20.5px;fill:#000">24</text>
<text transform="translate(1236.0,2091) rotate(-45)" style="font-size:20.8px">WT</text>
<text transform="translate(1287.3,2091) rotate(-45)" style="font-size:20.8px">MBP</text>
<text transform="translate(1338.5,2091) rotate(-45)" style="font-size:20.8px">0</text>
<text transform="translate(1389.7,2091) rotate(-45)" style="font-size:20.8px">20</text>
<text transform="translate(1441.0,2091) rotate(-45)" style="font-size:20.8px">200</text>
<text transform="translate(1492.2,2091) rotate(-45)" style="font-size:20.8px">400</text>
<text transform="translate(1543.5,2091) rotate(-45)" style="font-size:20.8px">0</text>
<text transform="translate(1594.7,2091) rotate(-45)" style="font-size:20.8px">50</text>
<text transform="translate(1645.9,2091) rotate(-45)" style="font-size:20.8px">500</text>
<text transform="translate(1697.2,2091) rotate(-45)" style="font-size:20.8px">1000</text>
<text x="1412.2" y="2023.5" text-anchor="middle" style="font-size:21px;fill:#000">[IPTG] (μM)</text>
<text x="1617.2" y="2023.5" text-anchor="middle" style="font-size:21px;fill:#000">[aTc] (ng/mL)</text>
<line x1="1333.9" y1="2035.9" x2="1489.9" y2="2035.9" stroke="#000" stroke-width="3"/>
<line x1="1538.8" y1="2035.9" x2="1694.8" y2="2035.9" stroke="#000" stroke-width="3"/>
<text transform="translate(1145.9,2243.6) rotate(-90)" text-anchor="middle" style="font-size:21.2px">Time after induction (h)</text>
<defs><linearGradient id="cb" x1="0" x2="1" y1="0" y2="0"><stop offset="0" stop-color="#b8a6d1"/><stop offset="1" stop-color="#ffffff"/></linearGradient></defs>
<rect x="1207.2" y="2385.5" width="512.4" height="26.8" fill="url(#cb)" stroke="#000" stroke-width="3"/>
<text x="1241.4" y="2451.5" text-anchor="middle" style="font-size:20.5px;fill:#000">20</text>
<text x="1378.0" y="2451.5" text-anchor="middle" style="font-size:20.5px;fill:#000">40</text>
<text x="1514.6" y="2451.5" text-anchor="middle" style="font-size:20.5px;fill:#000">60</text>
<text x="1651.3" y="2451.5" text-anchor="middle" style="font-size:20.5px;fill:#000">80</text>
<path d="M1241.4,2385.5v5.5M1241.4,2412.3v-5.5M1378.0,2385.5v5.5M1378.0,2412.3v-5.5M1514.6,2385.5v5.5M1514.6,2412.3v-5.5M1651.3,2385.5v5.5M1651.3,2412.3v-5.5" stroke="#000" stroke-width="2.6" fill="none"/>
<text x="1465.0" y="2480.0" text-anchor="middle" style="font-size:20.5px;fill:#000">Cell Viability (%)</text>
</svg>
</body></html>
